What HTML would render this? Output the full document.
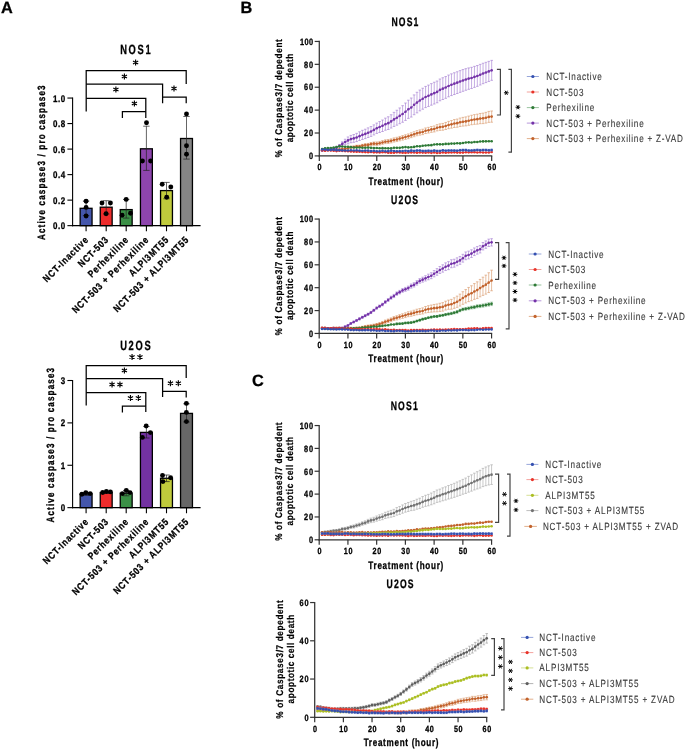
<!DOCTYPE html>
<html><head><meta charset="utf-8"><title>Figure</title>
<style>
html,body{margin:0;padding:0;background:#fff;}
body{width:685px;height:749px;overflow:hidden;}
svg{display:block;font-family:"Liberation Sans", sans-serif;will-change:transform;text-rendering:geometricPrecision;}
</style></head>
<body>
<svg width="685" height="749" viewBox="0 0 685 749">
<rect width="685" height="749" fill="#fff"/>
<text x="1" y="12.9" font-size="16.3" font-weight="bold" stroke="#000" stroke-width="0.3">A</text>
<text x="240.6" y="12.8" font-size="16.3" font-weight="bold" stroke="#000" stroke-width="0.3">B</text>
<text x="252" y="386.4" font-size="16.3" font-weight="bold" stroke="#000" stroke-width="0.3">C</text>
<rect x="80.15" y="208.3" width="11.9" height="17.35" fill="#4456AB" stroke="#000" stroke-width="1.3"/>
<rect x="100.25" y="207.2" width="11.9" height="18.45" fill="#EE2C2C" stroke="#000" stroke-width="1.3"/>
<rect x="120.25" y="209.6" width="11.9" height="16.05" fill="#3B9046" stroke="#000" stroke-width="1.3"/>
<rect x="140.45" y="148.8" width="11.9" height="76.85" fill="#8E45AE" stroke="#000" stroke-width="1.3"/>
<rect x="160.55" y="190.6" width="11.9" height="35.05" fill="#C0CB3C" stroke="#000" stroke-width="1.3"/>
<rect x="180.55" y="138.5" width="11.9" height="87.15" fill="#858585" stroke="#000" stroke-width="1.3"/>
<line x1="86.1" y1="201" x2="86.1" y2="215.5" stroke="#222" stroke-width="0.7"/>
<line x1="82.9" y1="201" x2="89.3" y2="201" stroke="#222" stroke-width="0.7"/>
<line x1="82.9" y1="215.5" x2="89.3" y2="215.5" stroke="#222" stroke-width="0.7"/>
<line x1="106.2" y1="200.7" x2="106.2" y2="214" stroke="#222" stroke-width="0.7"/>
<line x1="103" y1="200.7" x2="109.4" y2="200.7" stroke="#222" stroke-width="0.7"/>
<line x1="103" y1="214" x2="109.4" y2="214" stroke="#222" stroke-width="0.7"/>
<line x1="126.2" y1="199.4" x2="126.2" y2="218.1" stroke="#222" stroke-width="0.7"/>
<line x1="123" y1="199.4" x2="129.4" y2="199.4" stroke="#222" stroke-width="0.7"/>
<line x1="123" y1="218.1" x2="129.4" y2="218.1" stroke="#222" stroke-width="0.7"/>
<line x1="146.4" y1="126.2" x2="146.4" y2="170.4" stroke="#222" stroke-width="0.7"/>
<line x1="143.2" y1="126.2" x2="149.6" y2="126.2" stroke="#222" stroke-width="0.7"/>
<line x1="143.2" y1="170.4" x2="149.6" y2="170.4" stroke="#222" stroke-width="0.7"/>
<line x1="166.5" y1="182.4" x2="166.5" y2="198.8" stroke="#222" stroke-width="0.7"/>
<line x1="163.3" y1="182.4" x2="169.7" y2="182.4" stroke="#222" stroke-width="0.7"/>
<line x1="163.3" y1="198.8" x2="169.7" y2="198.8" stroke="#222" stroke-width="0.7"/>
<line x1="186.5" y1="116.5" x2="186.5" y2="159.1" stroke="#222" stroke-width="0.7"/>
<line x1="183.3" y1="116.5" x2="189.7" y2="116.5" stroke="#222" stroke-width="0.7"/>
<line x1="183.3" y1="159.1" x2="189.7" y2="159.1" stroke="#222" stroke-width="0.7"/>
<circle cx="86.1" cy="201.2" r="2.45" fill="#000"/>
<circle cx="86.1" cy="207.4" r="2.45" fill="#000"/>
<circle cx="86.1" cy="216" r="2.45" fill="#000"/>
<circle cx="102" cy="203" r="2.45" fill="#000"/>
<circle cx="110.4" cy="203" r="2.45" fill="#000"/>
<circle cx="106.1" cy="213.7" r="2.45" fill="#000"/>
<circle cx="126.2" cy="199.4" r="2.45" fill="#000"/>
<circle cx="122.1" cy="215.3" r="2.45" fill="#000"/>
<circle cx="130.5" cy="213.2" r="2.45" fill="#000"/>
<circle cx="146.5" cy="122.8" r="2.45" fill="#000"/>
<circle cx="142.4" cy="161" r="2.45" fill="#000"/>
<circle cx="150.6" cy="161" r="2.45" fill="#000"/>
<circle cx="162.2" cy="184.2" r="2.45" fill="#000"/>
<circle cx="170.8" cy="187" r="2.45" fill="#000"/>
<circle cx="166.7" cy="197.3" r="2.45" fill="#000"/>
<circle cx="186.5" cy="113.9" r="2.45" fill="#000"/>
<circle cx="186.5" cy="145.7" r="2.45" fill="#000"/>
<circle cx="186.5" cy="154.3" r="2.45" fill="#000"/>
<line x1="72.6" y1="97.55" x2="72.6" y2="226.2" stroke="#000" stroke-width="1.1"/>
<line x1="72.05" y1="225.65" x2="200.6" y2="225.65" stroke="#000" stroke-width="1.1"/>
<line x1="67.4" y1="225.65" x2="72.6" y2="225.65" stroke="#000" stroke-width="1.1"/>
<text transform="translate(65.2 229.15) scale(0.83 1)" x="0" y="0" font-size="9.6" font-weight="bold" text-anchor="end" textLength="14.7" lengthAdjust="spacing" stroke="#000" stroke-width="0.3">0.0</text>
<line x1="67.4" y1="200.13" x2="72.6" y2="200.13" stroke="#000" stroke-width="1.1"/>
<text transform="translate(65.2 203.63) scale(0.83 1)" x="0" y="0" font-size="9.6" font-weight="bold" text-anchor="end" textLength="14.7" lengthAdjust="spacing" stroke="#000" stroke-width="0.3">0.2</text>
<line x1="67.4" y1="174.61" x2="72.6" y2="174.61" stroke="#000" stroke-width="1.1"/>
<text transform="translate(65.2 178.11) scale(0.83 1)" x="0" y="0" font-size="9.6" font-weight="bold" text-anchor="end" textLength="14.7" lengthAdjust="spacing" stroke="#000" stroke-width="0.3">0.4</text>
<line x1="67.4" y1="149.09" x2="72.6" y2="149.09" stroke="#000" stroke-width="1.1"/>
<text transform="translate(65.2 152.59) scale(0.83 1)" x="0" y="0" font-size="9.6" font-weight="bold" text-anchor="end" textLength="14.7" lengthAdjust="spacing" stroke="#000" stroke-width="0.3">0.6</text>
<line x1="67.4" y1="123.57" x2="72.6" y2="123.57" stroke="#000" stroke-width="1.1"/>
<text transform="translate(65.2 127.07) scale(0.83 1)" x="0" y="0" font-size="9.6" font-weight="bold" text-anchor="end" textLength="14.7" lengthAdjust="spacing" stroke="#000" stroke-width="0.3">0.8</text>
<line x1="67.4" y1="98.05" x2="72.6" y2="98.05" stroke="#000" stroke-width="1.1"/>
<text transform="translate(65.2 101.55) scale(0.83 1)" x="0" y="0" font-size="9.6" font-weight="bold" text-anchor="end" textLength="14.7" lengthAdjust="spacing" stroke="#000" stroke-width="0.3">1.0</text>
<line x1="86.1" y1="225.65" x2="86.1" y2="231.25" stroke="#000" stroke-width="1.1"/>
<line x1="106.2" y1="225.65" x2="106.2" y2="231.25" stroke="#000" stroke-width="1.1"/>
<line x1="126.2" y1="225.65" x2="126.2" y2="231.25" stroke="#000" stroke-width="1.1"/>
<line x1="146.4" y1="225.65" x2="146.4" y2="231.25" stroke="#000" stroke-width="1.1"/>
<line x1="166.5" y1="225.65" x2="166.5" y2="231.25" stroke="#000" stroke-width="1.1"/>
<line x1="186.5" y1="225.65" x2="186.5" y2="231.25" stroke="#000" stroke-width="1.1"/>
<text transform="translate(89.3 240.25) rotate(-45) scale(0.85 1)" x="0" y="0" font-size="9.8" font-weight="bold" text-anchor="end" stroke="#000" stroke-width="0.3" letter-spacing="0.94">NCT-Inactive</text>
<text transform="translate(109.4 240.25) rotate(-45) scale(0.85 1)" x="0" y="0" font-size="9.8" font-weight="bold" text-anchor="end" stroke="#000" stroke-width="0.3" letter-spacing="0.94">NCT-503</text>
<text transform="translate(129.4 240.25) rotate(-45) scale(0.85 1)" x="0" y="0" font-size="9.8" font-weight="bold" text-anchor="end" stroke="#000" stroke-width="0.3" letter-spacing="0.94">Perhexiline</text>
<text transform="translate(149.6 240.25) rotate(-45) scale(0.85 1)" x="0" y="0" font-size="9.8" font-weight="bold" text-anchor="end" stroke="#000" stroke-width="0.3" letter-spacing="0.94">NCT-503 + Perhexiline</text>
<text transform="translate(169.7 240.25) rotate(-45) scale(0.85 1)" x="0" y="0" font-size="9.8" font-weight="bold" text-anchor="end" stroke="#000" stroke-width="0.3" letter-spacing="0.94">ALPI3MT55</text>
<text transform="translate(189.7 240.25) rotate(-45) scale(0.85 1)" x="0" y="0" font-size="9.8" font-weight="bold" text-anchor="end" stroke="#000" stroke-width="0.3" letter-spacing="0.94">NCT-503 + ALPI3MT55</text>
<text transform="translate(45.3 162.7) rotate(-90) scale(0.76 1)" x="0" y="0" font-size="10.6" font-weight="bold" text-anchor="middle" textLength="203.42" lengthAdjust="spacing" stroke="#000" stroke-width="0.3">Active caspase3 / pro caspase3</text>
<text transform="translate(120.2 54) scale(0.7 1)" x="0" y="0" font-size="13.3" font-weight="bold" textLength="43.43" lengthAdjust="spacing" stroke="#000" stroke-width="0.3">NOS1</text>
<polyline points="86.2,111.4 86.2,70.6 186.2,70.6 186.2,84" fill="none" stroke="#000" stroke-width="1.25"/>
<polyline points="86.2,84.2 162.6,84.2 162.6,103.2" fill="none" stroke="#000" stroke-width="1.25"/>
<polyline points="86.2,98.4 145.8,98.4 145.8,118" fill="none" stroke="#000" stroke-width="1.25"/>
<polyline points="122.4,118 122.4,111.6 145.8,111.6" fill="none" stroke="#000" stroke-width="1.25"/>
<polyline points="162.6,97 186.2,97 186.2,103.2" fill="none" stroke="#000" stroke-width="1.25"/>
<path d="M135.6 59.6L135.6 65.6M133 61.1L138.2 64.1M138.2 61.1L133 64.1" stroke="#000" stroke-width="1.15" fill="none"/>
<path d="M124.4 73.4L124.4 79.4M121.8 74.9L127 77.9M127 74.9L121.8 77.9" stroke="#000" stroke-width="1.15" fill="none"/>
<path d="M115.9 86.6L115.9 92.6M113.3 88.1L118.5 91.1M118.5 88.1L113.3 91.1" stroke="#000" stroke-width="1.15" fill="none"/>
<path d="M134.4 100.6L134.4 106.6M131.8 102.1L137 105.1M137 102.1L131.8 105.1" stroke="#000" stroke-width="1.15" fill="none"/>
<path d="M174 85.6L174 91.6M171.4 87.1L176.6 90.1M176.6 87.1L171.4 90.1" stroke="#000" stroke-width="1.15" fill="none"/>
<rect x="80.15" y="494" width="11.9" height="13.65" fill="#4456AB" stroke="#000" stroke-width="1.3"/>
<rect x="100.25" y="492.5" width="11.9" height="15.15" fill="#EE2C2C" stroke="#000" stroke-width="1.3"/>
<rect x="120.25" y="493.2" width="11.9" height="14.45" fill="#3B9046" stroke="#000" stroke-width="1.3"/>
<rect x="140.45" y="432.4" width="11.9" height="75.25" fill="#7332A2" stroke="#000" stroke-width="1.3"/>
<rect x="160.55" y="478.3" width="11.9" height="29.35" fill="#C0CB3C" stroke="#000" stroke-width="1.3"/>
<rect x="180.55" y="413.4" width="11.9" height="94.25" fill="#676767" stroke="#000" stroke-width="1.3"/>
<line x1="86.1" y1="492.6" x2="86.1" y2="495.5" stroke="#222" stroke-width="0.7"/>
<line x1="82.9" y1="492.6" x2="89.3" y2="492.6" stroke="#222" stroke-width="0.7"/>
<line x1="82.9" y1="495.5" x2="89.3" y2="495.5" stroke="#222" stroke-width="0.7"/>
<line x1="106.2" y1="491.5" x2="106.2" y2="493.5" stroke="#222" stroke-width="0.7"/>
<line x1="103" y1="491.5" x2="109.4" y2="491.5" stroke="#222" stroke-width="0.7"/>
<line x1="103" y1="493.5" x2="109.4" y2="493.5" stroke="#222" stroke-width="0.7"/>
<line x1="126.2" y1="490.4" x2="126.2" y2="495.8" stroke="#222" stroke-width="0.7"/>
<line x1="123" y1="490.4" x2="129.4" y2="490.4" stroke="#222" stroke-width="0.7"/>
<line x1="123" y1="495.8" x2="129.4" y2="495.8" stroke="#222" stroke-width="0.7"/>
<line x1="146.4" y1="426.5" x2="146.4" y2="438" stroke="#222" stroke-width="0.7"/>
<line x1="143.2" y1="426.5" x2="149.6" y2="426.5" stroke="#222" stroke-width="0.7"/>
<line x1="143.2" y1="438" x2="149.6" y2="438" stroke="#222" stroke-width="0.7"/>
<line x1="166.5" y1="475" x2="166.5" y2="481.6" stroke="#222" stroke-width="0.7"/>
<line x1="163.3" y1="475" x2="169.7" y2="475" stroke="#222" stroke-width="0.7"/>
<line x1="163.3" y1="481.6" x2="169.7" y2="481.6" stroke="#222" stroke-width="0.7"/>
<line x1="186.5" y1="403.8" x2="186.5" y2="422" stroke="#222" stroke-width="0.7"/>
<line x1="183.3" y1="403.8" x2="189.7" y2="403.8" stroke="#222" stroke-width="0.7"/>
<line x1="183.3" y1="422" x2="189.7" y2="422" stroke="#222" stroke-width="0.7"/>
<circle cx="81.9" cy="494.3" r="2.45" fill="#000"/>
<circle cx="85.8" cy="492.6" r="2.45" fill="#000"/>
<circle cx="90.2" cy="493.6" r="2.45" fill="#000"/>
<circle cx="102.7" cy="492.5" r="2.45" fill="#000"/>
<circle cx="106.4" cy="491.5" r="2.45" fill="#000"/>
<circle cx="110.4" cy="491.9" r="2.45" fill="#000"/>
<circle cx="122.4" cy="493.6" r="2.45" fill="#000"/>
<circle cx="126.3" cy="490.4" r="2.45" fill="#000"/>
<circle cx="130" cy="492.6" r="2.45" fill="#000"/>
<circle cx="146.2" cy="426" r="2.45" fill="#000"/>
<circle cx="150.4" cy="432.6" r="2.45" fill="#000"/>
<circle cx="142.4" cy="437.4" r="2.45" fill="#000"/>
<circle cx="162.5" cy="475.5" r="2.45" fill="#000"/>
<circle cx="170.6" cy="477.7" r="2.45" fill="#000"/>
<circle cx="162.9" cy="481.6" r="2.45" fill="#000"/>
<circle cx="186.4" cy="403.4" r="2.45" fill="#000"/>
<circle cx="186.4" cy="412.4" r="2.45" fill="#000"/>
<circle cx="186.4" cy="421.6" r="2.45" fill="#000"/>
<line x1="72.6" y1="380.01" x2="72.6" y2="508.2" stroke="#000" stroke-width="1.1"/>
<line x1="72.05" y1="507.65" x2="200.6" y2="507.65" stroke="#000" stroke-width="1.1"/>
<line x1="67.4" y1="507.65" x2="72.6" y2="507.65" stroke="#000" stroke-width="1.1"/>
<text transform="translate(65.2 511.15) scale(0.83 1)" x="0" y="0" font-size="9.6" font-weight="bold" text-anchor="end" stroke="#000" stroke-width="0.3">0</text>
<line x1="67.4" y1="465.27" x2="72.6" y2="465.27" stroke="#000" stroke-width="1.1"/>
<text transform="translate(65.2 468.77) scale(0.83 1)" x="0" y="0" font-size="9.6" font-weight="bold" text-anchor="end" stroke="#000" stroke-width="0.3">1</text>
<line x1="67.4" y1="422.89" x2="72.6" y2="422.89" stroke="#000" stroke-width="1.1"/>
<text transform="translate(65.2 426.39) scale(0.83 1)" x="0" y="0" font-size="9.6" font-weight="bold" text-anchor="end" stroke="#000" stroke-width="0.3">2</text>
<line x1="67.4" y1="380.51" x2="72.6" y2="380.51" stroke="#000" stroke-width="1.1"/>
<text transform="translate(65.2 384.01) scale(0.83 1)" x="0" y="0" font-size="9.6" font-weight="bold" text-anchor="end" stroke="#000" stroke-width="0.3">3</text>
<line x1="86.1" y1="507.65" x2="86.1" y2="513.25" stroke="#000" stroke-width="1.1"/>
<line x1="106.2" y1="507.65" x2="106.2" y2="513.25" stroke="#000" stroke-width="1.1"/>
<line x1="126.2" y1="507.65" x2="126.2" y2="513.25" stroke="#000" stroke-width="1.1"/>
<line x1="146.4" y1="507.65" x2="146.4" y2="513.25" stroke="#000" stroke-width="1.1"/>
<line x1="166.5" y1="507.65" x2="166.5" y2="513.25" stroke="#000" stroke-width="1.1"/>
<line x1="186.5" y1="507.65" x2="186.5" y2="513.25" stroke="#000" stroke-width="1.1"/>
<text transform="translate(89.3 522.25) rotate(-45) scale(0.85 1)" x="0" y="0" font-size="9.8" font-weight="bold" text-anchor="end" stroke="#000" stroke-width="0.3" letter-spacing="0.94">NCT-Inactive</text>
<text transform="translate(109.4 522.25) rotate(-45) scale(0.85 1)" x="0" y="0" font-size="9.8" font-weight="bold" text-anchor="end" stroke="#000" stroke-width="0.3" letter-spacing="0.94">NCT-503</text>
<text transform="translate(129.4 522.25) rotate(-45) scale(0.85 1)" x="0" y="0" font-size="9.8" font-weight="bold" text-anchor="end" stroke="#000" stroke-width="0.3" letter-spacing="0.94">Perhexiline</text>
<text transform="translate(149.6 522.25) rotate(-45) scale(0.85 1)" x="0" y="0" font-size="9.8" font-weight="bold" text-anchor="end" stroke="#000" stroke-width="0.3" letter-spacing="0.94">NCT-503 + Perhexiline</text>
<text transform="translate(169.7 522.25) rotate(-45) scale(0.85 1)" x="0" y="0" font-size="9.8" font-weight="bold" text-anchor="end" stroke="#000" stroke-width="0.3" letter-spacing="0.94">ALPI3MT55</text>
<text transform="translate(189.7 522.25) rotate(-45) scale(0.85 1)" x="0" y="0" font-size="9.8" font-weight="bold" text-anchor="end" stroke="#000" stroke-width="0.3" letter-spacing="0.94">NCT-503 + ALPI3MT55</text>
<text transform="translate(53.7 445.2) rotate(-90) scale(0.76 1)" x="0" y="0" font-size="10.6" font-weight="bold" text-anchor="middle" textLength="203.42" lengthAdjust="spacing" stroke="#000" stroke-width="0.3">Active caspase3 / pro caspase3</text>
<text transform="translate(120.2 350.4) scale(0.7 1)" x="0" y="0" font-size="13.3" font-weight="bold" textLength="43.43" lengthAdjust="spacing" stroke="#000" stroke-width="0.3">U2OS</text>
<polyline points="86.2,405.6 86.2,365.6 186.2,365.6 186.2,378" fill="none" stroke="#000" stroke-width="1.25"/>
<polyline points="86.2,378.6 162.6,378.6 162.6,397" fill="none" stroke="#000" stroke-width="1.25"/>
<polyline points="86.2,392.6 145.8,392.6 145.8,412" fill="none" stroke="#000" stroke-width="1.25"/>
<polyline points="122.4,412.4 122.4,406.2 145.8,406.2" fill="none" stroke="#000" stroke-width="1.25"/>
<polyline points="162.6,391.4 186.2,391.4 186.2,397.4" fill="none" stroke="#000" stroke-width="1.25"/>
<path d="M132.05 354L132.05 360M129.45 355.5L134.65 358.5M134.65 355.5L129.45 358.5" stroke="#000" stroke-width="1.15" fill="none"/>
<path d="M139.95 354L139.95 360M137.35 355.5L142.55 358.5M142.55 355.5L137.35 358.5" stroke="#000" stroke-width="1.15" fill="none"/>
<path d="M124.4 367.6L124.4 373.6M121.8 369.1L127 372.1M127 369.1L121.8 372.1" stroke="#000" stroke-width="1.15" fill="none"/>
<path d="M112.05 381.4L112.05 387.4M109.45 382.9L114.65 385.9M114.65 382.9L109.45 385.9" stroke="#000" stroke-width="1.15" fill="none"/>
<path d="M119.95 381.4L119.95 387.4M117.35 382.9L122.55 385.9M122.55 382.9L117.35 385.9" stroke="#000" stroke-width="1.15" fill="none"/>
<path d="M130.45 395L130.45 401M127.85 396.5L133.05 399.5M133.05 396.5L127.85 399.5" stroke="#000" stroke-width="1.15" fill="none"/>
<path d="M138.35 395L138.35 401M135.75 396.5L140.95 399.5M140.95 396.5L135.75 399.5" stroke="#000" stroke-width="1.15" fill="none"/>
<path d="M170.45 380.2L170.45 386.2M167.85 381.7L173.05 384.7M173.05 381.7L167.85 384.7" stroke="#000" stroke-width="1.15" fill="none"/>
<path d="M178.35 380.2L178.35 386.2M175.75 381.7L180.95 384.7M180.95 381.7L175.75 384.7" stroke="#000" stroke-width="1.15" fill="none"/>
<path d="M339.41 148.7V150.3M338.11 148.7H340.71M338.11 150.3H340.71M342.28 148.25V149.93M340.98 148.25H343.58M340.98 149.93H343.58M345.16 148.04V149.8M343.86 148.04H346.46M343.86 149.8H346.46M348.03 147.36V149.19M346.73 147.36H349.33M346.73 149.19H349.33M350.9 146.24V148.23M349.6 146.24H352.2M349.6 148.23H352.2M353.78 145.94V148.09M352.48 145.94H355.08M352.48 148.09H355.08M356.65 145.21V147.52M355.35 145.21H357.95M355.35 147.52H357.95M359.52 145.11V147.58M358.22 145.11H360.82M358.22 147.58H360.82M362.4 144.33V146.97M361.1 144.33H363.7M361.1 146.97H363.7M365.27 143.66V146.45M363.97 143.66H366.57M363.97 146.45H366.57M368.14 143.42V146.37M366.84 143.42H369.44M366.84 146.37H369.44M371.01 142.49V145.6M369.71 142.49H372.31M369.71 145.6H372.31M373.89 142V145.27M372.59 142H375.19M372.59 145.27H375.19M376.76 141.96V145.39M375.46 141.96H378.06M375.46 145.39H378.06M379.63 141.44V144.98M378.33 141.44H380.93M378.33 144.98H380.93M382.51 140.6V144.26M381.21 140.6H383.81M381.21 144.26H383.81M385.38 139.83V143.6M384.08 139.83H386.68M384.08 143.6H386.68M388.25 139.51V143.4M386.95 139.51H389.55M386.95 143.4H389.55M391.12 138.87V142.87M389.82 138.87H392.43M389.82 142.87H392.43M394 137.92V142.04M392.7 137.92H395.3M392.7 142.04H395.3M396.87 137.31V141.55M395.57 137.31H398.17M395.57 141.55H398.17M399.74 136.44V140.79M398.44 136.44H401.04M398.44 140.79H401.04M402.62 135.62V140.08M401.32 135.62H403.92M401.32 140.08H403.92M405.49 134.79V139.37M404.19 134.79H406.79M404.19 139.37H406.79M408.36 133.96V138.68M407.06 133.96H409.66M407.06 138.68H409.66M411.24 132.81V137.67M409.94 132.81H412.54M409.94 137.67H412.54M414.11 131.73V136.72M412.81 131.73H415.41M412.81 136.72H415.41M416.98 130.63V135.75M415.68 130.63H418.28M415.68 135.75H418.28M419.86 129.87V135.14M418.56 129.87H421.16M418.56 135.14H421.16M422.73 129.24V134.64M421.43 129.24H424.03M421.43 134.64H424.03M425.6 127.98V133.52M424.3 127.98H426.9M424.3 133.52H426.9M428.47 127.35V133.03M427.17 127.35H429.77M427.17 133.03H429.77M431.35 126.51V132.32M430.05 126.51H432.65M430.05 132.32H432.65M434.22 125.98V131.93M432.92 125.98H435.52M432.92 131.93H435.52M437.09 124.66V130.88M435.79 124.66H438.39M435.79 130.88H438.39M439.97 123.87V130.37M438.67 123.87H441.27M438.67 130.37H441.27M442.84 123.43V130.21M441.54 123.43H444.14M441.54 130.21H444.14M445.71 122.45V129.5M444.41 122.45H447.01M444.41 129.5H447.01M448.59 121.36V128.69M447.29 121.36H449.89M447.29 128.69H449.89M451.46 120.53V128.13M450.16 120.53H452.76M450.16 128.13H452.76M454.33 119.58V127.46M453.03 119.58H455.63M453.03 127.46H455.63M457.2 119.08V127.23M455.9 119.08H458.5M455.9 127.23H458.5M460.08 118.05V126.47M458.78 118.05H461.38M458.78 126.47H461.38M462.95 117.39V126.09M461.65 117.39H464.25M461.65 126.09H464.25M465.82 116.9V125.85M464.52 116.9H467.12M464.52 125.85H467.12M468.7 116.09V125.29M467.4 116.09H470M467.4 125.29H470M471.57 115.27V124.72M470.27 115.27H472.87M470.27 124.72H472.87M474.44 114.64V124.34M473.14 114.64H475.74M473.14 124.34H475.74M477.32 114.18V124.14M476.02 114.18H478.62M476.02 124.14H478.62M480.19 113.48V123.69M478.89 113.48H481.49M478.89 123.69H481.49M483.06 113.14V123.61M481.76 113.14H484.36M481.76 123.61H484.36M485.93 112.37V123.09M484.63 112.37H487.23M484.63 123.09H487.23M488.81 111.4V122.37M487.51 111.4H490.11M487.51 122.37H490.11M491.68 110.97V122.19M490.38 110.97H492.98M490.38 122.19H492.98" stroke="#DA9A6E" stroke-width="0.65" fill="none"/>
<polyline points="322.17,150.39 325.05,149.88 327.92,149.83 330.79,150.02 333.67,149.79 336.54,149.72 339.41,149.5 342.28,149.09 345.16,148.92 348.03,148.27 350.9,147.24 353.78,147.01 356.65,146.37 359.52,146.35 362.4,145.65 365.27,145.05 368.14,144.9 371.01,144.05 373.89,143.63 376.76,143.68 379.63,143.21 382.51,142.43 385.38,141.71 388.25,141.45 391.12,140.87 394,139.98 396.87,139.43 399.74,138.62 402.62,137.85 405.49,137.08 408.36,136.32 411.24,135.24 414.11,134.23 416.98,133.19 419.86,132.51 422.73,131.94 425.6,130.75 428.47,130.19 431.35,129.42 434.22,128.95 437.09,127.77 439.97,127.12 442.84,126.82 445.71,125.97 448.59,125.02 451.46,124.33 454.33,123.52 457.2,123.15 460.08,122.26 462.95,121.74 465.82,121.38 468.7,120.69 471.57,120 474.44,119.49 477.32,119.16 480.19,118.58 483.06,118.37 485.93,117.73 488.81,116.89 491.68,116.58" fill="none" stroke="#C2622C" stroke-width="0.8"/>
<circle cx="322.17" cy="150.39" r="1.3" fill="#C2622C"/>
<circle cx="325.05" cy="149.88" r="1.3" fill="#C2622C"/>
<circle cx="327.92" cy="149.83" r="1.3" fill="#C2622C"/>
<circle cx="330.79" cy="150.02" r="1.3" fill="#C2622C"/>
<circle cx="333.67" cy="149.79" r="1.3" fill="#C2622C"/>
<circle cx="336.54" cy="149.72" r="1.3" fill="#C2622C"/>
<circle cx="339.41" cy="149.5" r="1.3" fill="#C2622C"/>
<circle cx="342.28" cy="149.09" r="1.3" fill="#C2622C"/>
<circle cx="345.16" cy="148.92" r="1.3" fill="#C2622C"/>
<circle cx="348.03" cy="148.27" r="1.3" fill="#C2622C"/>
<circle cx="350.9" cy="147.24" r="1.3" fill="#C2622C"/>
<circle cx="353.78" cy="147.01" r="1.3" fill="#C2622C"/>
<circle cx="356.65" cy="146.37" r="1.3" fill="#C2622C"/>
<circle cx="359.52" cy="146.35" r="1.3" fill="#C2622C"/>
<circle cx="362.4" cy="145.65" r="1.3" fill="#C2622C"/>
<circle cx="365.27" cy="145.05" r="1.3" fill="#C2622C"/>
<circle cx="368.14" cy="144.9" r="1.3" fill="#C2622C"/>
<circle cx="371.01" cy="144.05" r="1.3" fill="#C2622C"/>
<circle cx="373.89" cy="143.63" r="1.3" fill="#C2622C"/>
<circle cx="376.76" cy="143.68" r="1.3" fill="#C2622C"/>
<circle cx="379.63" cy="143.21" r="1.3" fill="#C2622C"/>
<circle cx="382.51" cy="142.43" r="1.3" fill="#C2622C"/>
<circle cx="385.38" cy="141.71" r="1.3" fill="#C2622C"/>
<circle cx="388.25" cy="141.45" r="1.3" fill="#C2622C"/>
<circle cx="391.12" cy="140.87" r="1.3" fill="#C2622C"/>
<circle cx="394" cy="139.98" r="1.3" fill="#C2622C"/>
<circle cx="396.87" cy="139.43" r="1.3" fill="#C2622C"/>
<circle cx="399.74" cy="138.62" r="1.3" fill="#C2622C"/>
<circle cx="402.62" cy="137.85" r="1.3" fill="#C2622C"/>
<circle cx="405.49" cy="137.08" r="1.3" fill="#C2622C"/>
<circle cx="408.36" cy="136.32" r="1.3" fill="#C2622C"/>
<circle cx="411.24" cy="135.24" r="1.3" fill="#C2622C"/>
<circle cx="414.11" cy="134.23" r="1.3" fill="#C2622C"/>
<circle cx="416.98" cy="133.19" r="1.3" fill="#C2622C"/>
<circle cx="419.86" cy="132.51" r="1.3" fill="#C2622C"/>
<circle cx="422.73" cy="131.94" r="1.3" fill="#C2622C"/>
<circle cx="425.6" cy="130.75" r="1.3" fill="#C2622C"/>
<circle cx="428.47" cy="130.19" r="1.3" fill="#C2622C"/>
<circle cx="431.35" cy="129.42" r="1.3" fill="#C2622C"/>
<circle cx="434.22" cy="128.95" r="1.3" fill="#C2622C"/>
<circle cx="437.09" cy="127.77" r="1.3" fill="#C2622C"/>
<circle cx="439.97" cy="127.12" r="1.3" fill="#C2622C"/>
<circle cx="442.84" cy="126.82" r="1.3" fill="#C2622C"/>
<circle cx="445.71" cy="125.97" r="1.3" fill="#C2622C"/>
<circle cx="448.59" cy="125.02" r="1.3" fill="#C2622C"/>
<circle cx="451.46" cy="124.33" r="1.3" fill="#C2622C"/>
<circle cx="454.33" cy="123.52" r="1.3" fill="#C2622C"/>
<circle cx="457.2" cy="123.15" r="1.3" fill="#C2622C"/>
<circle cx="460.08" cy="122.26" r="1.3" fill="#C2622C"/>
<circle cx="462.95" cy="121.74" r="1.3" fill="#C2622C"/>
<circle cx="465.82" cy="121.38" r="1.3" fill="#C2622C"/>
<circle cx="468.7" cy="120.69" r="1.3" fill="#C2622C"/>
<circle cx="471.57" cy="120" r="1.3" fill="#C2622C"/>
<circle cx="474.44" cy="119.49" r="1.3" fill="#C2622C"/>
<circle cx="477.32" cy="119.16" r="1.3" fill="#C2622C"/>
<circle cx="480.19" cy="118.58" r="1.3" fill="#C2622C"/>
<circle cx="483.06" cy="118.37" r="1.3" fill="#C2622C"/>
<circle cx="485.93" cy="117.73" r="1.3" fill="#C2622C"/>
<circle cx="488.81" cy="116.89" r="1.3" fill="#C2622C"/>
<circle cx="491.68" cy="116.58" r="1.3" fill="#C2622C"/>
<path d="M322.17 149.45V151.28M320.87 149.45H323.47M320.87 151.28H323.47M325.05 148.87V150.86M323.75 148.87H326.35M323.75 150.86H326.35M327.92 148.42V150.56M326.62 148.42H329.22M326.62 150.56H329.22M330.79 148.07V150.36M329.49 148.07H332.09M329.49 150.36H332.09M333.67 147.5V149.94M332.37 147.5H334.97M332.37 149.94H334.97M336.54 146.34V148.93M335.24 146.34H337.84M335.24 148.93H337.84M339.41 144.55V147.29M338.11 144.55H340.71M338.11 147.29H340.71M342.28 141.83V145.96M340.98 141.83H343.58M340.98 145.96H343.58M345.16 139.24V144.73M343.86 139.24H346.46M343.86 144.73H346.46M348.03 136.98V143.85M346.73 136.98H349.33M346.73 143.85H349.33M350.9 135.42V142.74M349.6 135.42H352.2M349.6 142.74H352.2M353.78 134.53V142.31M352.48 134.53H355.08M352.48 142.31H355.08M356.65 133.35V141.59M355.35 133.35H357.95M355.35 141.59H357.95M359.52 131.79V140.49M358.22 131.79H360.82M358.22 140.49H360.82M362.4 130.32V139.47M361.1 130.32H363.7M361.1 139.47H363.7M365.27 129.22V138.6M363.97 129.22H366.57M363.97 138.6H366.57M368.14 127.88V137.5M366.84 127.88H369.44M366.84 137.5H369.44M371.01 126.55V136.39M369.71 126.55H372.31M369.71 136.39H372.31M373.89 124.88V134.95M372.59 124.88H375.19M372.59 134.95H375.19M376.76 123.12V133.42M375.46 123.12H378.06M375.46 133.42H378.06M379.63 121.57V132.47M378.33 121.57H380.93M378.33 132.47H380.93M382.51 120.02V131.51M381.21 120.02H383.81M381.21 131.51H383.81M385.38 118.14V130.22M384.08 118.14H386.68M384.08 130.22H386.68M388.25 116.79V129.47M386.95 116.79H389.55M386.95 129.47H389.55M391.12 114.75V128.03M389.82 114.75H392.43M389.82 128.03H392.43M394 112.35V126.45M392.7 112.35H395.3M392.7 126.45H395.3M396.87 110.24V125.17M395.57 110.24H398.17M395.57 125.17H398.17M399.74 107.96V123.71M398.44 107.96H401.04M398.44 123.71H401.04M402.62 105.69V122.26M401.32 105.69H403.92M401.32 122.26H403.92M405.49 103.02V120.41M404.19 103.02H406.79M404.19 120.41H406.79M408.36 100.19V118.38M407.06 100.19H409.66M407.06 118.38H409.66M411.24 98.04V117.04M409.94 98.04H412.54M409.94 117.04H412.54M414.11 94.91V114.71M412.81 94.91H415.41M412.81 114.71H415.41M416.98 92.29V112.89M415.68 92.29H418.28M415.68 112.89H418.28M419.86 90.06V110.85M418.56 90.06H421.16M418.56 110.85H421.16M422.73 88.22V109.2M421.43 88.22H424.03M421.43 109.2H424.03M425.6 86.42V107.6M424.3 86.42H426.9M424.3 107.6H426.9M428.47 85.08V106.45M427.17 85.08H429.77M427.17 106.45H429.77M431.35 83.63V105.18M430.05 83.63H432.65M430.05 105.18H432.65M434.22 82.26V104.01M432.92 82.26H435.52M432.92 104.01H435.52M437.09 81.04V102.78M435.79 81.04H438.39M435.79 102.78H438.39M439.97 79.04V100.79M438.67 79.04H441.27M438.67 100.79H441.27M442.84 77.75V99.5M441.54 77.75H444.14M441.54 99.5H444.14M445.71 76.57V98.31M444.41 76.57H447.01M444.41 98.31H447.01M448.59 75.06V96.8M447.29 75.06H449.89M447.29 96.8H449.89M451.46 73.84V95.58M450.16 73.84H452.76M450.16 95.58H452.76M454.33 72.78V94.52M453.03 72.78H455.63M453.03 94.52H455.63M457.2 71.75V93.5M455.9 71.75H458.5M455.9 93.5H458.5M460.08 70.61V92.36M458.78 70.61H461.38M458.78 92.36H461.38M462.95 69.56V91.31M461.65 69.56H464.25M461.65 91.31H464.25M465.82 68.69V90.26M464.52 68.69H467.12M464.52 90.26H467.12M468.7 67.93V89.31M467.4 67.93H470M467.4 89.31H470M471.57 67.33V88.53M470.27 67.33H472.87M470.27 88.53H472.87M474.44 66.37V87.38M473.14 66.37H475.74M473.14 87.38H475.74M477.32 65.52V86.35M476.02 65.52H478.62M476.02 86.35H478.62M480.19 64.36V85.01M478.89 64.36H481.49M478.89 85.01H481.49M483.06 63.24V83.7M481.76 63.24H484.36M481.76 83.7H484.36M485.93 62.32V82.6M484.63 62.32H487.23M484.63 82.6H487.23M488.81 61.35V81.45M487.51 61.35H490.11M487.51 81.45H490.11M491.68 60.38V80.3M490.38 60.38H492.98M490.38 80.3H492.98" stroke="#A67ED2" stroke-width="0.65" fill="none"/>
<polyline points="322.17,150.36 325.05,149.86 327.92,149.49 330.79,149.22 333.67,148.72 336.54,147.64 339.41,145.92 342.28,143.9 345.16,141.98 348.03,140.41 350.9,139.08 353.78,138.42 356.65,137.47 359.52,136.14 362.4,134.9 365.27,133.91 368.14,132.69 371.01,131.47 373.89,129.92 376.76,128.27 379.63,127.02 382.51,125.76 385.38,124.18 388.25,123.13 391.12,121.39 394,119.4 396.87,117.71 399.74,115.83 402.62,113.97 405.49,111.71 408.36,109.29 411.24,107.54 414.11,104.81 416.98,102.59 419.86,100.46 422.73,98.71 425.6,97.01 428.47,95.76 431.35,94.41 434.22,93.13 437.09,91.91 439.97,89.92 442.84,88.63 445.71,87.44 448.59,85.93 451.46,84.71 454.33,83.65 457.2,82.63 460.08,81.49 462.95,80.44 465.82,79.47 468.7,78.62 471.57,77.93 474.44,76.88 477.32,75.93 480.19,74.68 483.06,73.47 485.93,72.46 488.81,71.4 491.68,70.34" fill="none" stroke="#7432A8" stroke-width="0.8"/>
<circle cx="322.17" cy="150.36" r="1.3" fill="#7432A8"/>
<circle cx="325.05" cy="149.86" r="1.3" fill="#7432A8"/>
<circle cx="327.92" cy="149.49" r="1.3" fill="#7432A8"/>
<circle cx="330.79" cy="149.22" r="1.3" fill="#7432A8"/>
<circle cx="333.67" cy="148.72" r="1.3" fill="#7432A8"/>
<circle cx="336.54" cy="147.64" r="1.3" fill="#7432A8"/>
<circle cx="339.41" cy="145.92" r="1.3" fill="#7432A8"/>
<circle cx="342.28" cy="143.9" r="1.3" fill="#7432A8"/>
<circle cx="345.16" cy="141.98" r="1.3" fill="#7432A8"/>
<circle cx="348.03" cy="140.41" r="1.3" fill="#7432A8"/>
<circle cx="350.9" cy="139.08" r="1.3" fill="#7432A8"/>
<circle cx="353.78" cy="138.42" r="1.3" fill="#7432A8"/>
<circle cx="356.65" cy="137.47" r="1.3" fill="#7432A8"/>
<circle cx="359.52" cy="136.14" r="1.3" fill="#7432A8"/>
<circle cx="362.4" cy="134.9" r="1.3" fill="#7432A8"/>
<circle cx="365.27" cy="133.91" r="1.3" fill="#7432A8"/>
<circle cx="368.14" cy="132.69" r="1.3" fill="#7432A8"/>
<circle cx="371.01" cy="131.47" r="1.3" fill="#7432A8"/>
<circle cx="373.89" cy="129.92" r="1.3" fill="#7432A8"/>
<circle cx="376.76" cy="128.27" r="1.3" fill="#7432A8"/>
<circle cx="379.63" cy="127.02" r="1.3" fill="#7432A8"/>
<circle cx="382.51" cy="125.76" r="1.3" fill="#7432A8"/>
<circle cx="385.38" cy="124.18" r="1.3" fill="#7432A8"/>
<circle cx="388.25" cy="123.13" r="1.3" fill="#7432A8"/>
<circle cx="391.12" cy="121.39" r="1.3" fill="#7432A8"/>
<circle cx="394" cy="119.4" r="1.3" fill="#7432A8"/>
<circle cx="396.87" cy="117.71" r="1.3" fill="#7432A8"/>
<circle cx="399.74" cy="115.83" r="1.3" fill="#7432A8"/>
<circle cx="402.62" cy="113.97" r="1.3" fill="#7432A8"/>
<circle cx="405.49" cy="111.71" r="1.3" fill="#7432A8"/>
<circle cx="408.36" cy="109.29" r="1.3" fill="#7432A8"/>
<circle cx="411.24" cy="107.54" r="1.3" fill="#7432A8"/>
<circle cx="414.11" cy="104.81" r="1.3" fill="#7432A8"/>
<circle cx="416.98" cy="102.59" r="1.3" fill="#7432A8"/>
<circle cx="419.86" cy="100.46" r="1.3" fill="#7432A8"/>
<circle cx="422.73" cy="98.71" r="1.3" fill="#7432A8"/>
<circle cx="425.6" cy="97.01" r="1.3" fill="#7432A8"/>
<circle cx="428.47" cy="95.76" r="1.3" fill="#7432A8"/>
<circle cx="431.35" cy="94.41" r="1.3" fill="#7432A8"/>
<circle cx="434.22" cy="93.13" r="1.3" fill="#7432A8"/>
<circle cx="437.09" cy="91.91" r="1.3" fill="#7432A8"/>
<circle cx="439.97" cy="89.92" r="1.3" fill="#7432A8"/>
<circle cx="442.84" cy="88.63" r="1.3" fill="#7432A8"/>
<circle cx="445.71" cy="87.44" r="1.3" fill="#7432A8"/>
<circle cx="448.59" cy="85.93" r="1.3" fill="#7432A8"/>
<circle cx="451.46" cy="84.71" r="1.3" fill="#7432A8"/>
<circle cx="454.33" cy="83.65" r="1.3" fill="#7432A8"/>
<circle cx="457.2" cy="82.63" r="1.3" fill="#7432A8"/>
<circle cx="460.08" cy="81.49" r="1.3" fill="#7432A8"/>
<circle cx="462.95" cy="80.44" r="1.3" fill="#7432A8"/>
<circle cx="465.82" cy="79.47" r="1.3" fill="#7432A8"/>
<circle cx="468.7" cy="78.62" r="1.3" fill="#7432A8"/>
<circle cx="471.57" cy="77.93" r="1.3" fill="#7432A8"/>
<circle cx="474.44" cy="76.88" r="1.3" fill="#7432A8"/>
<circle cx="477.32" cy="75.93" r="1.3" fill="#7432A8"/>
<circle cx="480.19" cy="74.68" r="1.3" fill="#7432A8"/>
<circle cx="483.06" cy="73.47" r="1.3" fill="#7432A8"/>
<circle cx="485.93" cy="72.46" r="1.3" fill="#7432A8"/>
<circle cx="488.81" cy="71.4" r="1.3" fill="#7432A8"/>
<circle cx="491.68" cy="70.34" r="1.3" fill="#7432A8"/>
<polyline points="322.17,148.94 325.05,148.3 327.92,148.09 330.79,148.05 333.67,147.63 336.54,147.1 339.41,146.36 342.28,146.54 345.16,146.79 348.03,146.71 350.9,147.14 353.78,147.5 356.65,147.6 359.52,147.47 362.4,147.76 365.27,147.79 368.14,147.62 371.01,147.86 373.89,148.02 376.76,148 379.63,148.32 382.51,148.16 385.38,148.19 388.25,148.36 391.12,148.38 394,147.81 396.87,147.84 399.74,147.83 402.62,147.42 405.49,147.11 408.36,147.38 411.24,147.2 414.11,146.91 416.98,146.32 419.86,146.35 422.73,145.74 425.6,145.46 428.47,145.25 431.35,145.14 434.22,144.45 437.09,144.34 439.97,144.33 442.84,144.33 445.71,143.91 448.59,143.89 451.46,143.61 454.33,143.58 457.2,143.24 460.08,143.39 462.95,143.07 465.82,142.49 468.7,142.34 471.57,142.46 474.44,141.94 477.32,142.05 480.19,141.48 483.06,141.39 485.93,141.37 488.81,141.25 491.68,141.19" fill="none" stroke="#2E7A36" stroke-width="0.8"/>
<circle cx="322.17" cy="148.94" r="1.3" fill="#2E7A36"/>
<circle cx="325.05" cy="148.3" r="1.3" fill="#2E7A36"/>
<circle cx="327.92" cy="148.09" r="1.3" fill="#2E7A36"/>
<circle cx="330.79" cy="148.05" r="1.3" fill="#2E7A36"/>
<circle cx="333.67" cy="147.63" r="1.3" fill="#2E7A36"/>
<circle cx="336.54" cy="147.1" r="1.3" fill="#2E7A36"/>
<circle cx="339.41" cy="146.36" r="1.3" fill="#2E7A36"/>
<circle cx="342.28" cy="146.54" r="1.3" fill="#2E7A36"/>
<circle cx="345.16" cy="146.79" r="1.3" fill="#2E7A36"/>
<circle cx="348.03" cy="146.71" r="1.3" fill="#2E7A36"/>
<circle cx="350.9" cy="147.14" r="1.3" fill="#2E7A36"/>
<circle cx="353.78" cy="147.5" r="1.3" fill="#2E7A36"/>
<circle cx="356.65" cy="147.6" r="1.3" fill="#2E7A36"/>
<circle cx="359.52" cy="147.47" r="1.3" fill="#2E7A36"/>
<circle cx="362.4" cy="147.76" r="1.3" fill="#2E7A36"/>
<circle cx="365.27" cy="147.79" r="1.3" fill="#2E7A36"/>
<circle cx="368.14" cy="147.62" r="1.3" fill="#2E7A36"/>
<circle cx="371.01" cy="147.86" r="1.3" fill="#2E7A36"/>
<circle cx="373.89" cy="148.02" r="1.3" fill="#2E7A36"/>
<circle cx="376.76" cy="148" r="1.3" fill="#2E7A36"/>
<circle cx="379.63" cy="148.32" r="1.3" fill="#2E7A36"/>
<circle cx="382.51" cy="148.16" r="1.3" fill="#2E7A36"/>
<circle cx="385.38" cy="148.19" r="1.3" fill="#2E7A36"/>
<circle cx="388.25" cy="148.36" r="1.3" fill="#2E7A36"/>
<circle cx="391.12" cy="148.38" r="1.3" fill="#2E7A36"/>
<circle cx="394" cy="147.81" r="1.3" fill="#2E7A36"/>
<circle cx="396.87" cy="147.84" r="1.3" fill="#2E7A36"/>
<circle cx="399.74" cy="147.83" r="1.3" fill="#2E7A36"/>
<circle cx="402.62" cy="147.42" r="1.3" fill="#2E7A36"/>
<circle cx="405.49" cy="147.11" r="1.3" fill="#2E7A36"/>
<circle cx="408.36" cy="147.38" r="1.3" fill="#2E7A36"/>
<circle cx="411.24" cy="147.2" r="1.3" fill="#2E7A36"/>
<circle cx="414.11" cy="146.91" r="1.3" fill="#2E7A36"/>
<circle cx="416.98" cy="146.32" r="1.3" fill="#2E7A36"/>
<circle cx="419.86" cy="146.35" r="1.3" fill="#2E7A36"/>
<circle cx="422.73" cy="145.74" r="1.3" fill="#2E7A36"/>
<circle cx="425.6" cy="145.46" r="1.3" fill="#2E7A36"/>
<circle cx="428.47" cy="145.25" r="1.3" fill="#2E7A36"/>
<circle cx="431.35" cy="145.14" r="1.3" fill="#2E7A36"/>
<circle cx="434.22" cy="144.45" r="1.3" fill="#2E7A36"/>
<circle cx="437.09" cy="144.34" r="1.3" fill="#2E7A36"/>
<circle cx="439.97" cy="144.33" r="1.3" fill="#2E7A36"/>
<circle cx="442.84" cy="144.33" r="1.3" fill="#2E7A36"/>
<circle cx="445.71" cy="143.91" r="1.3" fill="#2E7A36"/>
<circle cx="448.59" cy="143.89" r="1.3" fill="#2E7A36"/>
<circle cx="451.46" cy="143.61" r="1.3" fill="#2E7A36"/>
<circle cx="454.33" cy="143.58" r="1.3" fill="#2E7A36"/>
<circle cx="457.2" cy="143.24" r="1.3" fill="#2E7A36"/>
<circle cx="460.08" cy="143.39" r="1.3" fill="#2E7A36"/>
<circle cx="462.95" cy="143.07" r="1.3" fill="#2E7A36"/>
<circle cx="465.82" cy="142.49" r="1.3" fill="#2E7A36"/>
<circle cx="468.7" cy="142.34" r="1.3" fill="#2E7A36"/>
<circle cx="471.57" cy="142.46" r="1.3" fill="#2E7A36"/>
<circle cx="474.44" cy="141.94" r="1.3" fill="#2E7A36"/>
<circle cx="477.32" cy="142.05" r="1.3" fill="#2E7A36"/>
<circle cx="480.19" cy="141.48" r="1.3" fill="#2E7A36"/>
<circle cx="483.06" cy="141.39" r="1.3" fill="#2E7A36"/>
<circle cx="485.93" cy="141.37" r="1.3" fill="#2E7A36"/>
<circle cx="488.81" cy="141.25" r="1.3" fill="#2E7A36"/>
<circle cx="491.68" cy="141.19" r="1.3" fill="#2E7A36"/>
<polyline points="322.17,150.19 325.05,150.77 327.92,150.43 330.79,150.45 333.67,150.77 336.54,151.1 339.41,150.81 342.28,150.85 345.16,151.1 348.03,151.32 350.9,151.49 353.78,151.62 356.65,151.8 359.52,151.63 362.4,151.88 365.27,152.12 368.14,152.27 371.01,152.05 373.89,152.37 376.76,152.33 379.63,152.49 382.51,152.23 385.38,152.25 388.25,152.8 391.12,152.74 394,152.71 396.87,152.37 399.74,152.52 402.62,152.79 405.49,152.86 408.36,152.6 411.24,152.5 414.11,152.45 416.98,152.78 419.86,152.48 422.73,152.59 425.6,152.7 428.47,152.42 431.35,152.85 434.22,152.56 437.09,152.91 439.97,152.84 442.84,152.39 445.71,152.77 448.59,152.43 451.46,152.5 454.33,152.34 457.2,152.59 460.08,152.58 462.95,152.59 465.82,152.23 468.7,152.36 471.57,152.14 474.44,152.15 477.32,152.56 480.19,152.3 483.06,152.53 485.93,152.55 488.81,152.5 491.68,152.03" fill="none" stroke="#E83228" stroke-width="0.8"/>
<circle cx="322.17" cy="150.19" r="1.3" fill="#E83228"/>
<circle cx="325.05" cy="150.77" r="1.3" fill="#E83228"/>
<circle cx="327.92" cy="150.43" r="1.3" fill="#E83228"/>
<circle cx="330.79" cy="150.45" r="1.3" fill="#E83228"/>
<circle cx="333.67" cy="150.77" r="1.3" fill="#E83228"/>
<circle cx="336.54" cy="151.1" r="1.3" fill="#E83228"/>
<circle cx="339.41" cy="150.81" r="1.3" fill="#E83228"/>
<circle cx="342.28" cy="150.85" r="1.3" fill="#E83228"/>
<circle cx="345.16" cy="151.1" r="1.3" fill="#E83228"/>
<circle cx="348.03" cy="151.32" r="1.3" fill="#E83228"/>
<circle cx="350.9" cy="151.49" r="1.3" fill="#E83228"/>
<circle cx="353.78" cy="151.62" r="1.3" fill="#E83228"/>
<circle cx="356.65" cy="151.8" r="1.3" fill="#E83228"/>
<circle cx="359.52" cy="151.63" r="1.3" fill="#E83228"/>
<circle cx="362.4" cy="151.88" r="1.3" fill="#E83228"/>
<circle cx="365.27" cy="152.12" r="1.3" fill="#E83228"/>
<circle cx="368.14" cy="152.27" r="1.3" fill="#E83228"/>
<circle cx="371.01" cy="152.05" r="1.3" fill="#E83228"/>
<circle cx="373.89" cy="152.37" r="1.3" fill="#E83228"/>
<circle cx="376.76" cy="152.33" r="1.3" fill="#E83228"/>
<circle cx="379.63" cy="152.49" r="1.3" fill="#E83228"/>
<circle cx="382.51" cy="152.23" r="1.3" fill="#E83228"/>
<circle cx="385.38" cy="152.25" r="1.3" fill="#E83228"/>
<circle cx="388.25" cy="152.8" r="1.3" fill="#E83228"/>
<circle cx="391.12" cy="152.74" r="1.3" fill="#E83228"/>
<circle cx="394" cy="152.71" r="1.3" fill="#E83228"/>
<circle cx="396.87" cy="152.37" r="1.3" fill="#E83228"/>
<circle cx="399.74" cy="152.52" r="1.3" fill="#E83228"/>
<circle cx="402.62" cy="152.79" r="1.3" fill="#E83228"/>
<circle cx="405.49" cy="152.86" r="1.3" fill="#E83228"/>
<circle cx="408.36" cy="152.6" r="1.3" fill="#E83228"/>
<circle cx="411.24" cy="152.5" r="1.3" fill="#E83228"/>
<circle cx="414.11" cy="152.45" r="1.3" fill="#E83228"/>
<circle cx="416.98" cy="152.78" r="1.3" fill="#E83228"/>
<circle cx="419.86" cy="152.48" r="1.3" fill="#E83228"/>
<circle cx="422.73" cy="152.59" r="1.3" fill="#E83228"/>
<circle cx="425.6" cy="152.7" r="1.3" fill="#E83228"/>
<circle cx="428.47" cy="152.42" r="1.3" fill="#E83228"/>
<circle cx="431.35" cy="152.85" r="1.3" fill="#E83228"/>
<circle cx="434.22" cy="152.56" r="1.3" fill="#E83228"/>
<circle cx="437.09" cy="152.91" r="1.3" fill="#E83228"/>
<circle cx="439.97" cy="152.84" r="1.3" fill="#E83228"/>
<circle cx="442.84" cy="152.39" r="1.3" fill="#E83228"/>
<circle cx="445.71" cy="152.77" r="1.3" fill="#E83228"/>
<circle cx="448.59" cy="152.43" r="1.3" fill="#E83228"/>
<circle cx="451.46" cy="152.5" r="1.3" fill="#E83228"/>
<circle cx="454.33" cy="152.34" r="1.3" fill="#E83228"/>
<circle cx="457.2" cy="152.59" r="1.3" fill="#E83228"/>
<circle cx="460.08" cy="152.58" r="1.3" fill="#E83228"/>
<circle cx="462.95" cy="152.59" r="1.3" fill="#E83228"/>
<circle cx="465.82" cy="152.23" r="1.3" fill="#E83228"/>
<circle cx="468.7" cy="152.36" r="1.3" fill="#E83228"/>
<circle cx="471.57" cy="152.14" r="1.3" fill="#E83228"/>
<circle cx="474.44" cy="152.15" r="1.3" fill="#E83228"/>
<circle cx="477.32" cy="152.56" r="1.3" fill="#E83228"/>
<circle cx="480.19" cy="152.3" r="1.3" fill="#E83228"/>
<circle cx="483.06" cy="152.53" r="1.3" fill="#E83228"/>
<circle cx="485.93" cy="152.55" r="1.3" fill="#E83228"/>
<circle cx="488.81" cy="152.5" r="1.3" fill="#E83228"/>
<circle cx="491.68" cy="152.03" r="1.3" fill="#E83228"/>
<path d="M408.36 150.35V151.95M407.06 150.35H409.66M407.06 151.95H409.66M411.24 149.86V151.47M409.94 149.86H412.54M409.94 151.47H412.54M414.11 150.14V151.76M412.81 150.14H415.41M412.81 151.76H415.41M416.98 149.78V151.41M415.68 149.78H418.28M415.68 151.41H418.28M419.86 149.79V151.43M418.56 149.79H421.16M418.56 151.43H421.16M422.73 150.12V151.77M421.43 150.12H424.03M421.43 151.77H424.03M425.6 150.12V151.77M424.3 150.12H426.9M424.3 151.77H426.9M428.47 149.97V151.63M427.17 149.97H429.77M427.17 151.63H429.77M431.35 150.16V151.83M430.05 150.16H432.65M430.05 151.83H432.65M434.22 149.82V151.5M432.92 149.82H435.52M432.92 151.5H435.52M437.09 150.14V151.82M435.79 150.14H438.39M435.79 151.82H438.39M439.97 150.12V151.81M438.67 150.12H441.27M438.67 151.81H441.27M442.84 149.52V151.22M441.54 149.52H444.14M441.54 151.22H444.14M445.71 149.88V151.58M444.41 149.88H447.01M444.41 151.58H447.01M448.59 149.67V151.38M447.29 149.67H449.89M447.29 151.38H449.89M451.46 149.71V151.43M450.16 149.71H452.76M450.16 151.43H452.76M454.33 149.75V151.48M453.03 149.75H455.63M453.03 151.48H455.63M457.2 149.86V151.59M455.9 149.86H458.5M455.9 151.59H458.5M460.08 149.33V151.08M458.78 149.33H461.38M458.78 151.08H461.38M462.95 149.26V151.01M461.65 149.26H464.25M461.65 151.01H464.25M465.82 149.22V150.98M464.52 149.22H467.12M464.52 150.98H467.12M468.7 149.68V151.44M467.4 149.68H470M467.4 151.44H470M471.57 149.58V151.35M470.27 149.58H472.87M470.27 151.35H472.87M474.44 149.31V151.09M473.14 149.31H475.74M473.14 151.09H475.74M477.32 149.06V150.86M476.02 149.06H478.62M476.02 150.86H478.62M480.19 149.28V151.08M478.89 149.28H481.49M478.89 151.08H481.49M483.06 149.15V150.96M481.76 149.15H484.36M481.76 150.96H484.36M485.93 149.13V150.95M484.63 149.13H487.23M484.63 150.95H487.23M488.81 149.32V151.15M487.51 149.32H490.11M487.51 151.15H490.11M491.68 149.12V150.95M490.38 149.12H492.98M490.38 150.95H492.98" stroke="#7C8FD0" stroke-width="0.65" fill="none"/>
<polyline points="322.17,149.55 325.05,149.61 327.92,149.96 330.79,149.88 333.67,149.86 336.54,150.17 339.41,150.14 342.28,150.41 345.16,150.57 348.03,150.53 350.9,150.24 353.78,150.48 356.65,150.33 359.52,150.66 362.4,150.82 365.27,150.59 368.14,150.62 371.01,151.14 373.89,150.82 376.76,151.19 379.63,151.2 382.51,150.76 385.38,151.24 388.25,151.13 391.12,150.7 394,151.02 396.87,151.2 399.74,151.16 402.62,151.11 405.49,150.8 408.36,151.15 411.24,150.67 414.11,150.95 416.98,150.6 419.86,150.61 422.73,150.94 425.6,150.95 428.47,150.8 431.35,151 434.22,150.66 437.09,150.98 439.97,150.96 442.84,150.37 445.71,150.73 448.59,150.52 451.46,150.57 454.33,150.62 457.2,150.73 460.08,150.2 462.95,150.14 465.82,150.1 468.7,150.56 471.57,150.47 474.44,150.2 477.32,149.96 480.19,150.18 483.06,150.06 485.93,150.04 488.81,150.24 491.68,150.04" fill="none" stroke="#3450B0" stroke-width="0.8"/>
<circle cx="322.17" cy="149.55" r="1.3" fill="#3450B0"/>
<circle cx="325.05" cy="149.61" r="1.3" fill="#3450B0"/>
<circle cx="327.92" cy="149.96" r="1.3" fill="#3450B0"/>
<circle cx="330.79" cy="149.88" r="1.3" fill="#3450B0"/>
<circle cx="333.67" cy="149.86" r="1.3" fill="#3450B0"/>
<circle cx="336.54" cy="150.17" r="1.3" fill="#3450B0"/>
<circle cx="339.41" cy="150.14" r="1.3" fill="#3450B0"/>
<circle cx="342.28" cy="150.41" r="1.3" fill="#3450B0"/>
<circle cx="345.16" cy="150.57" r="1.3" fill="#3450B0"/>
<circle cx="348.03" cy="150.53" r="1.3" fill="#3450B0"/>
<circle cx="350.9" cy="150.24" r="1.3" fill="#3450B0"/>
<circle cx="353.78" cy="150.48" r="1.3" fill="#3450B0"/>
<circle cx="356.65" cy="150.33" r="1.3" fill="#3450B0"/>
<circle cx="359.52" cy="150.66" r="1.3" fill="#3450B0"/>
<circle cx="362.4" cy="150.82" r="1.3" fill="#3450B0"/>
<circle cx="365.27" cy="150.59" r="1.3" fill="#3450B0"/>
<circle cx="368.14" cy="150.62" r="1.3" fill="#3450B0"/>
<circle cx="371.01" cy="151.14" r="1.3" fill="#3450B0"/>
<circle cx="373.89" cy="150.82" r="1.3" fill="#3450B0"/>
<circle cx="376.76" cy="151.19" r="1.3" fill="#3450B0"/>
<circle cx="379.63" cy="151.2" r="1.3" fill="#3450B0"/>
<circle cx="382.51" cy="150.76" r="1.3" fill="#3450B0"/>
<circle cx="385.38" cy="151.24" r="1.3" fill="#3450B0"/>
<circle cx="388.25" cy="151.13" r="1.3" fill="#3450B0"/>
<circle cx="391.12" cy="150.7" r="1.3" fill="#3450B0"/>
<circle cx="394" cy="151.02" r="1.3" fill="#3450B0"/>
<circle cx="396.87" cy="151.2" r="1.3" fill="#3450B0"/>
<circle cx="399.74" cy="151.16" r="1.3" fill="#3450B0"/>
<circle cx="402.62" cy="151.11" r="1.3" fill="#3450B0"/>
<circle cx="405.49" cy="150.8" r="1.3" fill="#3450B0"/>
<circle cx="408.36" cy="151.15" r="1.3" fill="#3450B0"/>
<circle cx="411.24" cy="150.67" r="1.3" fill="#3450B0"/>
<circle cx="414.11" cy="150.95" r="1.3" fill="#3450B0"/>
<circle cx="416.98" cy="150.6" r="1.3" fill="#3450B0"/>
<circle cx="419.86" cy="150.61" r="1.3" fill="#3450B0"/>
<circle cx="422.73" cy="150.94" r="1.3" fill="#3450B0"/>
<circle cx="425.6" cy="150.95" r="1.3" fill="#3450B0"/>
<circle cx="428.47" cy="150.8" r="1.3" fill="#3450B0"/>
<circle cx="431.35" cy="151" r="1.3" fill="#3450B0"/>
<circle cx="434.22" cy="150.66" r="1.3" fill="#3450B0"/>
<circle cx="437.09" cy="150.98" r="1.3" fill="#3450B0"/>
<circle cx="439.97" cy="150.96" r="1.3" fill="#3450B0"/>
<circle cx="442.84" cy="150.37" r="1.3" fill="#3450B0"/>
<circle cx="445.71" cy="150.73" r="1.3" fill="#3450B0"/>
<circle cx="448.59" cy="150.52" r="1.3" fill="#3450B0"/>
<circle cx="451.46" cy="150.57" r="1.3" fill="#3450B0"/>
<circle cx="454.33" cy="150.62" r="1.3" fill="#3450B0"/>
<circle cx="457.2" cy="150.73" r="1.3" fill="#3450B0"/>
<circle cx="460.08" cy="150.2" r="1.3" fill="#3450B0"/>
<circle cx="462.95" cy="150.14" r="1.3" fill="#3450B0"/>
<circle cx="465.82" cy="150.1" r="1.3" fill="#3450B0"/>
<circle cx="468.7" cy="150.56" r="1.3" fill="#3450B0"/>
<circle cx="471.57" cy="150.47" r="1.3" fill="#3450B0"/>
<circle cx="474.44" cy="150.2" r="1.3" fill="#3450B0"/>
<circle cx="477.32" cy="149.96" r="1.3" fill="#3450B0"/>
<circle cx="480.19" cy="150.18" r="1.3" fill="#3450B0"/>
<circle cx="483.06" cy="150.06" r="1.3" fill="#3450B0"/>
<circle cx="485.93" cy="150.04" r="1.3" fill="#3450B0"/>
<circle cx="488.81" cy="150.24" r="1.3" fill="#3450B0"/>
<circle cx="491.68" cy="150.04" r="1.3" fill="#3450B0"/>
<line x1="319.3" y1="40.85" x2="319.3" y2="156.5" stroke="#333" stroke-width="1.25"/>
<line x1="318.7" y1="155.9" x2="492.28" y2="155.9" stroke="#333" stroke-width="1.25"/>
<line x1="314.7" y1="155.9" x2="319.3" y2="155.9" stroke="#333" stroke-width="1.2"/>
<text transform="translate(313.1 159.15) scale(0.8 1)" x="0" y="0" font-size="9.2" font-weight="bold" text-anchor="end" stroke="#000" stroke-width="0.3">0</text>
<line x1="314.7" y1="133.01" x2="319.3" y2="133.01" stroke="#333" stroke-width="1.2"/>
<text transform="translate(313.1 136.26) scale(0.8 1)" x="0" y="0" font-size="9.2" font-weight="bold" text-anchor="end" textLength="11.25" lengthAdjust="spacing" stroke="#000" stroke-width="0.3">20</text>
<line x1="314.7" y1="110.12" x2="319.3" y2="110.12" stroke="#333" stroke-width="1.2"/>
<text transform="translate(313.1 113.37) scale(0.8 1)" x="0" y="0" font-size="9.2" font-weight="bold" text-anchor="end" textLength="11.25" lengthAdjust="spacing" stroke="#000" stroke-width="0.3">40</text>
<line x1="314.7" y1="87.23" x2="319.3" y2="87.23" stroke="#333" stroke-width="1.2"/>
<text transform="translate(313.1 90.48) scale(0.8 1)" x="0" y="0" font-size="9.2" font-weight="bold" text-anchor="end" textLength="11.25" lengthAdjust="spacing" stroke="#000" stroke-width="0.3">60</text>
<line x1="314.7" y1="64.34" x2="319.3" y2="64.34" stroke="#333" stroke-width="1.2"/>
<text transform="translate(313.1 67.59) scale(0.8 1)" x="0" y="0" font-size="9.2" font-weight="bold" text-anchor="end" textLength="11.25" lengthAdjust="spacing" stroke="#000" stroke-width="0.3">80</text>
<line x1="314.7" y1="41.45" x2="319.3" y2="41.45" stroke="#333" stroke-width="1.2"/>
<text transform="translate(313.1 44.7) scale(0.8 1)" x="0" y="0" font-size="9.2" font-weight="bold" text-anchor="end" textLength="16.5" lengthAdjust="spacing" stroke="#000" stroke-width="0.3">100</text>
<line x1="319.3" y1="155.9" x2="319.3" y2="160.9" stroke="#333" stroke-width="1.2"/>
<text transform="translate(319.5 170.2) scale(0.8 1)" x="0" y="0" font-size="9" font-weight="bold" text-anchor="middle" stroke="#000" stroke-width="0.3">0</text>
<line x1="348.03" y1="155.9" x2="348.03" y2="160.9" stroke="#333" stroke-width="1.2"/>
<text transform="translate(348.23 170.2) scale(0.8 1)" x="0" y="0" font-size="9" font-weight="bold" text-anchor="middle" textLength="10.75" lengthAdjust="spacing" stroke="#000" stroke-width="0.3">10</text>
<line x1="376.76" y1="155.9" x2="376.76" y2="160.9" stroke="#333" stroke-width="1.2"/>
<text transform="translate(376.96 170.2) scale(0.8 1)" x="0" y="0" font-size="9" font-weight="bold" text-anchor="middle" textLength="10.75" lengthAdjust="spacing" stroke="#000" stroke-width="0.3">20</text>
<line x1="405.49" y1="155.9" x2="405.49" y2="160.9" stroke="#333" stroke-width="1.2"/>
<text transform="translate(405.69 170.2) scale(0.8 1)" x="0" y="0" font-size="9" font-weight="bold" text-anchor="middle" textLength="10.75" lengthAdjust="spacing" stroke="#000" stroke-width="0.3">30</text>
<line x1="434.22" y1="155.9" x2="434.22" y2="160.9" stroke="#333" stroke-width="1.2"/>
<text transform="translate(434.42 170.2) scale(0.8 1)" x="0" y="0" font-size="9" font-weight="bold" text-anchor="middle" textLength="10.75" lengthAdjust="spacing" stroke="#000" stroke-width="0.3">40</text>
<line x1="462.95" y1="155.9" x2="462.95" y2="160.9" stroke="#333" stroke-width="1.2"/>
<text transform="translate(463.15 170.2) scale(0.8 1)" x="0" y="0" font-size="9" font-weight="bold" text-anchor="middle" textLength="10.75" lengthAdjust="spacing" stroke="#000" stroke-width="0.3">50</text>
<line x1="491.68" y1="155.9" x2="491.68" y2="160.9" stroke="#333" stroke-width="1.2"/>
<text transform="translate(491.88 170.2) scale(0.8 1)" x="0" y="0" font-size="9" font-weight="bold" text-anchor="middle" textLength="10.75" lengthAdjust="spacing" stroke="#000" stroke-width="0.3">60</text>
<text transform="translate(405.89 184.9) scale(0.75 1)" x="0" y="0" font-size="10.8" font-weight="bold" text-anchor="middle" textLength="99.87" lengthAdjust="spacing" stroke="#000" stroke-width="0.3">Treatment (hour)</text>
<text transform="translate(391.4 26.3) scale(0.7 1)" x="0" y="0" font-size="12.3" font-weight="bold" textLength="38.57" lengthAdjust="spacing" stroke="#000" stroke-width="0.3">NOS1</text>
<text transform="translate(282.2 98.4) rotate(-90) scale(0.84 1)" x="0" y="0" font-size="9.8" font-weight="bold" text-anchor="middle" textLength="140.95" lengthAdjust="spacing" stroke="#000" stroke-width="0.18">% of Caspase3/7 depedent</text>
<text transform="translate(293 98) rotate(-90) scale(0.84 1)" x="0" y="0" font-size="9.8" font-weight="bold" text-anchor="middle" textLength="105.48" lengthAdjust="spacing" stroke="#000" stroke-width="0.18">apoptotic cell death</text>
<polyline points="496.9,69.4 500.4,69.4 500.4,115 496.9,115" fill="none" stroke="#444" stroke-width="1.2"/>
<polyline points="508.4,69.4 511.4,69.4 511.4,152.2 508.4,152.2" fill="none" stroke="#444" stroke-width="1.2"/>
<path d="M508.65 92.8L503.95 92.8M507.48 90.76L505.12 94.84M507.48 94.84L505.12 90.76" stroke="#000" stroke-width="1" fill="none"/>
<path d="M520.25 107.2L515.55 107.2M519.07 105.16L516.73 109.24M519.07 109.24L516.73 105.16" stroke="#000" stroke-width="1" fill="none"/>
<path d="M520.25 116.2L515.55 116.2M519.07 114.16L516.73 118.24M519.07 118.24L516.73 114.16" stroke="#000" stroke-width="1" fill="none"/>
<line x1="526.8" y1="76.5" x2="538.9" y2="76.5" stroke="#7C8FD0" stroke-width="0.8"/>
<circle cx="532.85" cy="76.5" r="1.6" fill="#3450B0"/>
<text transform="translate(546.3 80) scale(0.78 1)" x="0" y="0" font-size="10.4" fill="#3a3a3a" stroke="#3a3a3a" stroke-width="0.12" letter-spacing="1">NCT-Inactive</text>
<line x1="526.8" y1="92" x2="538.9" y2="92" stroke="#F08A84" stroke-width="0.8"/>
<circle cx="532.85" cy="92" r="1.6" fill="#E83228"/>
<text transform="translate(546.3 95.5) scale(0.78 1)" x="0" y="0" font-size="10.4" fill="#3a3a3a" stroke="#3a3a3a" stroke-width="0.12" letter-spacing="1">NCT-503</text>
<line x1="526.8" y1="107.6" x2="538.9" y2="107.6" stroke="#7FB487" stroke-width="0.8"/>
<circle cx="532.85" cy="107.6" r="1.6" fill="#2E7A36"/>
<text transform="translate(546.3 111.1) scale(0.78 1)" x="0" y="0" font-size="10.4" fill="#3a3a3a" stroke="#3a3a3a" stroke-width="0.12" letter-spacing="1">Perhexiline</text>
<line x1="526.8" y1="123.1" x2="538.9" y2="123.1" stroke="#A67ED2" stroke-width="0.8"/>
<circle cx="532.85" cy="123.1" r="1.6" fill="#7432A8"/>
<text transform="translate(546.3 126.6) scale(0.78 1)" x="0" y="0" font-size="10.4" fill="#3a3a3a" stroke="#3a3a3a" stroke-width="0.12" letter-spacing="1">NCT-503 + Perhexiline</text>
<line x1="526.8" y1="138.6" x2="538.9" y2="138.6" stroke="#DA9A6E" stroke-width="0.8"/>
<circle cx="532.85" cy="138.6" r="1.6" fill="#C2622C"/>
<text transform="translate(546.3 142.1) scale(0.78 1)" x="0" y="0" font-size="10.4" fill="#3a3a3a" stroke="#3a3a3a" stroke-width="0.12" letter-spacing="1">NCT-503 + Perhexiline + Z-VAD</text>
<path d="M333.56 327.13V328.8M332.26 327.13H334.87M332.26 328.8H334.87M336.44 327.18V328.91M335.14 327.18H337.74M335.14 328.91H337.74M339.31 327.2V329M338.01 327.2H340.61M338.01 329H340.61M342.18 327.39V329.27M340.88 327.39H343.48M340.88 329.27H343.48M345.06 327.2V329.15M343.76 327.2H346.36M343.76 329.15H346.36M347.93 327.19V329.21M346.63 327.19H349.23M346.63 329.21H349.23M350.8 327.19V329.28M349.5 327.19H352.1M349.5 329.28H352.1M353.68 327.34V329.51M352.38 327.34H354.98M352.38 329.51H354.98M356.55 327.03V329.27M355.25 327.03H357.85M355.25 329.27H357.85M359.42 326.83V329.14M358.12 326.83H360.72M358.12 329.14H360.72M362.3 326.28V328.67M361 326.28H363.6M361 328.67H363.6M365.17 325.65V328.1M363.87 325.65H366.47M363.87 328.1H366.47M368.04 325.06V327.59M366.74 325.06H369.34M366.74 327.59H369.34M370.91 324.69V327.29M369.61 324.69H372.21M369.61 327.29H372.21M373.79 324.14V326.81M372.49 324.14H375.09M372.49 326.81H375.09M376.66 323.47V326.22M375.36 323.47H377.96M375.36 326.22H377.96M379.53 322.61V325.56M378.23 322.61H380.83M378.23 325.56H380.83M382.41 321.47V324.61M381.11 321.47H383.71M381.11 324.61H383.71M385.28 320.09V323.43M383.98 320.09H386.58M383.98 323.43H386.58M388.15 319.06V322.6M386.85 319.06H389.45M386.85 322.6H389.45M391.02 317.95V321.69M389.72 317.95H392.32M389.72 321.69H392.32M393.9 316.6V320.54M392.6 316.6H395.2M392.6 320.54H395.2M396.77 315.75V319.89M395.47 315.75H398.07M395.47 319.89H398.07M399.64 314.68V319.01M398.34 314.68H400.94M398.34 319.01H400.94M402.52 313.8V318.34M401.22 313.8H403.82M401.22 318.34H403.82M405.39 312.87V317.6M404.09 312.87H406.69M404.09 317.6H406.69M408.26 311.77V316.7M406.96 311.77H409.56M406.96 316.7H409.56M411.14 311.09V316.22M409.84 311.09H412.44M409.84 316.22H412.44M414.01 310.23V315.55M412.71 310.23H415.31M412.71 315.55H415.31M416.88 309.23V314.75M415.58 309.23H418.18M415.58 314.75H418.18M419.75 308.6V314.32M418.45 308.6H421.06M418.45 314.32H421.06M422.63 307.9V313.97M421.33 307.9H423.93M421.33 313.97H423.93M425.5 306.49V312.9M424.2 306.49H426.8M424.2 312.9H426.8M428.37 305.7V312.45M427.07 305.7H429.67M427.07 312.45H429.67M431.25 305.06V312.15M429.95 305.06H432.55M429.95 312.15H432.55M434.12 304.45V311.88M432.82 304.45H435.42M432.82 311.88H435.42M436.99 304.01V311.79M435.69 304.01H438.29M435.69 311.79H438.29M439.87 303.29V311.41M438.57 303.29H441.17M438.57 311.41H441.17M442.74 302.65V311.11M441.44 302.65H444.04M441.44 311.11H444.04M445.61 301.2V310.01M444.31 301.2H446.91M444.31 310.01H446.91M448.49 300.14V309.29M447.19 300.14H449.79M447.19 309.29H449.79M451.36 299.36V309.2M450.06 299.36H452.66M450.06 309.2H452.66M454.23 297.8V308.33M452.93 297.8H455.53M452.93 308.33H455.53M457.1 296.13V307.35M455.8 296.13H458.4M455.8 307.35H458.4M459.98 294.12V306.02M458.68 294.12H461.28M458.68 306.02H461.28M462.85 291.71V304.3M461.55 291.71H464.15M461.55 304.3H464.15M465.72 289.58V302.97M464.42 289.58H467.02M464.42 302.97H467.02M468.6 287.45V301.63M467.3 287.45H469.9M467.3 301.63H469.9M471.47 285.75V300.74M470.17 285.75H472.77M470.17 300.74H472.77M474.34 283.58V299.37M473.04 283.58H475.64M473.04 299.37H475.64M477.22 281.83V298.41M475.92 281.83H478.52M475.92 298.41H478.52M480.09 279.42V296.81M478.79 279.42H481.39M478.79 296.81H481.39M482.96 277.2V295.39M481.66 277.2H484.26M481.66 295.39H484.26M485.83 275.13V294.12M484.53 275.13H487.13M484.53 294.12H487.13M488.71 272.73V292.52M487.41 272.73H490.01M487.41 292.52H490.01M491.58 270.18V290.77M490.28 270.18H492.88M490.28 290.77H492.88" stroke="#DA9A6E" stroke-width="0.65" fill="none"/>
<polyline points="322.07,327.81 324.95,327.84 327.82,328.37 330.69,328.37 333.56,327.96 336.44,328.04 339.31,328.1 342.18,328.33 345.06,328.18 347.93,328.2 350.8,328.23 353.68,328.43 356.55,328.15 359.42,327.98 362.3,327.48 365.17,326.87 368.04,326.33 370.91,325.99 373.79,325.47 376.66,324.84 379.53,324.09 382.41,323.04 385.28,321.76 388.15,320.83 391.02,319.82 393.9,318.57 396.77,317.82 399.64,316.84 402.52,316.07 405.39,315.23 408.26,314.24 411.14,313.66 414.01,312.89 416.88,311.99 419.75,311.46 422.63,310.93 425.5,309.69 428.37,309.08 431.25,308.61 434.12,308.16 436.99,307.9 439.87,307.35 442.74,306.88 445.61,305.6 448.49,304.71 451.36,304.28 454.23,303.06 457.1,301.74 459.98,300.07 462.85,298.01 465.72,296.28 468.6,294.54 471.47,293.25 474.34,291.48 477.22,290.12 480.09,288.11 482.96,286.29 485.83,284.63 488.71,282.62 491.58,280.47" fill="none" stroke="#C2622C" stroke-width="0.8"/>
<circle cx="322.07" cy="327.81" r="1.3" fill="#C2622C"/>
<circle cx="324.95" cy="327.84" r="1.3" fill="#C2622C"/>
<circle cx="327.82" cy="328.37" r="1.3" fill="#C2622C"/>
<circle cx="330.69" cy="328.37" r="1.3" fill="#C2622C"/>
<circle cx="333.56" cy="327.96" r="1.3" fill="#C2622C"/>
<circle cx="336.44" cy="328.04" r="1.3" fill="#C2622C"/>
<circle cx="339.31" cy="328.1" r="1.3" fill="#C2622C"/>
<circle cx="342.18" cy="328.33" r="1.3" fill="#C2622C"/>
<circle cx="345.06" cy="328.18" r="1.3" fill="#C2622C"/>
<circle cx="347.93" cy="328.2" r="1.3" fill="#C2622C"/>
<circle cx="350.8" cy="328.23" r="1.3" fill="#C2622C"/>
<circle cx="353.68" cy="328.43" r="1.3" fill="#C2622C"/>
<circle cx="356.55" cy="328.15" r="1.3" fill="#C2622C"/>
<circle cx="359.42" cy="327.98" r="1.3" fill="#C2622C"/>
<circle cx="362.3" cy="327.48" r="1.3" fill="#C2622C"/>
<circle cx="365.17" cy="326.87" r="1.3" fill="#C2622C"/>
<circle cx="368.04" cy="326.33" r="1.3" fill="#C2622C"/>
<circle cx="370.91" cy="325.99" r="1.3" fill="#C2622C"/>
<circle cx="373.79" cy="325.47" r="1.3" fill="#C2622C"/>
<circle cx="376.66" cy="324.84" r="1.3" fill="#C2622C"/>
<circle cx="379.53" cy="324.09" r="1.3" fill="#C2622C"/>
<circle cx="382.41" cy="323.04" r="1.3" fill="#C2622C"/>
<circle cx="385.28" cy="321.76" r="1.3" fill="#C2622C"/>
<circle cx="388.15" cy="320.83" r="1.3" fill="#C2622C"/>
<circle cx="391.02" cy="319.82" r="1.3" fill="#C2622C"/>
<circle cx="393.9" cy="318.57" r="1.3" fill="#C2622C"/>
<circle cx="396.77" cy="317.82" r="1.3" fill="#C2622C"/>
<circle cx="399.64" cy="316.84" r="1.3" fill="#C2622C"/>
<circle cx="402.52" cy="316.07" r="1.3" fill="#C2622C"/>
<circle cx="405.39" cy="315.23" r="1.3" fill="#C2622C"/>
<circle cx="408.26" cy="314.24" r="1.3" fill="#C2622C"/>
<circle cx="411.14" cy="313.66" r="1.3" fill="#C2622C"/>
<circle cx="414.01" cy="312.89" r="1.3" fill="#C2622C"/>
<circle cx="416.88" cy="311.99" r="1.3" fill="#C2622C"/>
<circle cx="419.75" cy="311.46" r="1.3" fill="#C2622C"/>
<circle cx="422.63" cy="310.93" r="1.3" fill="#C2622C"/>
<circle cx="425.5" cy="309.69" r="1.3" fill="#C2622C"/>
<circle cx="428.37" cy="309.08" r="1.3" fill="#C2622C"/>
<circle cx="431.25" cy="308.61" r="1.3" fill="#C2622C"/>
<circle cx="434.12" cy="308.16" r="1.3" fill="#C2622C"/>
<circle cx="436.99" cy="307.9" r="1.3" fill="#C2622C"/>
<circle cx="439.87" cy="307.35" r="1.3" fill="#C2622C"/>
<circle cx="442.74" cy="306.88" r="1.3" fill="#C2622C"/>
<circle cx="445.61" cy="305.6" r="1.3" fill="#C2622C"/>
<circle cx="448.49" cy="304.71" r="1.3" fill="#C2622C"/>
<circle cx="451.36" cy="304.28" r="1.3" fill="#C2622C"/>
<circle cx="454.23" cy="303.06" r="1.3" fill="#C2622C"/>
<circle cx="457.1" cy="301.74" r="1.3" fill="#C2622C"/>
<circle cx="459.98" cy="300.07" r="1.3" fill="#C2622C"/>
<circle cx="462.85" cy="298.01" r="1.3" fill="#C2622C"/>
<circle cx="465.72" cy="296.28" r="1.3" fill="#C2622C"/>
<circle cx="468.6" cy="294.54" r="1.3" fill="#C2622C"/>
<circle cx="471.47" cy="293.25" r="1.3" fill="#C2622C"/>
<circle cx="474.34" cy="291.48" r="1.3" fill="#C2622C"/>
<circle cx="477.22" cy="290.12" r="1.3" fill="#C2622C"/>
<circle cx="480.09" cy="288.11" r="1.3" fill="#C2622C"/>
<circle cx="482.96" cy="286.29" r="1.3" fill="#C2622C"/>
<circle cx="485.83" cy="284.63" r="1.3" fill="#C2622C"/>
<circle cx="488.71" cy="282.62" r="1.3" fill="#C2622C"/>
<circle cx="491.58" cy="280.47" r="1.3" fill="#C2622C"/>
<path d="M336.44 327.7V329.32M335.14 327.7H337.74M335.14 329.32H337.74M339.31 327.3V328.96M338.01 327.3H340.61M338.01 328.96H340.61M342.18 327.18V328.89M340.88 327.18H343.48M340.88 328.89H343.48M345.06 325.81V327.57M343.76 325.81H346.36M343.76 327.57H346.36M347.93 324.57V326.38M346.63 324.57H349.23M346.63 326.38H349.23M350.8 322.54V324.39M349.5 322.54H352.1M349.5 324.39H352.1M353.68 321V322.9M352.38 321H354.98M352.38 322.9H354.98M356.55 319.48V321.43M355.25 319.48H357.85M355.25 321.43H357.85M359.42 317.89V319.89M358.12 317.89H360.72M358.12 319.89H360.72M362.3 316.24V318.29M361 316.24H363.6M361 318.29H363.6M365.17 314.7V316.79M363.87 314.7H366.47M363.87 316.79H366.47M368.04 313.16V315.31M366.74 313.16H369.34M366.74 315.31H369.34M370.91 311.37V313.56M369.61 311.37H372.21M369.61 313.56H372.21M373.79 309.19V311.43M372.49 309.19H375.09M372.49 311.43H375.09M376.66 306.9V309.19M375.36 306.9H377.96M375.36 309.19H377.96M379.53 304.99V307.43M378.23 304.99H380.83M378.23 307.43H380.83M382.41 303.22V305.82M381.11 303.22H383.71M381.11 305.82H383.71M385.28 300.69V303.43M383.98 300.69H386.58M383.98 303.43H386.58M388.15 298.55V301.45M386.85 298.55H389.45M386.85 301.45H389.45M391.02 296.18V299.23M389.72 296.18H392.32M389.72 299.23H392.32M393.9 294.38V297.59M392.6 294.38H395.2M392.6 297.59H395.2M396.77 291.97V295.33M395.47 291.97H398.07M395.47 295.33H398.07M399.64 290.38V293.89M398.34 290.38H400.94M398.34 293.89H400.94M402.52 288.58V292.24M401.22 288.58H403.82M401.22 292.24H403.82M405.39 287.41V291.23M404.09 287.41H406.69M404.09 291.23H406.69M408.26 286.13V290.1M406.96 286.13H409.56M406.96 290.1H409.56M411.14 284.01V288.13M409.84 284.01H412.44M409.84 288.13H412.44M414.01 282.7V286.97M412.71 282.7H415.31M412.71 286.97H415.31M416.88 280.66V285.08M415.58 280.66H418.18M415.58 285.08H418.18M419.75 278.61V283.19M418.45 278.61H421.06M418.45 283.19H421.06M422.63 277.19V282.11M421.33 277.19H423.93M421.33 282.11H423.93M425.5 275.73V280.99M424.2 275.73H426.8M424.2 280.99H426.8M428.37 274.17V279.77M427.07 274.17H429.67M427.07 279.77H429.67M431.25 272.72V278.67M429.95 272.72H432.55M429.95 278.67H432.55M434.12 270.54V276.83M432.82 270.54H435.42M432.82 276.83H435.42M436.99 268.62V275.26M435.69 268.62H438.29M435.69 275.26H438.29M439.87 266.5V273.48M438.57 266.5H441.17M438.57 273.48H441.17M442.74 264.81V272.14M441.44 264.81H444.04M441.44 272.14H444.04M445.61 262.87V270.53M444.31 262.87H446.91M444.31 270.53H446.91M448.49 261.63V269.64M447.19 261.63H449.79M447.19 269.64H449.79M451.36 259.77V267.73M450.06 259.77H452.66M450.06 267.73H452.66M454.23 259.24V267.15M452.93 259.24H455.53M452.93 267.15H455.53M457.1 257.85V265.72M455.8 257.85H458.4M455.8 265.72H458.4M459.98 256.48V264.31M458.68 256.48H461.28M458.68 264.31H461.28M462.85 254.34V262.12M461.55 254.34H464.15M461.55 262.12H464.15M465.72 251.99V259.73M464.42 251.99H467.02M464.42 259.73H467.02M468.6 251.17V258.86M467.3 251.17H469.9M467.3 258.86H469.9M471.47 249.79V257.44M470.17 249.79H472.77M470.17 257.44H472.77M474.34 247.98V255.57M473.04 247.98H475.64M473.04 255.57H475.64M477.22 246.57V254.12M475.92 246.57H478.52M475.92 254.12H478.52M480.09 245.45V252.95M478.79 245.45H481.39M478.79 252.95H481.39M482.96 242.49V249.95M481.66 242.49H484.26M481.66 249.95H484.26M485.83 240.92V248.33M484.53 240.92H487.13M484.53 248.33H487.13M488.71 239.14V246.51M487.41 239.14H490.01M487.41 246.51H490.01M491.58 238.7V246.02M490.28 238.7H492.88M490.28 246.02H492.88" stroke="#A67ED2" stroke-width="0.65" fill="none"/>
<polyline points="322.07,327.95 324.95,328.13 327.82,328.33 330.69,328.32 333.56,328.16 336.44,328.51 339.31,328.13 342.18,328.04 345.06,326.69 347.93,325.47 350.8,323.46 353.68,321.95 356.55,320.45 359.42,318.89 362.3,317.26 365.17,315.75 368.04,314.24 370.91,312.47 373.79,310.31 376.66,308.04 379.53,306.21 382.41,304.52 385.28,302.06 388.15,300 391.02,297.71 393.9,295.99 396.77,293.65 399.64,292.14 402.52,290.41 405.39,289.32 408.26,288.12 411.14,286.07 414.01,284.83 416.88,282.87 419.75,280.9 422.63,279.65 425.5,278.36 428.37,276.97 431.25,275.69 434.12,273.69 436.99,271.94 439.87,269.99 442.74,268.48 445.61,266.7 448.49,265.64 451.36,263.75 454.23,263.2 457.1,261.78 459.98,260.4 462.85,258.23 465.72,255.86 468.6,255.02 471.47,253.61 474.34,251.77 477.22,250.34 480.09,249.2 482.96,246.22 485.83,244.63 488.71,242.82 491.58,242.36" fill="none" stroke="#7432A8" stroke-width="0.8"/>
<circle cx="322.07" cy="327.95" r="1.3" fill="#7432A8"/>
<circle cx="324.95" cy="328.13" r="1.3" fill="#7432A8"/>
<circle cx="327.82" cy="328.33" r="1.3" fill="#7432A8"/>
<circle cx="330.69" cy="328.32" r="1.3" fill="#7432A8"/>
<circle cx="333.56" cy="328.16" r="1.3" fill="#7432A8"/>
<circle cx="336.44" cy="328.51" r="1.3" fill="#7432A8"/>
<circle cx="339.31" cy="328.13" r="1.3" fill="#7432A8"/>
<circle cx="342.18" cy="328.04" r="1.3" fill="#7432A8"/>
<circle cx="345.06" cy="326.69" r="1.3" fill="#7432A8"/>
<circle cx="347.93" cy="325.47" r="1.3" fill="#7432A8"/>
<circle cx="350.8" cy="323.46" r="1.3" fill="#7432A8"/>
<circle cx="353.68" cy="321.95" r="1.3" fill="#7432A8"/>
<circle cx="356.55" cy="320.45" r="1.3" fill="#7432A8"/>
<circle cx="359.42" cy="318.89" r="1.3" fill="#7432A8"/>
<circle cx="362.3" cy="317.26" r="1.3" fill="#7432A8"/>
<circle cx="365.17" cy="315.75" r="1.3" fill="#7432A8"/>
<circle cx="368.04" cy="314.24" r="1.3" fill="#7432A8"/>
<circle cx="370.91" cy="312.47" r="1.3" fill="#7432A8"/>
<circle cx="373.79" cy="310.31" r="1.3" fill="#7432A8"/>
<circle cx="376.66" cy="308.04" r="1.3" fill="#7432A8"/>
<circle cx="379.53" cy="306.21" r="1.3" fill="#7432A8"/>
<circle cx="382.41" cy="304.52" r="1.3" fill="#7432A8"/>
<circle cx="385.28" cy="302.06" r="1.3" fill="#7432A8"/>
<circle cx="388.15" cy="300" r="1.3" fill="#7432A8"/>
<circle cx="391.02" cy="297.71" r="1.3" fill="#7432A8"/>
<circle cx="393.9" cy="295.99" r="1.3" fill="#7432A8"/>
<circle cx="396.77" cy="293.65" r="1.3" fill="#7432A8"/>
<circle cx="399.64" cy="292.14" r="1.3" fill="#7432A8"/>
<circle cx="402.52" cy="290.41" r="1.3" fill="#7432A8"/>
<circle cx="405.39" cy="289.32" r="1.3" fill="#7432A8"/>
<circle cx="408.26" cy="288.12" r="1.3" fill="#7432A8"/>
<circle cx="411.14" cy="286.07" r="1.3" fill="#7432A8"/>
<circle cx="414.01" cy="284.83" r="1.3" fill="#7432A8"/>
<circle cx="416.88" cy="282.87" r="1.3" fill="#7432A8"/>
<circle cx="419.75" cy="280.9" r="1.3" fill="#7432A8"/>
<circle cx="422.63" cy="279.65" r="1.3" fill="#7432A8"/>
<circle cx="425.5" cy="278.36" r="1.3" fill="#7432A8"/>
<circle cx="428.37" cy="276.97" r="1.3" fill="#7432A8"/>
<circle cx="431.25" cy="275.69" r="1.3" fill="#7432A8"/>
<circle cx="434.12" cy="273.69" r="1.3" fill="#7432A8"/>
<circle cx="436.99" cy="271.94" r="1.3" fill="#7432A8"/>
<circle cx="439.87" cy="269.99" r="1.3" fill="#7432A8"/>
<circle cx="442.74" cy="268.48" r="1.3" fill="#7432A8"/>
<circle cx="445.61" cy="266.7" r="1.3" fill="#7432A8"/>
<circle cx="448.49" cy="265.64" r="1.3" fill="#7432A8"/>
<circle cx="451.36" cy="263.75" r="1.3" fill="#7432A8"/>
<circle cx="454.23" cy="263.2" r="1.3" fill="#7432A8"/>
<circle cx="457.1" cy="261.78" r="1.3" fill="#7432A8"/>
<circle cx="459.98" cy="260.4" r="1.3" fill="#7432A8"/>
<circle cx="462.85" cy="258.23" r="1.3" fill="#7432A8"/>
<circle cx="465.72" cy="255.86" r="1.3" fill="#7432A8"/>
<circle cx="468.6" cy="255.02" r="1.3" fill="#7432A8"/>
<circle cx="471.47" cy="253.61" r="1.3" fill="#7432A8"/>
<circle cx="474.34" cy="251.77" r="1.3" fill="#7432A8"/>
<circle cx="477.22" cy="250.34" r="1.3" fill="#7432A8"/>
<circle cx="480.09" cy="249.2" r="1.3" fill="#7432A8"/>
<circle cx="482.96" cy="246.22" r="1.3" fill="#7432A8"/>
<circle cx="485.83" cy="244.63" r="1.3" fill="#7432A8"/>
<circle cx="488.71" cy="242.82" r="1.3" fill="#7432A8"/>
<circle cx="491.58" cy="242.36" r="1.3" fill="#7432A8"/>
<path d="M396.77 323.11V324.71M395.47 323.11H398.07M395.47 324.71H398.07M399.64 322.87V324.49M398.34 322.87H400.94M398.34 324.49H400.94M402.52 322.76V324.4M401.22 322.76H403.82M401.22 324.4H403.82M405.39 322.12V323.78M404.09 322.12H406.69M404.09 323.78H406.69M408.26 322.03V323.7M406.96 322.03H409.56M406.96 323.7H409.56M411.14 321.74V323.43M409.84 321.74H412.44M409.84 323.43H412.44M414.01 321.09V322.8M412.71 321.09H415.31M412.71 322.8H415.31M416.88 320.18V321.91M415.58 320.18H418.18M415.58 321.91H418.18M419.75 319.29V321.03M418.45 319.29H421.06M418.45 321.03H421.06M422.63 318.28V320.04M421.33 318.28H423.93M421.33 320.04H423.93M425.5 317.72V319.5M424.2 317.72H426.8M424.2 319.5H426.8M428.37 316.82V318.61M427.07 316.82H429.67M427.07 318.61H429.67M431.25 316.22V318.03M429.95 316.22H432.55M429.95 318.03H432.55M434.12 315.58V317.41M432.82 315.58H435.42M432.82 317.41H435.42M436.99 315.42V317.33M435.69 315.42H438.29M435.69 317.33H438.29M439.87 314.74V316.73M438.57 314.74H441.17M438.57 316.73H441.17M442.74 314.29V316.36M441.44 314.29H444.04M441.44 316.36H444.04M445.61 313.53V315.68M444.31 313.53H446.91M444.31 315.68H446.91M448.49 312.95V315.18M447.19 312.95H449.79M447.19 315.18H449.79M451.36 312.28V314.59M450.06 312.28H452.66M450.06 314.59H452.66M454.23 311.5V313.89M452.93 311.5H455.53M452.93 313.89H455.53M457.1 310.66V313.13M455.8 310.66H458.4M455.8 313.13H458.4M459.98 309.19V311.74M458.68 309.19H461.28M458.68 311.74H461.28M462.85 308.02V310.65M461.55 308.02H464.15M461.55 310.65H464.15M465.72 307.48V310.19M464.42 307.48H467.02M464.42 310.19H467.02M468.6 306.89V309.68M467.3 306.89H469.9M467.3 309.68H469.9M471.47 306.1V308.97M470.17 306.1H472.77M470.17 308.97H472.77M474.34 305.69V308.65M473.04 305.69H475.64M473.04 308.65H475.64M477.22 304.77V307.8M475.92 304.77H478.52M475.92 307.8H478.52M480.09 304.47V307.58M478.79 304.47H481.39M478.79 307.58H481.39M482.96 303.97V307.16M481.66 303.97H484.26M481.66 307.16H484.26M485.83 303.34V306.61M484.53 303.34H487.13M484.53 306.61H487.13M488.71 302.73V306.08M487.41 302.73H490.01M487.41 306.08H490.01M491.58 302.15V305.58M490.28 302.15H492.88M490.28 305.58H492.88" stroke="#7FB487" stroke-width="0.65" fill="none"/>
<polyline points="322.07,328.58 324.95,328.53 327.82,328.92 330.69,328.81 333.56,329.02 336.44,328.8 339.31,328.65 342.18,328.69 345.06,328.62 347.93,328.64 350.8,328.44 353.68,328.3 356.55,328.2 359.42,328.12 362.3,327.64 365.17,327.61 368.04,327.5 370.91,327.07 373.79,326.6 376.66,326.75 379.53,326.16 382.41,325.9 385.28,325.45 388.15,325.29 391.02,324.44 393.9,324.47 396.77,323.91 399.64,323.68 402.52,323.58 405.39,322.95 408.26,322.86 411.14,322.59 414.01,321.94 416.88,321.05 419.75,320.16 422.63,319.16 425.5,318.61 428.37,317.72 431.25,317.12 434.12,316.5 436.99,316.38 439.87,315.73 442.74,315.32 445.61,314.6 448.49,314.06 451.36,313.44 454.23,312.7 457.1,311.89 459.98,310.46 462.85,309.33 465.72,308.83 468.6,308.28 471.47,307.53 474.34,307.17 477.22,306.29 480.09,306.02 482.96,305.57 485.83,304.97 488.71,304.4 491.58,303.87" fill="none" stroke="#2E7A36" stroke-width="0.8"/>
<circle cx="322.07" cy="328.58" r="1.3" fill="#2E7A36"/>
<circle cx="324.95" cy="328.53" r="1.3" fill="#2E7A36"/>
<circle cx="327.82" cy="328.92" r="1.3" fill="#2E7A36"/>
<circle cx="330.69" cy="328.81" r="1.3" fill="#2E7A36"/>
<circle cx="333.56" cy="329.02" r="1.3" fill="#2E7A36"/>
<circle cx="336.44" cy="328.8" r="1.3" fill="#2E7A36"/>
<circle cx="339.31" cy="328.65" r="1.3" fill="#2E7A36"/>
<circle cx="342.18" cy="328.69" r="1.3" fill="#2E7A36"/>
<circle cx="345.06" cy="328.62" r="1.3" fill="#2E7A36"/>
<circle cx="347.93" cy="328.64" r="1.3" fill="#2E7A36"/>
<circle cx="350.8" cy="328.44" r="1.3" fill="#2E7A36"/>
<circle cx="353.68" cy="328.3" r="1.3" fill="#2E7A36"/>
<circle cx="356.55" cy="328.2" r="1.3" fill="#2E7A36"/>
<circle cx="359.42" cy="328.12" r="1.3" fill="#2E7A36"/>
<circle cx="362.3" cy="327.64" r="1.3" fill="#2E7A36"/>
<circle cx="365.17" cy="327.61" r="1.3" fill="#2E7A36"/>
<circle cx="368.04" cy="327.5" r="1.3" fill="#2E7A36"/>
<circle cx="370.91" cy="327.07" r="1.3" fill="#2E7A36"/>
<circle cx="373.79" cy="326.6" r="1.3" fill="#2E7A36"/>
<circle cx="376.66" cy="326.75" r="1.3" fill="#2E7A36"/>
<circle cx="379.53" cy="326.16" r="1.3" fill="#2E7A36"/>
<circle cx="382.41" cy="325.9" r="1.3" fill="#2E7A36"/>
<circle cx="385.28" cy="325.45" r="1.3" fill="#2E7A36"/>
<circle cx="388.15" cy="325.29" r="1.3" fill="#2E7A36"/>
<circle cx="391.02" cy="324.44" r="1.3" fill="#2E7A36"/>
<circle cx="393.9" cy="324.47" r="1.3" fill="#2E7A36"/>
<circle cx="396.77" cy="323.91" r="1.3" fill="#2E7A36"/>
<circle cx="399.64" cy="323.68" r="1.3" fill="#2E7A36"/>
<circle cx="402.52" cy="323.58" r="1.3" fill="#2E7A36"/>
<circle cx="405.39" cy="322.95" r="1.3" fill="#2E7A36"/>
<circle cx="408.26" cy="322.86" r="1.3" fill="#2E7A36"/>
<circle cx="411.14" cy="322.59" r="1.3" fill="#2E7A36"/>
<circle cx="414.01" cy="321.94" r="1.3" fill="#2E7A36"/>
<circle cx="416.88" cy="321.05" r="1.3" fill="#2E7A36"/>
<circle cx="419.75" cy="320.16" r="1.3" fill="#2E7A36"/>
<circle cx="422.63" cy="319.16" r="1.3" fill="#2E7A36"/>
<circle cx="425.5" cy="318.61" r="1.3" fill="#2E7A36"/>
<circle cx="428.37" cy="317.72" r="1.3" fill="#2E7A36"/>
<circle cx="431.25" cy="317.12" r="1.3" fill="#2E7A36"/>
<circle cx="434.12" cy="316.5" r="1.3" fill="#2E7A36"/>
<circle cx="436.99" cy="316.38" r="1.3" fill="#2E7A36"/>
<circle cx="439.87" cy="315.73" r="1.3" fill="#2E7A36"/>
<circle cx="442.74" cy="315.32" r="1.3" fill="#2E7A36"/>
<circle cx="445.61" cy="314.6" r="1.3" fill="#2E7A36"/>
<circle cx="448.49" cy="314.06" r="1.3" fill="#2E7A36"/>
<circle cx="451.36" cy="313.44" r="1.3" fill="#2E7A36"/>
<circle cx="454.23" cy="312.7" r="1.3" fill="#2E7A36"/>
<circle cx="457.1" cy="311.89" r="1.3" fill="#2E7A36"/>
<circle cx="459.98" cy="310.46" r="1.3" fill="#2E7A36"/>
<circle cx="462.85" cy="309.33" r="1.3" fill="#2E7A36"/>
<circle cx="465.72" cy="308.83" r="1.3" fill="#2E7A36"/>
<circle cx="468.6" cy="308.28" r="1.3" fill="#2E7A36"/>
<circle cx="471.47" cy="307.53" r="1.3" fill="#2E7A36"/>
<circle cx="474.34" cy="307.17" r="1.3" fill="#2E7A36"/>
<circle cx="477.22" cy="306.29" r="1.3" fill="#2E7A36"/>
<circle cx="480.09" cy="306.02" r="1.3" fill="#2E7A36"/>
<circle cx="482.96" cy="305.57" r="1.3" fill="#2E7A36"/>
<circle cx="485.83" cy="304.97" r="1.3" fill="#2E7A36"/>
<circle cx="488.71" cy="304.4" r="1.3" fill="#2E7A36"/>
<circle cx="491.58" cy="303.87" r="1.3" fill="#2E7A36"/>
<polyline points="322.07,328.06 324.95,328.18 327.82,328.36 330.69,328.26 333.56,328.59 336.44,328.29 339.31,328.34 342.18,328.57 345.06,328.82 347.93,328.85 350.8,328.87 353.68,329.22 356.55,329.06 359.42,329.04 362.3,329.29 365.17,329.38 368.04,329.02 370.91,329.32 373.79,329.27 376.66,329.11 379.53,329.36 382.41,329.63 385.28,329.33 388.15,329.77 391.02,330.06 393.9,329.77 396.77,330.2 399.64,330.17 402.52,329.96 405.39,330.1 408.26,330.47 411.14,330.17 414.01,330.14 416.88,330.04 419.75,330.15 422.63,329.88 425.5,330.12 428.37,329.94 431.25,329.84 434.12,329.46 436.99,329.9 439.87,329.46 442.74,329.73 445.61,329.46 448.49,329.5 451.36,329.38 454.23,329.12 457.1,329.23 459.98,329.3 462.85,329.2 465.72,329.14 468.6,328.61 471.47,328.63 474.34,328.36 477.22,328.42 480.09,328.71 482.96,328.26 485.83,328.1 488.71,328.04 491.58,328.07" fill="none" stroke="#E83228" stroke-width="0.8"/>
<circle cx="322.07" cy="328.06" r="1.3" fill="#E83228"/>
<circle cx="324.95" cy="328.18" r="1.3" fill="#E83228"/>
<circle cx="327.82" cy="328.36" r="1.3" fill="#E83228"/>
<circle cx="330.69" cy="328.26" r="1.3" fill="#E83228"/>
<circle cx="333.56" cy="328.59" r="1.3" fill="#E83228"/>
<circle cx="336.44" cy="328.29" r="1.3" fill="#E83228"/>
<circle cx="339.31" cy="328.34" r="1.3" fill="#E83228"/>
<circle cx="342.18" cy="328.57" r="1.3" fill="#E83228"/>
<circle cx="345.06" cy="328.82" r="1.3" fill="#E83228"/>
<circle cx="347.93" cy="328.85" r="1.3" fill="#E83228"/>
<circle cx="350.8" cy="328.87" r="1.3" fill="#E83228"/>
<circle cx="353.68" cy="329.22" r="1.3" fill="#E83228"/>
<circle cx="356.55" cy="329.06" r="1.3" fill="#E83228"/>
<circle cx="359.42" cy="329.04" r="1.3" fill="#E83228"/>
<circle cx="362.3" cy="329.29" r="1.3" fill="#E83228"/>
<circle cx="365.17" cy="329.38" r="1.3" fill="#E83228"/>
<circle cx="368.04" cy="329.02" r="1.3" fill="#E83228"/>
<circle cx="370.91" cy="329.32" r="1.3" fill="#E83228"/>
<circle cx="373.79" cy="329.27" r="1.3" fill="#E83228"/>
<circle cx="376.66" cy="329.11" r="1.3" fill="#E83228"/>
<circle cx="379.53" cy="329.36" r="1.3" fill="#E83228"/>
<circle cx="382.41" cy="329.63" r="1.3" fill="#E83228"/>
<circle cx="385.28" cy="329.33" r="1.3" fill="#E83228"/>
<circle cx="388.15" cy="329.77" r="1.3" fill="#E83228"/>
<circle cx="391.02" cy="330.06" r="1.3" fill="#E83228"/>
<circle cx="393.9" cy="329.77" r="1.3" fill="#E83228"/>
<circle cx="396.77" cy="330.2" r="1.3" fill="#E83228"/>
<circle cx="399.64" cy="330.17" r="1.3" fill="#E83228"/>
<circle cx="402.52" cy="329.96" r="1.3" fill="#E83228"/>
<circle cx="405.39" cy="330.1" r="1.3" fill="#E83228"/>
<circle cx="408.26" cy="330.47" r="1.3" fill="#E83228"/>
<circle cx="411.14" cy="330.17" r="1.3" fill="#E83228"/>
<circle cx="414.01" cy="330.14" r="1.3" fill="#E83228"/>
<circle cx="416.88" cy="330.04" r="1.3" fill="#E83228"/>
<circle cx="419.75" cy="330.15" r="1.3" fill="#E83228"/>
<circle cx="422.63" cy="329.88" r="1.3" fill="#E83228"/>
<circle cx="425.5" cy="330.12" r="1.3" fill="#E83228"/>
<circle cx="428.37" cy="329.94" r="1.3" fill="#E83228"/>
<circle cx="431.25" cy="329.84" r="1.3" fill="#E83228"/>
<circle cx="434.12" cy="329.46" r="1.3" fill="#E83228"/>
<circle cx="436.99" cy="329.9" r="1.3" fill="#E83228"/>
<circle cx="439.87" cy="329.46" r="1.3" fill="#E83228"/>
<circle cx="442.74" cy="329.73" r="1.3" fill="#E83228"/>
<circle cx="445.61" cy="329.46" r="1.3" fill="#E83228"/>
<circle cx="448.49" cy="329.5" r="1.3" fill="#E83228"/>
<circle cx="451.36" cy="329.38" r="1.3" fill="#E83228"/>
<circle cx="454.23" cy="329.12" r="1.3" fill="#E83228"/>
<circle cx="457.1" cy="329.23" r="1.3" fill="#E83228"/>
<circle cx="459.98" cy="329.3" r="1.3" fill="#E83228"/>
<circle cx="462.85" cy="329.2" r="1.3" fill="#E83228"/>
<circle cx="465.72" cy="329.14" r="1.3" fill="#E83228"/>
<circle cx="468.6" cy="328.61" r="1.3" fill="#E83228"/>
<circle cx="471.47" cy="328.63" r="1.3" fill="#E83228"/>
<circle cx="474.34" cy="328.36" r="1.3" fill="#E83228"/>
<circle cx="477.22" cy="328.42" r="1.3" fill="#E83228"/>
<circle cx="480.09" cy="328.71" r="1.3" fill="#E83228"/>
<circle cx="482.96" cy="328.26" r="1.3" fill="#E83228"/>
<circle cx="485.83" cy="328.1" r="1.3" fill="#E83228"/>
<circle cx="488.71" cy="328.04" r="1.3" fill="#E83228"/>
<circle cx="491.58" cy="328.07" r="1.3" fill="#E83228"/>
<polyline points="322.07,328.96 324.95,329 327.82,328.91 330.69,329.31 333.56,329.27 336.44,329.4 339.31,329.22 342.18,329.41 345.06,329.44 347.93,329.59 350.8,329.99 353.68,330.1 356.55,330.04 359.42,330.25 362.3,330.23 365.17,330.17 368.04,330.11 370.91,330.38 373.79,330.33 376.66,330.81 379.53,330.73 382.41,330.42 385.28,330.96 388.15,330.87 391.02,331.12 393.9,331.17 396.77,330.76 399.64,330.77 402.52,331.02 405.39,331.34 408.26,331.24 411.14,331.24 414.01,330.95 416.88,330.91 419.75,331.01 422.63,330.92 425.5,331.12 428.37,330.83 431.25,330.56 434.12,330.63 436.99,330.97 439.87,330.69 442.74,330.54 445.61,330.77 448.49,330.35 451.36,330.53 454.23,330.31 457.1,330.39 459.98,329.97 462.85,330.01 465.72,330.04 468.6,330.21 471.47,329.95 474.34,330.1 477.22,329.7 480.09,329.45 482.96,329.77 485.83,329.49 488.71,329.43 491.58,329.39" fill="none" stroke="#3450B0" stroke-width="0.8"/>
<circle cx="322.07" cy="328.96" r="1.3" fill="#3450B0"/>
<circle cx="324.95" cy="329" r="1.3" fill="#3450B0"/>
<circle cx="327.82" cy="328.91" r="1.3" fill="#3450B0"/>
<circle cx="330.69" cy="329.31" r="1.3" fill="#3450B0"/>
<circle cx="333.56" cy="329.27" r="1.3" fill="#3450B0"/>
<circle cx="336.44" cy="329.4" r="1.3" fill="#3450B0"/>
<circle cx="339.31" cy="329.22" r="1.3" fill="#3450B0"/>
<circle cx="342.18" cy="329.41" r="1.3" fill="#3450B0"/>
<circle cx="345.06" cy="329.44" r="1.3" fill="#3450B0"/>
<circle cx="347.93" cy="329.59" r="1.3" fill="#3450B0"/>
<circle cx="350.8" cy="329.99" r="1.3" fill="#3450B0"/>
<circle cx="353.68" cy="330.1" r="1.3" fill="#3450B0"/>
<circle cx="356.55" cy="330.04" r="1.3" fill="#3450B0"/>
<circle cx="359.42" cy="330.25" r="1.3" fill="#3450B0"/>
<circle cx="362.3" cy="330.23" r="1.3" fill="#3450B0"/>
<circle cx="365.17" cy="330.17" r="1.3" fill="#3450B0"/>
<circle cx="368.04" cy="330.11" r="1.3" fill="#3450B0"/>
<circle cx="370.91" cy="330.38" r="1.3" fill="#3450B0"/>
<circle cx="373.79" cy="330.33" r="1.3" fill="#3450B0"/>
<circle cx="376.66" cy="330.81" r="1.3" fill="#3450B0"/>
<circle cx="379.53" cy="330.73" r="1.3" fill="#3450B0"/>
<circle cx="382.41" cy="330.42" r="1.3" fill="#3450B0"/>
<circle cx="385.28" cy="330.96" r="1.3" fill="#3450B0"/>
<circle cx="388.15" cy="330.87" r="1.3" fill="#3450B0"/>
<circle cx="391.02" cy="331.12" r="1.3" fill="#3450B0"/>
<circle cx="393.9" cy="331.17" r="1.3" fill="#3450B0"/>
<circle cx="396.77" cy="330.76" r="1.3" fill="#3450B0"/>
<circle cx="399.64" cy="330.77" r="1.3" fill="#3450B0"/>
<circle cx="402.52" cy="331.02" r="1.3" fill="#3450B0"/>
<circle cx="405.39" cy="331.34" r="1.3" fill="#3450B0"/>
<circle cx="408.26" cy="331.24" r="1.3" fill="#3450B0"/>
<circle cx="411.14" cy="331.24" r="1.3" fill="#3450B0"/>
<circle cx="414.01" cy="330.95" r="1.3" fill="#3450B0"/>
<circle cx="416.88" cy="330.91" r="1.3" fill="#3450B0"/>
<circle cx="419.75" cy="331.01" r="1.3" fill="#3450B0"/>
<circle cx="422.63" cy="330.92" r="1.3" fill="#3450B0"/>
<circle cx="425.5" cy="331.12" r="1.3" fill="#3450B0"/>
<circle cx="428.37" cy="330.83" r="1.3" fill="#3450B0"/>
<circle cx="431.25" cy="330.56" r="1.3" fill="#3450B0"/>
<circle cx="434.12" cy="330.63" r="1.3" fill="#3450B0"/>
<circle cx="436.99" cy="330.97" r="1.3" fill="#3450B0"/>
<circle cx="439.87" cy="330.69" r="1.3" fill="#3450B0"/>
<circle cx="442.74" cy="330.54" r="1.3" fill="#3450B0"/>
<circle cx="445.61" cy="330.77" r="1.3" fill="#3450B0"/>
<circle cx="448.49" cy="330.35" r="1.3" fill="#3450B0"/>
<circle cx="451.36" cy="330.53" r="1.3" fill="#3450B0"/>
<circle cx="454.23" cy="330.31" r="1.3" fill="#3450B0"/>
<circle cx="457.1" cy="330.39" r="1.3" fill="#3450B0"/>
<circle cx="459.98" cy="329.97" r="1.3" fill="#3450B0"/>
<circle cx="462.85" cy="330.01" r="1.3" fill="#3450B0"/>
<circle cx="465.72" cy="330.04" r="1.3" fill="#3450B0"/>
<circle cx="468.6" cy="330.21" r="1.3" fill="#3450B0"/>
<circle cx="471.47" cy="329.95" r="1.3" fill="#3450B0"/>
<circle cx="474.34" cy="330.1" r="1.3" fill="#3450B0"/>
<circle cx="477.22" cy="329.7" r="1.3" fill="#3450B0"/>
<circle cx="480.09" cy="329.45" r="1.3" fill="#3450B0"/>
<circle cx="482.96" cy="329.77" r="1.3" fill="#3450B0"/>
<circle cx="485.83" cy="329.49" r="1.3" fill="#3450B0"/>
<circle cx="488.71" cy="329.43" r="1.3" fill="#3450B0"/>
<circle cx="491.58" cy="329.39" r="1.3" fill="#3450B0"/>
<line x1="319.2" y1="218.45" x2="319.2" y2="334.05" stroke="#333" stroke-width="1.25"/>
<line x1="318.6" y1="333.45" x2="492.18" y2="333.45" stroke="#333" stroke-width="1.25"/>
<line x1="314.6" y1="333.45" x2="319.2" y2="333.45" stroke="#333" stroke-width="1.2"/>
<text transform="translate(313 336.7) scale(0.8 1)" x="0" y="0" font-size="9.2" font-weight="bold" text-anchor="end" stroke="#000" stroke-width="0.3">0</text>
<line x1="314.6" y1="310.57" x2="319.2" y2="310.57" stroke="#333" stroke-width="1.2"/>
<text transform="translate(313 313.82) scale(0.8 1)" x="0" y="0" font-size="9.2" font-weight="bold" text-anchor="end" textLength="11.25" lengthAdjust="spacing" stroke="#000" stroke-width="0.3">20</text>
<line x1="314.6" y1="287.69" x2="319.2" y2="287.69" stroke="#333" stroke-width="1.2"/>
<text transform="translate(313 290.94) scale(0.8 1)" x="0" y="0" font-size="9.2" font-weight="bold" text-anchor="end" textLength="11.25" lengthAdjust="spacing" stroke="#000" stroke-width="0.3">40</text>
<line x1="314.6" y1="264.81" x2="319.2" y2="264.81" stroke="#333" stroke-width="1.2"/>
<text transform="translate(313 268.06) scale(0.8 1)" x="0" y="0" font-size="9.2" font-weight="bold" text-anchor="end" textLength="11.25" lengthAdjust="spacing" stroke="#000" stroke-width="0.3">60</text>
<line x1="314.6" y1="241.93" x2="319.2" y2="241.93" stroke="#333" stroke-width="1.2"/>
<text transform="translate(313 245.18) scale(0.8 1)" x="0" y="0" font-size="9.2" font-weight="bold" text-anchor="end" textLength="11.25" lengthAdjust="spacing" stroke="#000" stroke-width="0.3">80</text>
<line x1="314.6" y1="219.05" x2="319.2" y2="219.05" stroke="#333" stroke-width="1.2"/>
<text transform="translate(313 222.3) scale(0.8 1)" x="0" y="0" font-size="9.2" font-weight="bold" text-anchor="end" textLength="16.5" lengthAdjust="spacing" stroke="#000" stroke-width="0.3">100</text>
<line x1="319.2" y1="333.45" x2="319.2" y2="338.45" stroke="#333" stroke-width="1.2"/>
<text transform="translate(319.4 347.75) scale(0.8 1)" x="0" y="0" font-size="9" font-weight="bold" text-anchor="middle" stroke="#000" stroke-width="0.3">0</text>
<line x1="347.93" y1="333.45" x2="347.93" y2="338.45" stroke="#333" stroke-width="1.2"/>
<text transform="translate(348.13 347.75) scale(0.8 1)" x="0" y="0" font-size="9" font-weight="bold" text-anchor="middle" textLength="10.75" lengthAdjust="spacing" stroke="#000" stroke-width="0.3">10</text>
<line x1="376.66" y1="333.45" x2="376.66" y2="338.45" stroke="#333" stroke-width="1.2"/>
<text transform="translate(376.86 347.75) scale(0.8 1)" x="0" y="0" font-size="9" font-weight="bold" text-anchor="middle" textLength="10.75" lengthAdjust="spacing" stroke="#000" stroke-width="0.3">20</text>
<line x1="405.39" y1="333.45" x2="405.39" y2="338.45" stroke="#333" stroke-width="1.2"/>
<text transform="translate(405.59 347.75) scale(0.8 1)" x="0" y="0" font-size="9" font-weight="bold" text-anchor="middle" textLength="10.75" lengthAdjust="spacing" stroke="#000" stroke-width="0.3">30</text>
<line x1="434.12" y1="333.45" x2="434.12" y2="338.45" stroke="#333" stroke-width="1.2"/>
<text transform="translate(434.32 347.75) scale(0.8 1)" x="0" y="0" font-size="9" font-weight="bold" text-anchor="middle" textLength="10.75" lengthAdjust="spacing" stroke="#000" stroke-width="0.3">40</text>
<line x1="462.85" y1="333.45" x2="462.85" y2="338.45" stroke="#333" stroke-width="1.2"/>
<text transform="translate(463.05 347.75) scale(0.8 1)" x="0" y="0" font-size="9" font-weight="bold" text-anchor="middle" textLength="10.75" lengthAdjust="spacing" stroke="#000" stroke-width="0.3">50</text>
<line x1="491.58" y1="333.45" x2="491.58" y2="338.45" stroke="#333" stroke-width="1.2"/>
<text transform="translate(491.78 347.75) scale(0.8 1)" x="0" y="0" font-size="9" font-weight="bold" text-anchor="middle" textLength="10.75" lengthAdjust="spacing" stroke="#000" stroke-width="0.3">60</text>
<text transform="translate(405.79 362.45) scale(0.75 1)" x="0" y="0" font-size="10.8" font-weight="bold" text-anchor="middle" textLength="99.87" lengthAdjust="spacing" stroke="#000" stroke-width="0.3">Treatment (hour)</text>
<text transform="translate(391.1 204) scale(0.7 1)" x="0" y="0" font-size="12.3" font-weight="bold" textLength="38.57" lengthAdjust="spacing" stroke="#000" stroke-width="0.3">U2OS</text>
<text transform="translate(282.3 276.2) rotate(-90) scale(0.84 1)" x="0" y="0" font-size="9.8" font-weight="bold" text-anchor="middle" textLength="140.95" lengthAdjust="spacing" stroke="#000" stroke-width="0.18">% of Caspase3/7 depedent</text>
<text transform="translate(293.1 275.8) rotate(-90) scale(0.84 1)" x="0" y="0" font-size="9.8" font-weight="bold" text-anchor="middle" textLength="105.48" lengthAdjust="spacing" stroke="#000" stroke-width="0.18">apoptotic cell death</text>
<polyline points="495,242.6 498.6,242.6 498.6,279.4 495,279.4" fill="none" stroke="#444" stroke-width="1.2"/>
<polyline points="505.7,242.6 509,242.6 509,328.8 505.7,328.8" fill="none" stroke="#444" stroke-width="1.2"/>
<path d="M506.35 257.8L501.65 257.8M505.18 255.76L502.82 259.84M505.18 259.84L502.82 255.76" stroke="#000" stroke-width="1" fill="none"/>
<path d="M506.35 265.9L501.65 265.9M505.18 263.86L502.82 267.94M505.18 267.94L502.82 263.86" stroke="#000" stroke-width="1" fill="none"/>
<path d="M517.35 274.3L512.65 274.3M516.17 272.26L513.83 276.34M516.17 276.34L513.83 272.26" stroke="#000" stroke-width="1" fill="none"/>
<path d="M517.35 282.9L512.65 282.9M516.17 280.86L513.83 284.94M516.17 284.94L513.83 280.86" stroke="#000" stroke-width="1" fill="none"/>
<path d="M517.35 291.5L512.65 291.5M516.17 289.46L513.83 293.54M516.17 293.54L513.83 289.46" stroke="#000" stroke-width="1" fill="none"/>
<path d="M517.35 300.1L512.65 300.1M516.17 298.06L513.83 302.14M516.17 302.14L513.83 298.06" stroke="#000" stroke-width="1" fill="none"/>
<line x1="528.8" y1="254" x2="541.4" y2="254" stroke="#7C8FD0" stroke-width="0.8"/>
<circle cx="535.1" cy="254" r="1.6" fill="#3450B0"/>
<text transform="translate(548.2 257.5) scale(0.78 1)" x="0" y="0" font-size="10.4" fill="#3a3a3a" stroke="#3a3a3a" stroke-width="0.12" letter-spacing="1">NCT-Inactive</text>
<line x1="528.8" y1="269.5" x2="541.4" y2="269.5" stroke="#F08A84" stroke-width="0.8"/>
<circle cx="535.1" cy="269.5" r="1.6" fill="#E83228"/>
<text transform="translate(548.2 273) scale(0.78 1)" x="0" y="0" font-size="10.4" fill="#3a3a3a" stroke="#3a3a3a" stroke-width="0.12" letter-spacing="1">NCT-503</text>
<line x1="528.8" y1="285" x2="541.4" y2="285" stroke="#7FB487" stroke-width="0.8"/>
<circle cx="535.1" cy="285" r="1.6" fill="#2E7A36"/>
<text transform="translate(548.2 288.5) scale(0.78 1)" x="0" y="0" font-size="10.4" fill="#3a3a3a" stroke="#3a3a3a" stroke-width="0.12" letter-spacing="1">Perhexiline</text>
<line x1="528.8" y1="300.8" x2="541.4" y2="300.8" stroke="#A67ED2" stroke-width="0.8"/>
<circle cx="535.1" cy="300.8" r="1.6" fill="#7432A8"/>
<text transform="translate(548.2 304.3) scale(0.78 1)" x="0" y="0" font-size="10.4" fill="#3a3a3a" stroke="#3a3a3a" stroke-width="0.12" letter-spacing="1">NCT-503 + Perhexiline</text>
<line x1="528.8" y1="316.4" x2="541.4" y2="316.4" stroke="#DA9A6E" stroke-width="0.8"/>
<circle cx="535.1" cy="316.4" r="1.6" fill="#C2622C"/>
<text transform="translate(548.2 319.9) scale(0.78 1)" x="0" y="0" font-size="10.4" fill="#3a3a3a" stroke="#3a3a3a" stroke-width="0.12" letter-spacing="1">NCT-503 + Perhexiline + Z-VAD</text>
<path d="M322.07 531.61V533.44M320.77 531.61H323.37M320.77 533.44H323.37M324.95 531.01V532.95M323.65 531.01H326.25M323.65 532.95H326.25M327.82 530.69V532.75M326.52 530.69H329.12M326.52 532.75H329.12M330.69 530.14V532.31M329.39 530.14H331.99M329.39 532.31H331.99M333.56 529.67V531.96M332.26 529.67H334.87M332.26 531.96H334.87M336.44 529.46V531.86M335.14 529.46H337.74M335.14 531.86H337.74M339.31 528.87V531.38M338.01 528.87H340.61M338.01 531.38H340.61M342.18 527.71V530.34M340.88 527.71H343.48M340.88 530.34H343.48M345.06 527.36V530.1M343.76 527.36H346.36M343.76 530.1H346.36M347.93 526.65V529.51M346.63 526.65H349.23M346.63 529.51H349.23M350.8 525.46V528.43M349.5 525.46H352.1M349.5 528.43H352.1M353.68 524.97V528.06M352.38 524.97H354.98M352.38 528.06H354.98M356.55 523.9V527.1M355.25 523.9H357.85M355.25 527.1H357.85M359.42 523.1V526.41M358.12 523.1H360.72M358.12 526.41H360.72M362.3 521.84V525.27M361 521.84H363.6M361 525.27H363.6M365.17 520.82V524.59M363.87 520.82H366.47M363.87 524.59H366.47M368.04 519.36V523.47M366.74 519.36H369.34M366.74 523.47H369.34M370.91 518.15V522.61M369.61 518.15H372.21M369.61 522.61H372.21M373.79 517.29V522.09M372.49 517.29H375.09M372.49 522.09H375.09M376.66 516.01V521.15M375.36 516.01H377.96M375.36 521.15H377.96M379.53 514.8V520.28M378.23 514.8H380.83M378.23 520.28H380.83M382.41 513.86V519.69M381.11 513.86H383.71M381.11 519.69H383.71M385.28 512.28V518.45M383.98 512.28H386.58M383.98 518.45H386.58M388.15 511.27V517.79M386.85 511.27H389.45M386.85 517.79H389.45M391.02 510.36V517.21M389.72 510.36H392.32M389.72 517.21H392.32M393.9 509.33V516.54M392.6 509.33H395.2M392.6 516.54H395.2M396.77 507.59V515.15M395.47 507.59H398.07M395.47 515.15H398.07M399.64 506.48V514.38M398.34 506.48H400.94M398.34 514.38H400.94M402.52 504.94V513.2M401.22 504.94H403.82M401.22 513.2H403.82M405.39 503.55V512.16M404.09 503.55H406.69M404.09 512.16H406.69M408.26 502.47V511.42M406.96 502.47H409.56M406.96 511.42H409.56M411.14 501.32V510.62M409.84 501.32H412.44M409.84 510.62H412.44M414.01 500.58V510.24M412.71 500.58H415.31M412.71 510.24H415.31M416.88 499.22V509.23M415.58 499.22H418.18M415.58 509.23H418.18M419.75 498.19V508.55M418.45 498.19H421.06M418.45 508.55H421.06M422.63 496.57V507.28M421.33 496.57H423.93M421.33 507.28H423.93M425.5 495.27V506.33M424.2 495.27H426.8M424.2 506.33H426.8M428.37 494.38V505.79M427.07 494.38H429.67M427.07 505.79H429.67M431.25 493.02V504.78M429.95 493.02H432.55M429.95 504.78H432.55M434.12 491.67V503.78M432.82 491.67H435.42M432.82 503.78H435.42M436.99 490.02V502.4M435.69 490.02H438.29M435.69 502.4H438.29M439.87 489.13V501.79M438.57 489.13H441.17M438.57 501.79H441.17M442.74 487.84V500.77M441.44 487.84H444.04M441.44 500.77H444.04M445.61 486.83V500.04M444.31 486.83H446.91M444.31 500.04H446.91M448.49 485.53V499.02M447.19 485.53H449.79M447.19 499.02H449.79M451.36 484.43V498.19M450.06 484.43H452.66M450.06 498.19H452.66M454.23 483.29V497.32M452.93 483.29H455.53M452.93 497.32H455.53M457.1 481.99V496.29M455.8 481.99H458.4M455.8 496.29H458.4M459.98 480.82V495.4M458.68 480.82H461.28M458.68 495.4H461.28M462.85 479.38V494.23M461.55 479.38H464.15M461.55 494.23H464.15M465.72 478.05V493.38M464.42 478.05H467.02M464.42 493.38H467.02M468.6 476.35V492.16M467.3 476.35H469.9M467.3 492.16H469.9M471.47 474.84V491.13M470.17 474.84H472.77M470.17 491.13H472.77M474.34 473.16V489.94M473.04 473.16H475.64M473.04 489.94H475.64M477.22 471.7V488.96M475.92 471.7H478.52M475.92 488.96H478.52M480.09 470.31V488.04M478.79 470.31H481.39M478.79 488.04H481.39M482.96 468.39V486.6M481.66 468.39H484.26M481.66 486.6H484.26M485.83 466.97V485.66M484.53 466.97H487.13M484.53 485.66H487.13M488.71 465.81V484.98M487.41 465.81H490.01M487.41 484.98H490.01M491.58 464.81V484.46M490.28 464.81H492.88M490.28 484.46H492.88" stroke="#ABABAB" stroke-width="0.65" fill="none"/>
<polyline points="322.07,532.52 324.95,531.98 327.82,531.72 330.69,531.22 333.56,530.82 336.44,530.66 339.31,530.12 342.18,529.03 345.06,528.73 347.93,528.08 350.8,526.95 353.68,526.52 356.55,525.5 359.42,524.75 362.3,523.55 365.17,522.71 368.04,521.42 370.91,520.38 373.79,519.69 376.66,518.58 379.53,517.54 382.41,516.78 385.28,515.36 388.15,514.53 391.02,513.78 393.9,512.94 396.77,511.37 399.64,510.43 402.52,509.07 405.39,507.86 408.26,506.95 411.14,505.97 414.01,505.41 416.88,504.22 419.75,503.37 422.63,501.92 425.5,500.8 428.37,500.08 431.25,498.9 434.12,497.73 436.99,496.21 439.87,495.46 442.74,494.3 445.61,493.44 448.49,492.28 451.36,491.31 454.23,490.3 457.1,489.14 459.98,488.11 462.85,486.8 465.72,485.71 468.6,484.26 471.47,482.99 474.34,481.55 477.22,480.33 480.09,479.17 482.96,477.49 485.83,476.32 488.71,475.4 491.58,474.64" fill="none" stroke="#727272" stroke-width="0.8"/>
<circle cx="322.07" cy="532.52" r="1.3" fill="#727272"/>
<circle cx="324.95" cy="531.98" r="1.3" fill="#727272"/>
<circle cx="327.82" cy="531.72" r="1.3" fill="#727272"/>
<circle cx="330.69" cy="531.22" r="1.3" fill="#727272"/>
<circle cx="333.56" cy="530.82" r="1.3" fill="#727272"/>
<circle cx="336.44" cy="530.66" r="1.3" fill="#727272"/>
<circle cx="339.31" cy="530.12" r="1.3" fill="#727272"/>
<circle cx="342.18" cy="529.03" r="1.3" fill="#727272"/>
<circle cx="345.06" cy="528.73" r="1.3" fill="#727272"/>
<circle cx="347.93" cy="528.08" r="1.3" fill="#727272"/>
<circle cx="350.8" cy="526.95" r="1.3" fill="#727272"/>
<circle cx="353.68" cy="526.52" r="1.3" fill="#727272"/>
<circle cx="356.55" cy="525.5" r="1.3" fill="#727272"/>
<circle cx="359.42" cy="524.75" r="1.3" fill="#727272"/>
<circle cx="362.3" cy="523.55" r="1.3" fill="#727272"/>
<circle cx="365.17" cy="522.71" r="1.3" fill="#727272"/>
<circle cx="368.04" cy="521.42" r="1.3" fill="#727272"/>
<circle cx="370.91" cy="520.38" r="1.3" fill="#727272"/>
<circle cx="373.79" cy="519.69" r="1.3" fill="#727272"/>
<circle cx="376.66" cy="518.58" r="1.3" fill="#727272"/>
<circle cx="379.53" cy="517.54" r="1.3" fill="#727272"/>
<circle cx="382.41" cy="516.78" r="1.3" fill="#727272"/>
<circle cx="385.28" cy="515.36" r="1.3" fill="#727272"/>
<circle cx="388.15" cy="514.53" r="1.3" fill="#727272"/>
<circle cx="391.02" cy="513.78" r="1.3" fill="#727272"/>
<circle cx="393.9" cy="512.94" r="1.3" fill="#727272"/>
<circle cx="396.77" cy="511.37" r="1.3" fill="#727272"/>
<circle cx="399.64" cy="510.43" r="1.3" fill="#727272"/>
<circle cx="402.52" cy="509.07" r="1.3" fill="#727272"/>
<circle cx="405.39" cy="507.86" r="1.3" fill="#727272"/>
<circle cx="408.26" cy="506.95" r="1.3" fill="#727272"/>
<circle cx="411.14" cy="505.97" r="1.3" fill="#727272"/>
<circle cx="414.01" cy="505.41" r="1.3" fill="#727272"/>
<circle cx="416.88" cy="504.22" r="1.3" fill="#727272"/>
<circle cx="419.75" cy="503.37" r="1.3" fill="#727272"/>
<circle cx="422.63" cy="501.92" r="1.3" fill="#727272"/>
<circle cx="425.5" cy="500.8" r="1.3" fill="#727272"/>
<circle cx="428.37" cy="500.08" r="1.3" fill="#727272"/>
<circle cx="431.25" cy="498.9" r="1.3" fill="#727272"/>
<circle cx="434.12" cy="497.73" r="1.3" fill="#727272"/>
<circle cx="436.99" cy="496.21" r="1.3" fill="#727272"/>
<circle cx="439.87" cy="495.46" r="1.3" fill="#727272"/>
<circle cx="442.74" cy="494.3" r="1.3" fill="#727272"/>
<circle cx="445.61" cy="493.44" r="1.3" fill="#727272"/>
<circle cx="448.49" cy="492.28" r="1.3" fill="#727272"/>
<circle cx="451.36" cy="491.31" r="1.3" fill="#727272"/>
<circle cx="454.23" cy="490.3" r="1.3" fill="#727272"/>
<circle cx="457.1" cy="489.14" r="1.3" fill="#727272"/>
<circle cx="459.98" cy="488.11" r="1.3" fill="#727272"/>
<circle cx="462.85" cy="486.8" r="1.3" fill="#727272"/>
<circle cx="465.72" cy="485.71" r="1.3" fill="#727272"/>
<circle cx="468.6" cy="484.26" r="1.3" fill="#727272"/>
<circle cx="471.47" cy="482.99" r="1.3" fill="#727272"/>
<circle cx="474.34" cy="481.55" r="1.3" fill="#727272"/>
<circle cx="477.22" cy="480.33" r="1.3" fill="#727272"/>
<circle cx="480.09" cy="479.17" r="1.3" fill="#727272"/>
<circle cx="482.96" cy="477.49" r="1.3" fill="#727272"/>
<circle cx="485.83" cy="476.32" r="1.3" fill="#727272"/>
<circle cx="488.71" cy="475.4" r="1.3" fill="#727272"/>
<circle cx="491.58" cy="474.64" r="1.3" fill="#727272"/>
<polyline points="322.07,532.25 324.95,532.54 327.82,532.18 330.69,532.33 333.56,532.5 336.44,532.62 339.31,532.17 342.18,532.09 345.06,532.61 347.93,532.2 350.8,532.42 353.68,532.57 356.55,532.49 359.42,532.22 362.3,532.16 365.17,532.63 368.04,532.31 370.91,532.63 373.79,532.25 376.66,532.41 379.53,531.98 382.41,531.76 385.28,531.86 388.15,531.4 391.02,531.63 393.9,531.59 396.77,531.12 399.64,531.27 402.52,531 405.39,530.68 408.26,530.33 411.14,530.33 414.01,530.13 416.88,529.4 419.75,529.45 422.63,528.82 425.5,528.59 428.37,528.63 431.25,528.32 434.12,527.99 436.99,527.6 439.87,527.27 442.74,526.94 445.61,526.55 448.49,526.01 451.36,525.9 454.23,525.59 457.1,525.07 459.98,524.99 462.85,524.62 465.72,523.92 468.6,523.88 471.47,523.57 474.34,523.58 477.22,523.05 480.09,522.66 482.96,522.69 485.83,522.05 488.71,521.74 491.58,521.77" fill="none" stroke="#C2622C" stroke-width="0.8"/>
<circle cx="322.07" cy="532.25" r="1.3" fill="#C2622C"/>
<circle cx="324.95" cy="532.54" r="1.3" fill="#C2622C"/>
<circle cx="327.82" cy="532.18" r="1.3" fill="#C2622C"/>
<circle cx="330.69" cy="532.33" r="1.3" fill="#C2622C"/>
<circle cx="333.56" cy="532.5" r="1.3" fill="#C2622C"/>
<circle cx="336.44" cy="532.62" r="1.3" fill="#C2622C"/>
<circle cx="339.31" cy="532.17" r="1.3" fill="#C2622C"/>
<circle cx="342.18" cy="532.09" r="1.3" fill="#C2622C"/>
<circle cx="345.06" cy="532.61" r="1.3" fill="#C2622C"/>
<circle cx="347.93" cy="532.2" r="1.3" fill="#C2622C"/>
<circle cx="350.8" cy="532.42" r="1.3" fill="#C2622C"/>
<circle cx="353.68" cy="532.57" r="1.3" fill="#C2622C"/>
<circle cx="356.55" cy="532.49" r="1.3" fill="#C2622C"/>
<circle cx="359.42" cy="532.22" r="1.3" fill="#C2622C"/>
<circle cx="362.3" cy="532.16" r="1.3" fill="#C2622C"/>
<circle cx="365.17" cy="532.63" r="1.3" fill="#C2622C"/>
<circle cx="368.04" cy="532.31" r="1.3" fill="#C2622C"/>
<circle cx="370.91" cy="532.63" r="1.3" fill="#C2622C"/>
<circle cx="373.79" cy="532.25" r="1.3" fill="#C2622C"/>
<circle cx="376.66" cy="532.41" r="1.3" fill="#C2622C"/>
<circle cx="379.53" cy="531.98" r="1.3" fill="#C2622C"/>
<circle cx="382.41" cy="531.76" r="1.3" fill="#C2622C"/>
<circle cx="385.28" cy="531.86" r="1.3" fill="#C2622C"/>
<circle cx="388.15" cy="531.4" r="1.3" fill="#C2622C"/>
<circle cx="391.02" cy="531.63" r="1.3" fill="#C2622C"/>
<circle cx="393.9" cy="531.59" r="1.3" fill="#C2622C"/>
<circle cx="396.77" cy="531.12" r="1.3" fill="#C2622C"/>
<circle cx="399.64" cy="531.27" r="1.3" fill="#C2622C"/>
<circle cx="402.52" cy="531" r="1.3" fill="#C2622C"/>
<circle cx="405.39" cy="530.68" r="1.3" fill="#C2622C"/>
<circle cx="408.26" cy="530.33" r="1.3" fill="#C2622C"/>
<circle cx="411.14" cy="530.33" r="1.3" fill="#C2622C"/>
<circle cx="414.01" cy="530.13" r="1.3" fill="#C2622C"/>
<circle cx="416.88" cy="529.4" r="1.3" fill="#C2622C"/>
<circle cx="419.75" cy="529.45" r="1.3" fill="#C2622C"/>
<circle cx="422.63" cy="528.82" r="1.3" fill="#C2622C"/>
<circle cx="425.5" cy="528.59" r="1.3" fill="#C2622C"/>
<circle cx="428.37" cy="528.63" r="1.3" fill="#C2622C"/>
<circle cx="431.25" cy="528.32" r="1.3" fill="#C2622C"/>
<circle cx="434.12" cy="527.99" r="1.3" fill="#C2622C"/>
<circle cx="436.99" cy="527.6" r="1.3" fill="#C2622C"/>
<circle cx="439.87" cy="527.27" r="1.3" fill="#C2622C"/>
<circle cx="442.74" cy="526.94" r="1.3" fill="#C2622C"/>
<circle cx="445.61" cy="526.55" r="1.3" fill="#C2622C"/>
<circle cx="448.49" cy="526.01" r="1.3" fill="#C2622C"/>
<circle cx="451.36" cy="525.9" r="1.3" fill="#C2622C"/>
<circle cx="454.23" cy="525.59" r="1.3" fill="#C2622C"/>
<circle cx="457.1" cy="525.07" r="1.3" fill="#C2622C"/>
<circle cx="459.98" cy="524.99" r="1.3" fill="#C2622C"/>
<circle cx="462.85" cy="524.62" r="1.3" fill="#C2622C"/>
<circle cx="465.72" cy="523.92" r="1.3" fill="#C2622C"/>
<circle cx="468.6" cy="523.88" r="1.3" fill="#C2622C"/>
<circle cx="471.47" cy="523.57" r="1.3" fill="#C2622C"/>
<circle cx="474.34" cy="523.58" r="1.3" fill="#C2622C"/>
<circle cx="477.22" cy="523.05" r="1.3" fill="#C2622C"/>
<circle cx="480.09" cy="522.66" r="1.3" fill="#C2622C"/>
<circle cx="482.96" cy="522.69" r="1.3" fill="#C2622C"/>
<circle cx="485.83" cy="522.05" r="1.3" fill="#C2622C"/>
<circle cx="488.71" cy="521.74" r="1.3" fill="#C2622C"/>
<circle cx="491.58" cy="521.77" r="1.3" fill="#C2622C"/>
<polyline points="322.07,534.59 324.95,534.59 327.82,534.38 330.69,534.47 333.56,534.18 336.44,534.07 339.31,534.39 342.18,534.28 345.06,533.84 347.93,533.58 350.8,533.9 353.68,533.69 356.55,533.52 359.42,533.59 362.3,533.47 365.17,533.41 368.04,533.29 370.91,533.07 373.79,533.15 376.66,533.01 379.53,532.7 382.41,533.03 385.28,532.63 388.15,532.45 391.02,532.6 393.9,532.56 396.77,532.13 399.64,532.36 402.52,532.3 405.39,532 408.26,531.63 411.14,531.69 414.01,531.28 416.88,530.98 419.75,530.41 422.63,530.35 425.5,529.83 428.37,529.93 431.25,529.55 434.12,529.15 436.99,528.84 439.87,528.97 442.74,528.99 445.61,528.93 448.49,528.59 451.36,528.67 454.23,528.2 457.1,528.07 459.98,528.33 462.85,528.14 465.72,527.67 468.6,527.59 471.47,527.31 474.34,527.39 477.22,527.33 480.09,527.05 482.96,526.58 485.83,526.7 488.71,526.47 491.58,526.25" fill="none" stroke="#ABBE22" stroke-width="0.8"/>
<circle cx="322.07" cy="534.59" r="1.3" fill="#ABBE22"/>
<circle cx="324.95" cy="534.59" r="1.3" fill="#ABBE22"/>
<circle cx="327.82" cy="534.38" r="1.3" fill="#ABBE22"/>
<circle cx="330.69" cy="534.47" r="1.3" fill="#ABBE22"/>
<circle cx="333.56" cy="534.18" r="1.3" fill="#ABBE22"/>
<circle cx="336.44" cy="534.07" r="1.3" fill="#ABBE22"/>
<circle cx="339.31" cy="534.39" r="1.3" fill="#ABBE22"/>
<circle cx="342.18" cy="534.28" r="1.3" fill="#ABBE22"/>
<circle cx="345.06" cy="533.84" r="1.3" fill="#ABBE22"/>
<circle cx="347.93" cy="533.58" r="1.3" fill="#ABBE22"/>
<circle cx="350.8" cy="533.9" r="1.3" fill="#ABBE22"/>
<circle cx="353.68" cy="533.69" r="1.3" fill="#ABBE22"/>
<circle cx="356.55" cy="533.52" r="1.3" fill="#ABBE22"/>
<circle cx="359.42" cy="533.59" r="1.3" fill="#ABBE22"/>
<circle cx="362.3" cy="533.47" r="1.3" fill="#ABBE22"/>
<circle cx="365.17" cy="533.41" r="1.3" fill="#ABBE22"/>
<circle cx="368.04" cy="533.29" r="1.3" fill="#ABBE22"/>
<circle cx="370.91" cy="533.07" r="1.3" fill="#ABBE22"/>
<circle cx="373.79" cy="533.15" r="1.3" fill="#ABBE22"/>
<circle cx="376.66" cy="533.01" r="1.3" fill="#ABBE22"/>
<circle cx="379.53" cy="532.7" r="1.3" fill="#ABBE22"/>
<circle cx="382.41" cy="533.03" r="1.3" fill="#ABBE22"/>
<circle cx="385.28" cy="532.63" r="1.3" fill="#ABBE22"/>
<circle cx="388.15" cy="532.45" r="1.3" fill="#ABBE22"/>
<circle cx="391.02" cy="532.6" r="1.3" fill="#ABBE22"/>
<circle cx="393.9" cy="532.56" r="1.3" fill="#ABBE22"/>
<circle cx="396.77" cy="532.13" r="1.3" fill="#ABBE22"/>
<circle cx="399.64" cy="532.36" r="1.3" fill="#ABBE22"/>
<circle cx="402.52" cy="532.3" r="1.3" fill="#ABBE22"/>
<circle cx="405.39" cy="532" r="1.3" fill="#ABBE22"/>
<circle cx="408.26" cy="531.63" r="1.3" fill="#ABBE22"/>
<circle cx="411.14" cy="531.69" r="1.3" fill="#ABBE22"/>
<circle cx="414.01" cy="531.28" r="1.3" fill="#ABBE22"/>
<circle cx="416.88" cy="530.98" r="1.3" fill="#ABBE22"/>
<circle cx="419.75" cy="530.41" r="1.3" fill="#ABBE22"/>
<circle cx="422.63" cy="530.35" r="1.3" fill="#ABBE22"/>
<circle cx="425.5" cy="529.83" r="1.3" fill="#ABBE22"/>
<circle cx="428.37" cy="529.93" r="1.3" fill="#ABBE22"/>
<circle cx="431.25" cy="529.55" r="1.3" fill="#ABBE22"/>
<circle cx="434.12" cy="529.15" r="1.3" fill="#ABBE22"/>
<circle cx="436.99" cy="528.84" r="1.3" fill="#ABBE22"/>
<circle cx="439.87" cy="528.97" r="1.3" fill="#ABBE22"/>
<circle cx="442.74" cy="528.99" r="1.3" fill="#ABBE22"/>
<circle cx="445.61" cy="528.93" r="1.3" fill="#ABBE22"/>
<circle cx="448.49" cy="528.59" r="1.3" fill="#ABBE22"/>
<circle cx="451.36" cy="528.67" r="1.3" fill="#ABBE22"/>
<circle cx="454.23" cy="528.2" r="1.3" fill="#ABBE22"/>
<circle cx="457.1" cy="528.07" r="1.3" fill="#ABBE22"/>
<circle cx="459.98" cy="528.33" r="1.3" fill="#ABBE22"/>
<circle cx="462.85" cy="528.14" r="1.3" fill="#ABBE22"/>
<circle cx="465.72" cy="527.67" r="1.3" fill="#ABBE22"/>
<circle cx="468.6" cy="527.59" r="1.3" fill="#ABBE22"/>
<circle cx="471.47" cy="527.31" r="1.3" fill="#ABBE22"/>
<circle cx="474.34" cy="527.39" r="1.3" fill="#ABBE22"/>
<circle cx="477.22" cy="527.33" r="1.3" fill="#ABBE22"/>
<circle cx="480.09" cy="527.05" r="1.3" fill="#ABBE22"/>
<circle cx="482.96" cy="526.58" r="1.3" fill="#ABBE22"/>
<circle cx="485.83" cy="526.7" r="1.3" fill="#ABBE22"/>
<circle cx="488.71" cy="526.47" r="1.3" fill="#ABBE22"/>
<circle cx="491.58" cy="526.25" r="1.3" fill="#ABBE22"/>
<polyline points="322.07,534.7 324.95,534.75 327.82,534.5 330.69,534.98 333.56,535.11 336.44,534.62 339.31,534.69 342.18,534.68 345.06,535.03 347.93,534.78 350.8,534.84 353.68,535.28 356.55,535.02 359.42,535.01 362.3,535.15 365.17,535.28 368.04,535.45 370.91,535.47 373.79,535.57 376.66,535.7 379.53,535.42 382.41,535.61 385.28,535.33 388.15,535.79 391.02,535.31 393.9,535.45 396.77,535.34 399.64,535.37 402.52,535.38 405.39,535.59 408.26,535.93 411.14,535.52 414.01,535.87 416.88,535.81 419.75,535.62 422.63,535.72 425.5,535.8 428.37,535.52 431.25,535.72 434.12,535.88 436.99,535.93 439.87,535.56 442.74,535.76 445.61,535.57 448.49,535.8 451.36,535.87 454.23,535.66 457.1,535.48 459.98,535.83 462.85,535.46 465.72,535.37 468.6,535.42 471.47,535.39 474.34,535.84 477.22,535.47 480.09,535.32 482.96,535.77 485.83,535.62 488.71,535.61 491.58,535.44" fill="none" stroke="#E83228" stroke-width="0.8"/>
<circle cx="322.07" cy="534.7" r="1.3" fill="#E83228"/>
<circle cx="324.95" cy="534.75" r="1.3" fill="#E83228"/>
<circle cx="327.82" cy="534.5" r="1.3" fill="#E83228"/>
<circle cx="330.69" cy="534.98" r="1.3" fill="#E83228"/>
<circle cx="333.56" cy="535.11" r="1.3" fill="#E83228"/>
<circle cx="336.44" cy="534.62" r="1.3" fill="#E83228"/>
<circle cx="339.31" cy="534.69" r="1.3" fill="#E83228"/>
<circle cx="342.18" cy="534.68" r="1.3" fill="#E83228"/>
<circle cx="345.06" cy="535.03" r="1.3" fill="#E83228"/>
<circle cx="347.93" cy="534.78" r="1.3" fill="#E83228"/>
<circle cx="350.8" cy="534.84" r="1.3" fill="#E83228"/>
<circle cx="353.68" cy="535.28" r="1.3" fill="#E83228"/>
<circle cx="356.55" cy="535.02" r="1.3" fill="#E83228"/>
<circle cx="359.42" cy="535.01" r="1.3" fill="#E83228"/>
<circle cx="362.3" cy="535.15" r="1.3" fill="#E83228"/>
<circle cx="365.17" cy="535.28" r="1.3" fill="#E83228"/>
<circle cx="368.04" cy="535.45" r="1.3" fill="#E83228"/>
<circle cx="370.91" cy="535.47" r="1.3" fill="#E83228"/>
<circle cx="373.79" cy="535.57" r="1.3" fill="#E83228"/>
<circle cx="376.66" cy="535.7" r="1.3" fill="#E83228"/>
<circle cx="379.53" cy="535.42" r="1.3" fill="#E83228"/>
<circle cx="382.41" cy="535.61" r="1.3" fill="#E83228"/>
<circle cx="385.28" cy="535.33" r="1.3" fill="#E83228"/>
<circle cx="388.15" cy="535.79" r="1.3" fill="#E83228"/>
<circle cx="391.02" cy="535.31" r="1.3" fill="#E83228"/>
<circle cx="393.9" cy="535.45" r="1.3" fill="#E83228"/>
<circle cx="396.77" cy="535.34" r="1.3" fill="#E83228"/>
<circle cx="399.64" cy="535.37" r="1.3" fill="#E83228"/>
<circle cx="402.52" cy="535.38" r="1.3" fill="#E83228"/>
<circle cx="405.39" cy="535.59" r="1.3" fill="#E83228"/>
<circle cx="408.26" cy="535.93" r="1.3" fill="#E83228"/>
<circle cx="411.14" cy="535.52" r="1.3" fill="#E83228"/>
<circle cx="414.01" cy="535.87" r="1.3" fill="#E83228"/>
<circle cx="416.88" cy="535.81" r="1.3" fill="#E83228"/>
<circle cx="419.75" cy="535.62" r="1.3" fill="#E83228"/>
<circle cx="422.63" cy="535.72" r="1.3" fill="#E83228"/>
<circle cx="425.5" cy="535.8" r="1.3" fill="#E83228"/>
<circle cx="428.37" cy="535.52" r="1.3" fill="#E83228"/>
<circle cx="431.25" cy="535.72" r="1.3" fill="#E83228"/>
<circle cx="434.12" cy="535.88" r="1.3" fill="#E83228"/>
<circle cx="436.99" cy="535.93" r="1.3" fill="#E83228"/>
<circle cx="439.87" cy="535.56" r="1.3" fill="#E83228"/>
<circle cx="442.74" cy="535.76" r="1.3" fill="#E83228"/>
<circle cx="445.61" cy="535.57" r="1.3" fill="#E83228"/>
<circle cx="448.49" cy="535.8" r="1.3" fill="#E83228"/>
<circle cx="451.36" cy="535.87" r="1.3" fill="#E83228"/>
<circle cx="454.23" cy="535.66" r="1.3" fill="#E83228"/>
<circle cx="457.1" cy="535.48" r="1.3" fill="#E83228"/>
<circle cx="459.98" cy="535.83" r="1.3" fill="#E83228"/>
<circle cx="462.85" cy="535.46" r="1.3" fill="#E83228"/>
<circle cx="465.72" cy="535.37" r="1.3" fill="#E83228"/>
<circle cx="468.6" cy="535.42" r="1.3" fill="#E83228"/>
<circle cx="471.47" cy="535.39" r="1.3" fill="#E83228"/>
<circle cx="474.34" cy="535.84" r="1.3" fill="#E83228"/>
<circle cx="477.22" cy="535.47" r="1.3" fill="#E83228"/>
<circle cx="480.09" cy="535.32" r="1.3" fill="#E83228"/>
<circle cx="482.96" cy="535.77" r="1.3" fill="#E83228"/>
<circle cx="485.83" cy="535.62" r="1.3" fill="#E83228"/>
<circle cx="488.71" cy="535.61" r="1.3" fill="#E83228"/>
<circle cx="491.58" cy="535.44" r="1.3" fill="#E83228"/>
<path d="M322.07 532.65V534.47M320.77 532.65H323.37M320.77 534.47H323.37M324.95 532.65V534.48M323.65 532.65H326.25M323.65 534.48H326.25M327.82 532.5V534.33M326.52 532.5H329.12M326.52 534.33H329.12M330.69 532.98V534.81M329.39 532.98H331.99M329.39 534.81H331.99M333.56 532.98V534.8M332.26 532.98H334.87M332.26 534.8H334.87M336.44 532.97V534.79M335.14 532.97H337.74M335.14 534.79H337.74M339.31 533V534.83M338.01 533H340.61M338.01 534.83H340.61M342.18 533.06V534.89M340.88 533.06H343.48M340.88 534.89H343.48M345.06 532.57V534.4M343.76 532.57H346.36M343.76 534.4H346.36M347.93 532.67V534.5M346.63 532.67H349.23M346.63 534.5H349.23M350.8 533.14V534.97M349.5 533.14H352.1M349.5 534.97H352.1M353.68 532.93V534.76M352.38 532.93H354.98M352.38 534.76H354.98M356.55 533.07V534.9M355.25 533.07H357.85M355.25 534.9H357.85M359.42 533.1V534.93M358.12 533.1H360.72M358.12 534.93H360.72M362.3 533.11V534.94M361 533.11H363.6M361 534.94H363.6M365.17 532.97V534.8M363.87 532.97H366.47M363.87 534.8H366.47M368.04 533.03V534.86M366.74 533.03H369.34M366.74 534.86H369.34M370.91 533.19V535.02M369.61 533.19H372.21M369.61 535.02H372.21M373.79 533.32V535.15M372.49 533.32H375.09M372.49 535.15H375.09M376.66 533.26V535.09M375.36 533.26H377.96M375.36 535.09H377.96M379.53 533.39V535.22M378.23 533.39H380.83M378.23 535.22H380.83M382.41 533.14V534.97M381.11 533.14H383.71M381.11 534.97H383.71M385.28 533.05V534.88M383.98 533.05H386.58M383.98 534.88H386.58M388.15 533.24V535.07M386.85 533.24H389.45M386.85 535.07H389.45M391.02 533.41V535.24M389.72 533.41H392.32M389.72 535.24H392.32M393.9 533.36V535.19M392.6 533.36H395.2M392.6 535.19H395.2M396.77 533.25V535.07M395.47 533.25H398.07M395.47 535.07H398.07M399.64 533.11V534.94M398.34 533.11H400.94M398.34 534.94H400.94M402.52 533.01V534.84M401.22 533.01H403.82M401.22 534.84H403.82M405.39 533.24V535.07M404.09 533.24H406.69M404.09 535.07H406.69M408.26 533V534.83M406.96 533H409.56M406.96 534.83H409.56M411.14 533.1V534.93M409.84 533.1H412.44M409.84 534.93H412.44M414.01 533.21V535.04M412.71 533.21H415.31M412.71 535.04H415.31M416.88 533.25V535.07M415.58 533.25H418.18M415.58 535.07H418.18M419.75 533.18V535M418.45 533.18H421.06M418.45 535H421.06M422.63 533.06V534.89M421.33 533.06H423.93M421.33 534.89H423.93M425.5 533.22V535.05M424.2 533.22H426.8M424.2 535.05H426.8M428.37 533.06V534.89M427.07 533.06H429.67M427.07 534.89H429.67M431.25 533.2V535.02M429.95 533.2H432.55M429.95 535.02H432.55M434.12 533.31V535.14M432.82 533.31H435.42M432.82 535.14H435.42M436.99 533.14V534.96M435.69 533.14H438.29M435.69 534.96H438.29M439.87 533.03V534.86M438.57 533.03H441.17M438.57 534.86H441.17M442.74 533.37V535.19M441.44 533.37H444.04M441.44 535.19H444.04M445.61 533.15V534.98M444.31 533.15H446.91M444.31 534.98H446.91M448.49 533.13V534.96M447.19 533.13H449.79M447.19 534.96H449.79M451.36 532.85V534.68M450.06 532.85H452.66M450.06 534.68H452.66M454.23 532.8V534.63M452.93 532.8H455.53M452.93 534.63H455.53M457.1 533.11V534.94M455.8 533.11H458.4M455.8 534.94H458.4M459.98 532.79V534.62M458.68 532.79H461.28M458.68 534.62H461.28M462.85 532.84V534.66M461.55 532.84H464.15M461.55 534.66H464.15M465.72 533.12V534.95M464.42 533.12H467.02M464.42 534.95H467.02M468.6 532.99V534.82M467.3 532.99H469.9M467.3 534.82H469.9M471.47 533.17V534.99M470.17 533.17H472.77M470.17 534.99H472.77M474.34 532.75V534.58M473.04 532.75H475.64M473.04 534.58H475.64M477.22 532.82V534.65M475.92 532.82H478.52M475.92 534.65H478.52M480.09 532.68V534.51M478.79 532.68H481.39M478.79 534.51H481.39M482.96 532.72V534.54M481.66 532.72H484.26M481.66 534.54H484.26M485.83 532.77V534.6M484.53 532.77H487.13M484.53 534.6H487.13M488.71 532.71V534.54M487.41 532.71H490.01M487.41 534.54H490.01M491.58 532.79V534.62M490.28 532.79H492.88M490.28 534.62H492.88" stroke="#7C8FD0" stroke-width="0.65" fill="none"/>
<polyline points="322.07,533.56 324.95,533.56 327.82,533.42 330.69,533.89 333.56,533.89 336.44,533.88 339.31,533.91 342.18,533.97 345.06,533.49 347.93,533.58 350.8,534.05 353.68,533.85 356.55,533.98 359.42,534.01 362.3,534.02 365.17,533.88 368.04,533.95 370.91,534.11 373.79,534.23 376.66,534.18 379.53,534.3 382.41,534.06 385.28,533.96 388.15,534.16 391.02,534.33 393.9,534.27 396.77,534.16 399.64,534.03 402.52,533.93 405.39,534.16 408.26,533.92 411.14,534.02 414.01,534.13 416.88,534.16 419.75,534.09 422.63,533.97 425.5,534.13 428.37,533.98 431.25,534.11 434.12,534.23 436.99,534.05 439.87,533.94 442.74,534.28 445.61,534.06 448.49,534.04 451.36,533.77 454.23,533.72 457.1,534.02 459.98,533.71 462.85,533.75 465.72,534.03 468.6,533.9 471.47,534.08 474.34,533.67 477.22,533.74 480.09,533.59 482.96,533.63 485.83,533.68 488.71,533.63 491.58,533.71" fill="none" stroke="#3450B0" stroke-width="0.8"/>
<circle cx="322.07" cy="533.56" r="1.3" fill="#3450B0"/>
<circle cx="324.95" cy="533.56" r="1.3" fill="#3450B0"/>
<circle cx="327.82" cy="533.42" r="1.3" fill="#3450B0"/>
<circle cx="330.69" cy="533.89" r="1.3" fill="#3450B0"/>
<circle cx="333.56" cy="533.89" r="1.3" fill="#3450B0"/>
<circle cx="336.44" cy="533.88" r="1.3" fill="#3450B0"/>
<circle cx="339.31" cy="533.91" r="1.3" fill="#3450B0"/>
<circle cx="342.18" cy="533.97" r="1.3" fill="#3450B0"/>
<circle cx="345.06" cy="533.49" r="1.3" fill="#3450B0"/>
<circle cx="347.93" cy="533.58" r="1.3" fill="#3450B0"/>
<circle cx="350.8" cy="534.05" r="1.3" fill="#3450B0"/>
<circle cx="353.68" cy="533.85" r="1.3" fill="#3450B0"/>
<circle cx="356.55" cy="533.98" r="1.3" fill="#3450B0"/>
<circle cx="359.42" cy="534.01" r="1.3" fill="#3450B0"/>
<circle cx="362.3" cy="534.02" r="1.3" fill="#3450B0"/>
<circle cx="365.17" cy="533.88" r="1.3" fill="#3450B0"/>
<circle cx="368.04" cy="533.95" r="1.3" fill="#3450B0"/>
<circle cx="370.91" cy="534.11" r="1.3" fill="#3450B0"/>
<circle cx="373.79" cy="534.23" r="1.3" fill="#3450B0"/>
<circle cx="376.66" cy="534.18" r="1.3" fill="#3450B0"/>
<circle cx="379.53" cy="534.3" r="1.3" fill="#3450B0"/>
<circle cx="382.41" cy="534.06" r="1.3" fill="#3450B0"/>
<circle cx="385.28" cy="533.96" r="1.3" fill="#3450B0"/>
<circle cx="388.15" cy="534.16" r="1.3" fill="#3450B0"/>
<circle cx="391.02" cy="534.33" r="1.3" fill="#3450B0"/>
<circle cx="393.9" cy="534.27" r="1.3" fill="#3450B0"/>
<circle cx="396.77" cy="534.16" r="1.3" fill="#3450B0"/>
<circle cx="399.64" cy="534.03" r="1.3" fill="#3450B0"/>
<circle cx="402.52" cy="533.93" r="1.3" fill="#3450B0"/>
<circle cx="405.39" cy="534.16" r="1.3" fill="#3450B0"/>
<circle cx="408.26" cy="533.92" r="1.3" fill="#3450B0"/>
<circle cx="411.14" cy="534.02" r="1.3" fill="#3450B0"/>
<circle cx="414.01" cy="534.13" r="1.3" fill="#3450B0"/>
<circle cx="416.88" cy="534.16" r="1.3" fill="#3450B0"/>
<circle cx="419.75" cy="534.09" r="1.3" fill="#3450B0"/>
<circle cx="422.63" cy="533.97" r="1.3" fill="#3450B0"/>
<circle cx="425.5" cy="534.13" r="1.3" fill="#3450B0"/>
<circle cx="428.37" cy="533.98" r="1.3" fill="#3450B0"/>
<circle cx="431.25" cy="534.11" r="1.3" fill="#3450B0"/>
<circle cx="434.12" cy="534.23" r="1.3" fill="#3450B0"/>
<circle cx="436.99" cy="534.05" r="1.3" fill="#3450B0"/>
<circle cx="439.87" cy="533.94" r="1.3" fill="#3450B0"/>
<circle cx="442.74" cy="534.28" r="1.3" fill="#3450B0"/>
<circle cx="445.61" cy="534.06" r="1.3" fill="#3450B0"/>
<circle cx="448.49" cy="534.04" r="1.3" fill="#3450B0"/>
<circle cx="451.36" cy="533.77" r="1.3" fill="#3450B0"/>
<circle cx="454.23" cy="533.72" r="1.3" fill="#3450B0"/>
<circle cx="457.1" cy="534.02" r="1.3" fill="#3450B0"/>
<circle cx="459.98" cy="533.71" r="1.3" fill="#3450B0"/>
<circle cx="462.85" cy="533.75" r="1.3" fill="#3450B0"/>
<circle cx="465.72" cy="534.03" r="1.3" fill="#3450B0"/>
<circle cx="468.6" cy="533.9" r="1.3" fill="#3450B0"/>
<circle cx="471.47" cy="534.08" r="1.3" fill="#3450B0"/>
<circle cx="474.34" cy="533.67" r="1.3" fill="#3450B0"/>
<circle cx="477.22" cy="533.74" r="1.3" fill="#3450B0"/>
<circle cx="480.09" cy="533.59" r="1.3" fill="#3450B0"/>
<circle cx="482.96" cy="533.63" r="1.3" fill="#3450B0"/>
<circle cx="485.83" cy="533.68" r="1.3" fill="#3450B0"/>
<circle cx="488.71" cy="533.63" r="1.3" fill="#3450B0"/>
<circle cx="491.58" cy="533.71" r="1.3" fill="#3450B0"/>
<line x1="319.2" y1="424.95" x2="319.2" y2="540.4" stroke="#333" stroke-width="1.25"/>
<line x1="318.6" y1="539.8" x2="492.18" y2="539.8" stroke="#333" stroke-width="1.25"/>
<line x1="314.6" y1="539.8" x2="319.2" y2="539.8" stroke="#333" stroke-width="1.2"/>
<text transform="translate(313 543.05) scale(0.8 1)" x="0" y="0" font-size="9.2" font-weight="bold" text-anchor="end" stroke="#000" stroke-width="0.3">0</text>
<line x1="314.6" y1="516.95" x2="319.2" y2="516.95" stroke="#333" stroke-width="1.2"/>
<text transform="translate(313 520.2) scale(0.8 1)" x="0" y="0" font-size="9.2" font-weight="bold" text-anchor="end" textLength="11.25" lengthAdjust="spacing" stroke="#000" stroke-width="0.3">20</text>
<line x1="314.6" y1="494.1" x2="319.2" y2="494.1" stroke="#333" stroke-width="1.2"/>
<text transform="translate(313 497.35) scale(0.8 1)" x="0" y="0" font-size="9.2" font-weight="bold" text-anchor="end" textLength="11.25" lengthAdjust="spacing" stroke="#000" stroke-width="0.3">40</text>
<line x1="314.6" y1="471.25" x2="319.2" y2="471.25" stroke="#333" stroke-width="1.2"/>
<text transform="translate(313 474.5) scale(0.8 1)" x="0" y="0" font-size="9.2" font-weight="bold" text-anchor="end" textLength="11.25" lengthAdjust="spacing" stroke="#000" stroke-width="0.3">60</text>
<line x1="314.6" y1="448.4" x2="319.2" y2="448.4" stroke="#333" stroke-width="1.2"/>
<text transform="translate(313 451.65) scale(0.8 1)" x="0" y="0" font-size="9.2" font-weight="bold" text-anchor="end" textLength="11.25" lengthAdjust="spacing" stroke="#000" stroke-width="0.3">80</text>
<line x1="314.6" y1="425.55" x2="319.2" y2="425.55" stroke="#333" stroke-width="1.2"/>
<text transform="translate(313 428.8) scale(0.8 1)" x="0" y="0" font-size="9.2" font-weight="bold" text-anchor="end" textLength="16.5" lengthAdjust="spacing" stroke="#000" stroke-width="0.3">100</text>
<line x1="319.2" y1="539.8" x2="319.2" y2="544.8" stroke="#333" stroke-width="1.2"/>
<text transform="translate(319.4 554.1) scale(0.8 1)" x="0" y="0" font-size="9" font-weight="bold" text-anchor="middle" stroke="#000" stroke-width="0.3">0</text>
<line x1="347.93" y1="539.8" x2="347.93" y2="544.8" stroke="#333" stroke-width="1.2"/>
<text transform="translate(348.13 554.1) scale(0.8 1)" x="0" y="0" font-size="9" font-weight="bold" text-anchor="middle" textLength="10.75" lengthAdjust="spacing" stroke="#000" stroke-width="0.3">10</text>
<line x1="376.66" y1="539.8" x2="376.66" y2="544.8" stroke="#333" stroke-width="1.2"/>
<text transform="translate(376.86 554.1) scale(0.8 1)" x="0" y="0" font-size="9" font-weight="bold" text-anchor="middle" textLength="10.75" lengthAdjust="spacing" stroke="#000" stroke-width="0.3">20</text>
<line x1="405.39" y1="539.8" x2="405.39" y2="544.8" stroke="#333" stroke-width="1.2"/>
<text transform="translate(405.59 554.1) scale(0.8 1)" x="0" y="0" font-size="9" font-weight="bold" text-anchor="middle" textLength="10.75" lengthAdjust="spacing" stroke="#000" stroke-width="0.3">30</text>
<line x1="434.12" y1="539.8" x2="434.12" y2="544.8" stroke="#333" stroke-width="1.2"/>
<text transform="translate(434.32 554.1) scale(0.8 1)" x="0" y="0" font-size="9" font-weight="bold" text-anchor="middle" textLength="10.75" lengthAdjust="spacing" stroke="#000" stroke-width="0.3">40</text>
<line x1="462.85" y1="539.8" x2="462.85" y2="544.8" stroke="#333" stroke-width="1.2"/>
<text transform="translate(463.05 554.1) scale(0.8 1)" x="0" y="0" font-size="9" font-weight="bold" text-anchor="middle" textLength="10.75" lengthAdjust="spacing" stroke="#000" stroke-width="0.3">50</text>
<line x1="491.58" y1="539.8" x2="491.58" y2="544.8" stroke="#333" stroke-width="1.2"/>
<text transform="translate(491.78 554.1) scale(0.8 1)" x="0" y="0" font-size="9" font-weight="bold" text-anchor="middle" textLength="10.75" lengthAdjust="spacing" stroke="#000" stroke-width="0.3">60</text>
<text transform="translate(405.79 568.8) scale(0.75 1)" x="0" y="0" font-size="10.8" font-weight="bold" text-anchor="middle" textLength="99.87" lengthAdjust="spacing" stroke="#000" stroke-width="0.3">Treatment (hour)</text>
<text transform="translate(390.7 409.7) scale(0.7 1)" x="0" y="0" font-size="12.3" font-weight="bold" textLength="38.57" lengthAdjust="spacing" stroke="#000" stroke-width="0.3">NOS1</text>
<text transform="translate(282.2 481.6) rotate(-90) scale(0.84 1)" x="0" y="0" font-size="9.8" font-weight="bold" text-anchor="middle" textLength="140.95" lengthAdjust="spacing" stroke="#000" stroke-width="0.18">% of Caspase3/7 depedent</text>
<text transform="translate(293.2 481.2) rotate(-90) scale(0.84 1)" x="0" y="0" font-size="9.8" font-weight="bold" text-anchor="middle" textLength="105.48" lengthAdjust="spacing" stroke="#000" stroke-width="0.18">apoptotic cell death</text>
<polyline points="495,474.2 498.6,474.2 498.6,522.4 495,522.4" fill="none" stroke="#444" stroke-width="1.2"/>
<polyline points="507,474.2 510,474.2 510,536.2 507,536.2" fill="none" stroke="#444" stroke-width="1.2"/>
<path d="M506.85 494.3L502.15 494.3M505.68 492.26L503.32 496.34M505.68 496.34L503.32 492.26" stroke="#000" stroke-width="1" fill="none"/>
<path d="M506.85 503.3L502.15 503.3M505.68 501.26L503.32 505.34M505.68 505.34L503.32 501.26" stroke="#000" stroke-width="1" fill="none"/>
<path d="M518.35 500.9L513.65 500.9M517.17 498.86L514.83 502.94M517.17 502.94L514.83 498.86" stroke="#000" stroke-width="1" fill="none"/>
<path d="M518.35 509.9L513.65 509.9M517.17 507.86L514.83 511.94M517.17 511.94L514.83 507.86" stroke="#000" stroke-width="1" fill="none"/>
<line x1="526.4" y1="464.4" x2="538.4" y2="464.4" stroke="#7C8FD0" stroke-width="0.8"/>
<circle cx="532.4" cy="464.4" r="1.6" fill="#3450B0"/>
<text transform="translate(545.2 467.9) scale(0.78 1)" x="0" y="0" font-size="10.4" fill="#3a3a3a" stroke="#3a3a3a" stroke-width="0.12" letter-spacing="1.08">NCT-Inactive</text>
<line x1="526.4" y1="479.6" x2="538.4" y2="479.6" stroke="#F08A84" stroke-width="0.8"/>
<circle cx="532.4" cy="479.6" r="1.6" fill="#E83228"/>
<text transform="translate(545.2 483.1) scale(0.78 1)" x="0" y="0" font-size="10.4" fill="#3a3a3a" stroke="#3a3a3a" stroke-width="0.12" letter-spacing="1.08">NCT-503</text>
<line x1="526.4" y1="495.3" x2="538.4" y2="495.3" stroke="#CBD87A" stroke-width="0.8"/>
<circle cx="532.4" cy="495.3" r="1.6" fill="#ABBE22"/>
<text transform="translate(545.2 498.8) scale(0.78 1)" x="0" y="0" font-size="10.4" fill="#3a3a3a" stroke="#3a3a3a" stroke-width="0.12" letter-spacing="1.08">ALPI3MT55</text>
<line x1="526.4" y1="510.6" x2="538.4" y2="510.6" stroke="#ABABAB" stroke-width="0.8"/>
<circle cx="532.4" cy="510.6" r="1.6" fill="#727272"/>
<text transform="translate(545.2 514.1) scale(0.78 1)" x="0" y="0" font-size="10.4" fill="#3a3a3a" stroke="#3a3a3a" stroke-width="0.12" letter-spacing="1.08">NCT-503 + ALPI3MT55</text>
<line x1="524.3" y1="526.4" x2="536.9" y2="526.4" stroke="#DA9A6E" stroke-width="0.8"/>
<circle cx="530.6" cy="526.4" r="1.6" fill="#C2622C"/>
<text transform="translate(542.9 529.9) scale(0.78 1)" x="0" y="0" font-size="10.4" fill="#3a3a3a" stroke="#3a3a3a" stroke-width="0.12" letter-spacing="1.08">NCT-503 + ALPI3MT55 + ZVAD</text>
<path d="M323.3 709.19V710.8M322 709.19H324.6M322 710.8H324.6M326.17 709.45V711.09M324.87 709.45H327.47M324.87 711.09H327.47M329.03 709.62V711.31M327.73 709.62H330.33M327.73 711.31H330.33M331.9 709.55V711.27M330.6 709.55H333.2M330.6 711.27H333.2M334.77 709.37V711.14M333.47 709.37H336.07M333.47 711.14H336.07M337.64 709.56V711.37M336.34 709.56H338.94M336.34 711.37H338.94M340.5 709.7V711.55M339.2 709.7H341.8M339.2 711.55H341.8M343.37 710.14V712.02M342.07 710.14H344.67M342.07 712.02H344.67M346.24 710.08V712M344.94 710.08H347.54M344.94 712H347.54M349.1 710.35V712.31M347.8 710.35H350.4M347.8 712.31H350.4M351.97 710.53V712.53M350.67 710.53H353.27M350.67 712.53H353.27M354.84 710.69V712.73M353.54 710.69H356.14M353.54 712.73H356.14M357.7 710.75V712.83M356.4 710.75H359M356.4 712.83H359M360.57 710.46V712.58M359.27 710.46H361.87M359.27 712.58H361.87M363.44 710.64V712.79M362.14 710.64H364.74M362.14 712.79H364.74M366.31 710.77V712.97M365.01 710.77H367.61M365.01 712.97H367.61M369.17 710.9V713.13M367.87 710.9H370.47M367.87 713.13H370.47M372.04 711.33V713.61M370.74 711.33H373.34M370.74 713.61H373.34M374.91 711.32V713.63M373.61 711.32H376.21M373.61 713.63H376.21M377.77 711.15V713.51M376.47 711.15H379.07M376.47 713.51H379.07M380.64 711.11V713.51M379.34 711.11H381.94M379.34 713.51H381.94M383.51 711.06V713.49M382.21 711.06H384.81M382.21 713.49H384.81M386.38 711.06V713.54M385.07 711.06H387.68M385.07 713.54H387.68M389.24 711.54V714.05M387.94 711.54H390.54M387.94 714.05H390.54M392.11 711.26V713.81M390.81 711.26H393.41M390.81 713.81H393.41M394.98 711.24V713.83M393.68 711.24H396.28M393.68 713.83H396.28M397.84 711.35V713.98M396.54 711.35H399.14M396.54 713.98H399.14M400.71 711.45V714.12M399.41 711.45H402.01M399.41 714.12H402.01M403.58 711.07V713.78M402.28 711.07H404.88M402.28 713.78H404.88M406.44 710.98V713.73M405.14 710.98H407.74M405.14 713.73H407.74M409.31 710.18V712.96M408.01 710.18H410.61M408.01 712.96H410.61M412.18 709.9V712.73M410.88 709.9H413.48M410.88 712.73H413.48M415.04 709.75V712.62M413.74 709.75H416.34M413.74 712.62H416.34M417.91 709.5V712.4M416.61 709.5H419.21M416.61 712.4H419.21M420.78 708.68V711.62M419.48 708.68H422.08M419.48 711.62H422.08M423.65 708.35V711.34M422.35 708.35H424.95M422.35 711.34H424.95M426.51 707.66V710.68M425.21 707.66H427.81M425.21 710.68H427.81M429.38 707.09V710.15M428.08 707.09H430.68M428.08 710.15H430.68M432.25 706.6V709.78M430.95 706.6H433.55M430.95 709.78H433.55M435.11 705.91V709.2M433.81 705.91H436.41M433.81 709.2H436.41M437.98 705.05V708.46M436.68 705.05H439.28M436.68 708.46H439.28M440.85 704.39V707.91M439.55 704.39H442.15M439.55 707.91H442.15M443.71 703.75V707.38M442.41 703.75H445.01M442.41 707.38H445.01M446.58 702.84V706.59M445.28 702.84H447.88M445.28 706.59H447.88M449.45 701.7V705.56M448.15 701.7H450.75M448.15 705.56H450.75M452.32 701.29V705.27M451.02 701.29H453.62M451.02 705.27H453.62M455.18 700.43V704.53M453.88 700.43H456.48M453.88 704.53H456.48M458.05 699.35V703.56M456.75 699.35H459.35M456.75 703.56H459.35M460.92 698.9V703.22M459.62 698.9H462.22M459.62 703.22H462.22M463.78 698.21V702.65M462.48 698.21H465.08M462.48 702.65H465.08M466.65 697.7V702.25M465.35 697.7H467.95M465.35 702.25H467.95M469.52 697.25V701.91M468.22 697.25H470.82M468.22 701.91H470.82M472.38 696.37V701.15M471.08 696.37H473.69M471.08 701.15H473.69M475.25 696.36V701.26M473.95 696.36H476.55M473.95 701.26H476.55M478.12 695.78V700.79M476.82 695.78H479.42M476.82 700.79H479.42M480.99 695.44V700.57M479.69 695.44H482.29M479.69 700.57H482.29M483.85 694.73V699.97M482.55 694.73H485.15M482.55 699.97H485.15M486.72 694.48V699.83M485.42 694.48H488.02M485.42 699.83H488.02" stroke="#DA9A6E" stroke-width="0.65" fill="none"/>
<polyline points="317.57,709.8 320.43,710.02 323.3,709.99 326.17,710.27 329.03,710.46 331.9,710.41 334.77,710.26 337.64,710.46 340.5,710.63 343.37,711.08 346.24,711.04 349.1,711.33 351.97,711.53 354.84,711.71 357.7,711.79 360.57,711.52 363.44,711.72 366.31,711.87 369.17,712.01 372.04,712.47 374.91,712.47 377.77,712.33 380.64,712.31 383.51,712.28 386.38,712.3 389.24,712.79 392.11,712.53 394.98,712.53 397.84,712.67 400.71,712.78 403.58,712.43 406.44,712.35 409.31,711.57 412.18,711.31 415.04,711.19 417.91,710.95 420.78,710.15 423.65,709.85 426.51,709.17 429.38,708.62 432.25,708.19 435.11,707.55 437.98,706.75 440.85,706.15 443.71,705.57 446.58,704.71 449.45,703.63 452.32,703.28 455.18,702.48 458.05,701.46 460.92,701.06 463.78,700.43 466.65,699.98 469.52,699.58 472.38,698.76 475.25,698.81 478.12,698.29 480.99,698 483.85,697.35 486.72,697.16" fill="none" stroke="#C2622C" stroke-width="0.8"/>
<circle cx="317.57" cy="709.8" r="1.3" fill="#C2622C"/>
<circle cx="320.43" cy="710.02" r="1.3" fill="#C2622C"/>
<circle cx="323.3" cy="709.99" r="1.3" fill="#C2622C"/>
<circle cx="326.17" cy="710.27" r="1.3" fill="#C2622C"/>
<circle cx="329.03" cy="710.46" r="1.3" fill="#C2622C"/>
<circle cx="331.9" cy="710.41" r="1.3" fill="#C2622C"/>
<circle cx="334.77" cy="710.26" r="1.3" fill="#C2622C"/>
<circle cx="337.64" cy="710.46" r="1.3" fill="#C2622C"/>
<circle cx="340.5" cy="710.63" r="1.3" fill="#C2622C"/>
<circle cx="343.37" cy="711.08" r="1.3" fill="#C2622C"/>
<circle cx="346.24" cy="711.04" r="1.3" fill="#C2622C"/>
<circle cx="349.1" cy="711.33" r="1.3" fill="#C2622C"/>
<circle cx="351.97" cy="711.53" r="1.3" fill="#C2622C"/>
<circle cx="354.84" cy="711.71" r="1.3" fill="#C2622C"/>
<circle cx="357.7" cy="711.79" r="1.3" fill="#C2622C"/>
<circle cx="360.57" cy="711.52" r="1.3" fill="#C2622C"/>
<circle cx="363.44" cy="711.72" r="1.3" fill="#C2622C"/>
<circle cx="366.31" cy="711.87" r="1.3" fill="#C2622C"/>
<circle cx="369.17" cy="712.01" r="1.3" fill="#C2622C"/>
<circle cx="372.04" cy="712.47" r="1.3" fill="#C2622C"/>
<circle cx="374.91" cy="712.47" r="1.3" fill="#C2622C"/>
<circle cx="377.77" cy="712.33" r="1.3" fill="#C2622C"/>
<circle cx="380.64" cy="712.31" r="1.3" fill="#C2622C"/>
<circle cx="383.51" cy="712.28" r="1.3" fill="#C2622C"/>
<circle cx="386.38" cy="712.3" r="1.3" fill="#C2622C"/>
<circle cx="389.24" cy="712.79" r="1.3" fill="#C2622C"/>
<circle cx="392.11" cy="712.53" r="1.3" fill="#C2622C"/>
<circle cx="394.98" cy="712.53" r="1.3" fill="#C2622C"/>
<circle cx="397.84" cy="712.67" r="1.3" fill="#C2622C"/>
<circle cx="400.71" cy="712.78" r="1.3" fill="#C2622C"/>
<circle cx="403.58" cy="712.43" r="1.3" fill="#C2622C"/>
<circle cx="406.44" cy="712.35" r="1.3" fill="#C2622C"/>
<circle cx="409.31" cy="711.57" r="1.3" fill="#C2622C"/>
<circle cx="412.18" cy="711.31" r="1.3" fill="#C2622C"/>
<circle cx="415.04" cy="711.19" r="1.3" fill="#C2622C"/>
<circle cx="417.91" cy="710.95" r="1.3" fill="#C2622C"/>
<circle cx="420.78" cy="710.15" r="1.3" fill="#C2622C"/>
<circle cx="423.65" cy="709.85" r="1.3" fill="#C2622C"/>
<circle cx="426.51" cy="709.17" r="1.3" fill="#C2622C"/>
<circle cx="429.38" cy="708.62" r="1.3" fill="#C2622C"/>
<circle cx="432.25" cy="708.19" r="1.3" fill="#C2622C"/>
<circle cx="435.11" cy="707.55" r="1.3" fill="#C2622C"/>
<circle cx="437.98" cy="706.75" r="1.3" fill="#C2622C"/>
<circle cx="440.85" cy="706.15" r="1.3" fill="#C2622C"/>
<circle cx="443.71" cy="705.57" r="1.3" fill="#C2622C"/>
<circle cx="446.58" cy="704.71" r="1.3" fill="#C2622C"/>
<circle cx="449.45" cy="703.63" r="1.3" fill="#C2622C"/>
<circle cx="452.32" cy="703.28" r="1.3" fill="#C2622C"/>
<circle cx="455.18" cy="702.48" r="1.3" fill="#C2622C"/>
<circle cx="458.05" cy="701.46" r="1.3" fill="#C2622C"/>
<circle cx="460.92" cy="701.06" r="1.3" fill="#C2622C"/>
<circle cx="463.78" cy="700.43" r="1.3" fill="#C2622C"/>
<circle cx="466.65" cy="699.98" r="1.3" fill="#C2622C"/>
<circle cx="469.52" cy="699.58" r="1.3" fill="#C2622C"/>
<circle cx="472.38" cy="698.76" r="1.3" fill="#C2622C"/>
<circle cx="475.25" cy="698.81" r="1.3" fill="#C2622C"/>
<circle cx="478.12" cy="698.29" r="1.3" fill="#C2622C"/>
<circle cx="480.99" cy="698" r="1.3" fill="#C2622C"/>
<circle cx="483.85" cy="697.35" r="1.3" fill="#C2622C"/>
<circle cx="486.72" cy="697.16" r="1.3" fill="#C2622C"/>
<path d="M317.57 705.72V707.63M316.27 705.72H318.87M316.27 707.63H318.87M320.43 705.93V707.88M319.13 705.93H321.73M319.13 707.88H321.73M323.3 706.62V708.61M322 706.62H324.6M322 708.61H324.6M326.17 706.92V708.95M324.87 706.92H327.47M324.87 708.95H327.47M329.03 707.16V709.23M327.73 707.16H330.33M327.73 709.23H330.33M331.9 707.88V709.99M330.6 707.88H333.2M330.6 709.99H333.2M334.77 707.99V710.13M333.47 707.99H336.07M333.47 710.13H336.07M337.64 707.79V709.98M336.34 707.79H338.94M336.34 709.98H338.94M340.5 707.39V709.62M339.2 707.39H341.8M339.2 709.62H341.8M343.37 707.38V709.65M342.07 707.38H344.67M342.07 709.65H344.67M346.24 707.5V709.81M344.94 707.5H347.54M344.94 709.81H347.54M349.1 707.35V709.7M347.8 707.35H350.4M347.8 709.7H350.4M351.97 707.33V709.72M350.67 707.33H353.27M350.67 709.72H353.27M354.84 707.03V709.46M353.54 707.03H356.14M353.54 709.46H356.14M357.7 707.11V709.57M356.4 707.11H359M356.4 709.57H359M360.57 706.56V709.06M359.27 706.56H361.87M359.27 709.06H361.87M363.44 706.08V708.63M362.14 706.08H364.74M362.14 708.63H364.74M366.31 705.45V708.04M365.01 705.45H367.61M365.01 708.04H367.61M369.17 704.75V707.38M367.87 704.75H370.47M367.87 707.38H370.47M372.04 703.75V706.41M370.74 703.75H373.34M370.74 706.41H373.34M374.91 703.59V706.29M373.61 703.59H376.21M373.61 706.29H376.21M377.77 702.92V705.66M376.47 702.92H379.07M376.47 705.66H379.07M380.64 702.19V704.97M379.34 702.19H381.94M379.34 704.97H381.94M383.51 701.58V704.41M382.21 701.58H384.81M382.21 704.41H384.81M386.38 700.7V703.56M385.07 700.7H387.68M385.07 703.56H387.68M389.24 698.91V701.82M387.94 698.91H390.54M387.94 701.82H390.54M392.11 697.53V700.47M390.81 697.53H393.41M390.81 700.47H393.41M394.98 695.75V698.73M393.68 695.75H396.28M393.68 698.73H396.28M397.84 694.3V697.32M396.54 694.3H399.14M396.54 697.32H399.14M400.71 692.39V695.45M399.41 692.39H402.01M399.41 695.45H402.01M403.58 689.99V693.23M402.28 689.99H404.88M402.28 693.23H404.88M406.44 687.69V691.1M405.14 687.69H407.74M405.14 691.1H407.74M409.31 685.16V688.75M408.01 685.16H410.61M408.01 688.75H410.61M412.18 682.66V686.44M410.88 682.66H413.48M410.88 686.44H413.48M415.04 681.09V685.05M413.74 681.09H416.34M413.74 685.05H416.34M417.91 679.48V683.61M416.61 679.48H419.21M416.61 683.61H419.21M420.78 677.6V681.91M419.48 677.6H422.08M419.48 681.91H422.08M423.65 675.58V680.07M422.35 675.58H424.95M422.35 680.07H424.95M426.51 673.18V677.85M425.21 673.18H427.81M425.21 677.85H427.81M429.38 671.24V676.08M428.08 671.24H430.68M428.08 676.08H430.68M432.25 668.97V674M430.95 668.97H433.55M430.95 674H433.55M435.11 666.66V671.87M433.81 666.66H436.41M433.81 671.87H436.41M437.98 663.99V669.37M436.68 663.99H439.28M436.68 669.37H439.28M440.85 662.45V668.01M439.55 662.45H442.15M439.55 668.01H442.15M443.71 661.02V666.76M442.41 661.02H445.01M442.41 666.76H445.01M446.58 659.57V665.57M445.28 659.57H447.88M445.28 665.57H447.88M449.45 657.93V664.18M448.15 657.93H450.75M448.15 664.18H450.75M452.32 656.11V662.61M451.02 656.11H453.62M451.02 662.61H453.62M455.18 653.96V660.72M453.88 653.96H456.48M453.88 660.72H456.48M458.05 652.6V659.61M456.75 652.6H459.35M456.75 659.61H459.35M460.92 651.18V658.45M459.62 651.18H462.22M459.62 658.45H462.22M463.78 649.62V657.15M462.48 649.62H465.08M462.48 657.15H465.08M466.65 648.35V656.13M465.35 648.35H467.95M465.35 656.13H467.95M469.52 646.23V654.26M468.22 646.23H470.82M468.22 654.26H470.82M472.38 644.76V653.05M471.08 644.76H473.69M471.08 653.05H473.69M475.25 642.38V650.93M473.95 642.38H476.55M473.95 650.93H476.55M478.12 640.07V648.87M476.82 640.07H479.42M476.82 648.87H479.42M480.99 638.08V647.13M479.69 638.08H482.29M479.69 647.13H482.29M483.85 635.51V644.81M482.55 635.51H485.15M482.55 644.81H485.15M486.72 633.55V643.11M485.42 633.55H488.02M485.42 643.11H488.02" stroke="#9E9E9E" stroke-width="0.65" fill="none"/>
<polyline points="317.57,706.67 320.43,706.91 323.3,707.61 326.17,707.93 329.03,708.19 331.9,708.94 334.77,709.06 337.64,708.89 340.5,708.5 343.37,708.51 346.24,708.65 349.1,708.52 351.97,708.52 354.84,708.24 357.7,708.34 360.57,707.81 363.44,707.35 366.31,706.75 369.17,706.06 372.04,705.08 374.91,704.94 377.77,704.29 380.64,703.58 383.51,702.99 386.38,702.13 389.24,700.36 392.11,699 394.98,697.24 397.84,695.81 400.71,693.92 403.58,691.61 406.44,689.39 409.31,686.95 412.18,684.55 415.04,683.07 417.91,681.55 420.78,679.76 423.65,677.82 426.51,675.52 429.38,673.66 432.25,671.48 435.11,669.26 437.98,666.68 440.85,665.23 443.71,663.89 446.58,662.57 449.45,661.06 452.32,659.36 455.18,657.34 458.05,656.1 460.92,654.81 463.78,653.39 466.65,652.24 469.52,650.25 472.38,648.9 475.25,646.66 478.12,644.47 480.99,642.6 483.85,640.16 486.72,638.33" fill="none" stroke="#5E5E5E" stroke-width="0.8"/>
<circle cx="317.57" cy="706.67" r="1.3" fill="#5E5E5E"/>
<circle cx="320.43" cy="706.91" r="1.3" fill="#5E5E5E"/>
<circle cx="323.3" cy="707.61" r="1.3" fill="#5E5E5E"/>
<circle cx="326.17" cy="707.93" r="1.3" fill="#5E5E5E"/>
<circle cx="329.03" cy="708.19" r="1.3" fill="#5E5E5E"/>
<circle cx="331.9" cy="708.94" r="1.3" fill="#5E5E5E"/>
<circle cx="334.77" cy="709.06" r="1.3" fill="#5E5E5E"/>
<circle cx="337.64" cy="708.89" r="1.3" fill="#5E5E5E"/>
<circle cx="340.5" cy="708.5" r="1.3" fill="#5E5E5E"/>
<circle cx="343.37" cy="708.51" r="1.3" fill="#5E5E5E"/>
<circle cx="346.24" cy="708.65" r="1.3" fill="#5E5E5E"/>
<circle cx="349.1" cy="708.52" r="1.3" fill="#5E5E5E"/>
<circle cx="351.97" cy="708.52" r="1.3" fill="#5E5E5E"/>
<circle cx="354.84" cy="708.24" r="1.3" fill="#5E5E5E"/>
<circle cx="357.7" cy="708.34" r="1.3" fill="#5E5E5E"/>
<circle cx="360.57" cy="707.81" r="1.3" fill="#5E5E5E"/>
<circle cx="363.44" cy="707.35" r="1.3" fill="#5E5E5E"/>
<circle cx="366.31" cy="706.75" r="1.3" fill="#5E5E5E"/>
<circle cx="369.17" cy="706.06" r="1.3" fill="#5E5E5E"/>
<circle cx="372.04" cy="705.08" r="1.3" fill="#5E5E5E"/>
<circle cx="374.91" cy="704.94" r="1.3" fill="#5E5E5E"/>
<circle cx="377.77" cy="704.29" r="1.3" fill="#5E5E5E"/>
<circle cx="380.64" cy="703.58" r="1.3" fill="#5E5E5E"/>
<circle cx="383.51" cy="702.99" r="1.3" fill="#5E5E5E"/>
<circle cx="386.38" cy="702.13" r="1.3" fill="#5E5E5E"/>
<circle cx="389.24" cy="700.36" r="1.3" fill="#5E5E5E"/>
<circle cx="392.11" cy="699" r="1.3" fill="#5E5E5E"/>
<circle cx="394.98" cy="697.24" r="1.3" fill="#5E5E5E"/>
<circle cx="397.84" cy="695.81" r="1.3" fill="#5E5E5E"/>
<circle cx="400.71" cy="693.92" r="1.3" fill="#5E5E5E"/>
<circle cx="403.58" cy="691.61" r="1.3" fill="#5E5E5E"/>
<circle cx="406.44" cy="689.39" r="1.3" fill="#5E5E5E"/>
<circle cx="409.31" cy="686.95" r="1.3" fill="#5E5E5E"/>
<circle cx="412.18" cy="684.55" r="1.3" fill="#5E5E5E"/>
<circle cx="415.04" cy="683.07" r="1.3" fill="#5E5E5E"/>
<circle cx="417.91" cy="681.55" r="1.3" fill="#5E5E5E"/>
<circle cx="420.78" cy="679.76" r="1.3" fill="#5E5E5E"/>
<circle cx="423.65" cy="677.82" r="1.3" fill="#5E5E5E"/>
<circle cx="426.51" cy="675.52" r="1.3" fill="#5E5E5E"/>
<circle cx="429.38" cy="673.66" r="1.3" fill="#5E5E5E"/>
<circle cx="432.25" cy="671.48" r="1.3" fill="#5E5E5E"/>
<circle cx="435.11" cy="669.26" r="1.3" fill="#5E5E5E"/>
<circle cx="437.98" cy="666.68" r="1.3" fill="#5E5E5E"/>
<circle cx="440.85" cy="665.23" r="1.3" fill="#5E5E5E"/>
<circle cx="443.71" cy="663.89" r="1.3" fill="#5E5E5E"/>
<circle cx="446.58" cy="662.57" r="1.3" fill="#5E5E5E"/>
<circle cx="449.45" cy="661.06" r="1.3" fill="#5E5E5E"/>
<circle cx="452.32" cy="659.36" r="1.3" fill="#5E5E5E"/>
<circle cx="455.18" cy="657.34" r="1.3" fill="#5E5E5E"/>
<circle cx="458.05" cy="656.1" r="1.3" fill="#5E5E5E"/>
<circle cx="460.92" cy="654.81" r="1.3" fill="#5E5E5E"/>
<circle cx="463.78" cy="653.39" r="1.3" fill="#5E5E5E"/>
<circle cx="466.65" cy="652.24" r="1.3" fill="#5E5E5E"/>
<circle cx="469.52" cy="650.25" r="1.3" fill="#5E5E5E"/>
<circle cx="472.38" cy="648.9" r="1.3" fill="#5E5E5E"/>
<circle cx="475.25" cy="646.66" r="1.3" fill="#5E5E5E"/>
<circle cx="478.12" cy="644.47" r="1.3" fill="#5E5E5E"/>
<circle cx="480.99" cy="642.6" r="1.3" fill="#5E5E5E"/>
<circle cx="483.85" cy="640.16" r="1.3" fill="#5E5E5E"/>
<circle cx="486.72" cy="638.33" r="1.3" fill="#5E5E5E"/>
<path d="M349.1 711.19V712.79M347.8 711.19H350.4M347.8 712.79H350.4M351.97 711.11V712.72M350.67 711.11H353.27M350.67 712.72H353.27M354.84 710.68V712.3M353.54 710.68H356.14M353.54 712.3H356.14M357.7 711.04V712.66M356.4 711.04H359M356.4 712.66H359M360.57 711.03V712.65M359.27 711.03H361.87M359.27 712.65H361.87M363.44 710.46V712.09M362.14 710.46H364.74M362.14 712.09H364.74M366.31 710.6V712.24M365.01 710.6H367.61M365.01 712.24H367.61M369.17 710.19V711.84M367.87 710.19H370.47M367.87 711.84H370.47M372.04 710.14V711.8M370.74 710.14H373.34M370.74 711.8H373.34M374.91 709.26V710.92M373.61 709.26H376.21M373.61 710.92H376.21M377.77 708.7V710.37M376.47 708.7H379.07M376.47 710.37H379.07M380.64 707.92V709.59M379.34 707.92H381.94M379.34 709.59H381.94M383.51 707.24V708.92M382.21 707.24H384.81M382.21 708.92H384.81M386.38 706.64V708.32M385.07 706.64H387.68M385.07 708.32H387.68M389.24 706.09V707.79M387.94 706.09H390.54M387.94 707.79H390.54M392.11 705.23V706.93M390.81 705.23H393.41M390.81 706.93H393.41M394.98 704.05V705.76M393.68 704.05H396.28M393.68 705.76H396.28M397.84 703.24V704.95M396.54 703.24H399.14M396.54 704.95H399.14M400.71 702.3V704.02M399.41 702.3H402.01M399.41 704.02H402.01M403.58 701.59V703.32M402.28 701.59H404.88M402.28 703.32H404.88M406.44 700.24V701.97M405.14 700.24H407.74M405.14 701.97H407.74M409.31 698.96V700.7M408.01 698.96H410.61M408.01 700.7H410.61M412.18 697.8V699.54M410.88 697.8H413.48M410.88 699.54H413.48M415.04 696.38V698.13M413.74 696.38H416.34M413.74 698.13H416.34M417.91 695.2V696.96M416.61 695.2H419.21M416.61 696.96H419.21M420.78 693.78V695.54M419.48 693.78H422.08M419.48 695.54H422.08M423.65 692.41V694.18M422.35 692.41H424.95M422.35 694.18H424.95M426.51 691.31V693.08M425.21 691.31H427.81M425.21 693.08H427.81M429.38 689.59V691.38M428.08 689.59H430.68M428.08 691.38H430.68M432.25 688.24V690.03M430.95 688.24H433.55M430.95 690.03H433.55M435.11 687.43V689.23M433.81 687.43H436.41M433.81 689.23H436.41M437.98 685.72V687.53M436.68 685.72H439.28M436.68 687.53H439.28M440.85 684.69V686.49M439.55 684.69H442.15M439.55 686.49H442.15M443.71 683.96V685.78M442.41 683.96H445.01M442.41 685.78H445.01M446.58 683.46V685.29M445.28 683.46H447.88M445.28 685.29H447.88M449.45 682.17V683.99M448.15 682.17H450.75M448.15 683.99H450.75M452.32 681.85V683.69M451.02 681.85H453.62M451.02 683.69H453.62M455.18 680.67V682.51M453.88 680.67H456.48M453.88 682.51H456.48M458.05 680.04V681.89M456.75 680.04H459.35M456.75 681.89H459.35M460.92 679.5V681.35M459.62 679.5H462.22M459.62 681.35H462.22M463.78 678.46V680.32M462.48 678.46H465.08M462.48 680.32H465.08M466.65 677.21V679.07M465.35 677.21H467.95M465.35 679.07H467.95M469.52 676.41V678.28M468.22 676.41H470.82M468.22 678.28H470.82M472.38 675.67V677.55M471.08 675.67H473.69M471.08 677.55H473.69M475.25 675.13V677.02M473.95 675.13H476.55M473.95 677.02H476.55M478.12 675.16V677.06M476.82 675.16H479.42M476.82 677.06H479.42M480.99 674.92V676.82M479.69 674.92H482.29M479.69 676.82H482.29M483.85 674.02V675.92M482.55 674.02H485.15M482.55 675.92H485.15M486.72 674.17V676.08M485.42 674.17H488.02M485.42 676.08H488.02" stroke="#CBD87A" stroke-width="0.65" fill="none"/>
<polyline points="317.57,711.14 320.43,711.15 323.3,711.47 326.17,711.35 329.03,711.56 331.9,711.3 334.77,711.44 337.64,711.73 340.5,712.11 343.37,712.03 346.24,712.03 349.1,711.99 351.97,711.92 354.84,711.49 357.7,711.85 360.57,711.84 363.44,711.28 366.31,711.42 369.17,711.01 372.04,710.97 374.91,710.09 377.77,709.54 380.64,708.76 383.51,708.08 386.38,707.48 389.24,706.94 392.11,706.08 394.98,704.9 397.84,704.09 400.71,703.16 403.58,702.46 406.44,701.1 409.31,699.83 412.18,698.67 415.04,697.26 417.91,696.08 420.78,694.66 423.65,693.3 426.51,692.19 429.38,690.48 432.25,689.14 435.11,688.33 437.98,686.62 440.85,685.59 443.71,684.87 446.58,684.37 449.45,683.08 452.32,682.77 455.18,681.59 458.05,680.97 460.92,680.43 463.78,679.39 466.65,678.14 469.52,677.34 472.38,676.61 475.25,676.07 478.12,676.11 480.99,675.87 483.85,674.97 486.72,675.12" fill="none" stroke="#ABBE22" stroke-width="0.8"/>
<circle cx="317.57" cy="711.14" r="1.3" fill="#ABBE22"/>
<circle cx="320.43" cy="711.15" r="1.3" fill="#ABBE22"/>
<circle cx="323.3" cy="711.47" r="1.3" fill="#ABBE22"/>
<circle cx="326.17" cy="711.35" r="1.3" fill="#ABBE22"/>
<circle cx="329.03" cy="711.56" r="1.3" fill="#ABBE22"/>
<circle cx="331.9" cy="711.3" r="1.3" fill="#ABBE22"/>
<circle cx="334.77" cy="711.44" r="1.3" fill="#ABBE22"/>
<circle cx="337.64" cy="711.73" r="1.3" fill="#ABBE22"/>
<circle cx="340.5" cy="712.11" r="1.3" fill="#ABBE22"/>
<circle cx="343.37" cy="712.03" r="1.3" fill="#ABBE22"/>
<circle cx="346.24" cy="712.03" r="1.3" fill="#ABBE22"/>
<circle cx="349.1" cy="711.99" r="1.3" fill="#ABBE22"/>
<circle cx="351.97" cy="711.92" r="1.3" fill="#ABBE22"/>
<circle cx="354.84" cy="711.49" r="1.3" fill="#ABBE22"/>
<circle cx="357.7" cy="711.85" r="1.3" fill="#ABBE22"/>
<circle cx="360.57" cy="711.84" r="1.3" fill="#ABBE22"/>
<circle cx="363.44" cy="711.28" r="1.3" fill="#ABBE22"/>
<circle cx="366.31" cy="711.42" r="1.3" fill="#ABBE22"/>
<circle cx="369.17" cy="711.01" r="1.3" fill="#ABBE22"/>
<circle cx="372.04" cy="710.97" r="1.3" fill="#ABBE22"/>
<circle cx="374.91" cy="710.09" r="1.3" fill="#ABBE22"/>
<circle cx="377.77" cy="709.54" r="1.3" fill="#ABBE22"/>
<circle cx="380.64" cy="708.76" r="1.3" fill="#ABBE22"/>
<circle cx="383.51" cy="708.08" r="1.3" fill="#ABBE22"/>
<circle cx="386.38" cy="707.48" r="1.3" fill="#ABBE22"/>
<circle cx="389.24" cy="706.94" r="1.3" fill="#ABBE22"/>
<circle cx="392.11" cy="706.08" r="1.3" fill="#ABBE22"/>
<circle cx="394.98" cy="704.9" r="1.3" fill="#ABBE22"/>
<circle cx="397.84" cy="704.09" r="1.3" fill="#ABBE22"/>
<circle cx="400.71" cy="703.16" r="1.3" fill="#ABBE22"/>
<circle cx="403.58" cy="702.46" r="1.3" fill="#ABBE22"/>
<circle cx="406.44" cy="701.1" r="1.3" fill="#ABBE22"/>
<circle cx="409.31" cy="699.83" r="1.3" fill="#ABBE22"/>
<circle cx="412.18" cy="698.67" r="1.3" fill="#ABBE22"/>
<circle cx="415.04" cy="697.26" r="1.3" fill="#ABBE22"/>
<circle cx="417.91" cy="696.08" r="1.3" fill="#ABBE22"/>
<circle cx="420.78" cy="694.66" r="1.3" fill="#ABBE22"/>
<circle cx="423.65" cy="693.3" r="1.3" fill="#ABBE22"/>
<circle cx="426.51" cy="692.19" r="1.3" fill="#ABBE22"/>
<circle cx="429.38" cy="690.48" r="1.3" fill="#ABBE22"/>
<circle cx="432.25" cy="689.14" r="1.3" fill="#ABBE22"/>
<circle cx="435.11" cy="688.33" r="1.3" fill="#ABBE22"/>
<circle cx="437.98" cy="686.62" r="1.3" fill="#ABBE22"/>
<circle cx="440.85" cy="685.59" r="1.3" fill="#ABBE22"/>
<circle cx="443.71" cy="684.87" r="1.3" fill="#ABBE22"/>
<circle cx="446.58" cy="684.37" r="1.3" fill="#ABBE22"/>
<circle cx="449.45" cy="683.08" r="1.3" fill="#ABBE22"/>
<circle cx="452.32" cy="682.77" r="1.3" fill="#ABBE22"/>
<circle cx="455.18" cy="681.59" r="1.3" fill="#ABBE22"/>
<circle cx="458.05" cy="680.97" r="1.3" fill="#ABBE22"/>
<circle cx="460.92" cy="680.43" r="1.3" fill="#ABBE22"/>
<circle cx="463.78" cy="679.39" r="1.3" fill="#ABBE22"/>
<circle cx="466.65" cy="678.14" r="1.3" fill="#ABBE22"/>
<circle cx="469.52" cy="677.34" r="1.3" fill="#ABBE22"/>
<circle cx="472.38" cy="676.61" r="1.3" fill="#ABBE22"/>
<circle cx="475.25" cy="676.07" r="1.3" fill="#ABBE22"/>
<circle cx="478.12" cy="676.11" r="1.3" fill="#ABBE22"/>
<circle cx="480.99" cy="675.87" r="1.3" fill="#ABBE22"/>
<circle cx="483.85" cy="674.97" r="1.3" fill="#ABBE22"/>
<circle cx="486.72" cy="675.12" r="1.3" fill="#ABBE22"/>
<path d="M317.57 706.18V708.1M316.27 706.18H318.87M316.27 708.1H318.87M320.43 706.93V708.84M319.13 706.93H321.73M319.13 708.84H321.73M323.3 706.83V708.75M322 706.83H324.6M322 708.75H324.6M326.17 707.15V709.07M324.87 707.15H327.47M324.87 709.07H327.47M329.03 707.41V709.32M327.73 707.41H330.33M327.73 709.32H330.33M331.9 707.84V709.75M330.6 707.84H333.2M330.6 709.75H333.2M334.77 707.84V709.75M333.47 707.84H336.07M333.47 709.75H336.07M337.64 708.35V710.27M336.34 708.35H338.94M336.34 710.27H338.94M340.5 708.21V710.13M339.2 708.21H341.8M339.2 710.13H341.8M343.37 708.54V710.45M342.07 708.54H344.67M342.07 710.45H344.67M346.24 708.34V710.25M344.94 708.34H347.54M344.94 710.25H347.54M349.1 708.54V710.45M347.8 708.54H350.4M347.8 710.45H350.4M351.97 708.85V710.77M350.67 708.85H353.27M350.67 710.77H353.27M354.84 709V710.91M353.54 709H356.14M353.54 710.91H356.14M357.7 709.5V711.41M356.4 709.5H359M356.4 711.41H359M360.57 709.73V711.64M359.27 709.73H361.87M359.27 711.64H361.87M363.44 709.63V711.55M362.14 709.63H364.74M362.14 711.55H364.74M366.31 709.92V711.84M365.01 709.92H367.61M365.01 711.84H367.61M369.17 709.94V711.85M367.87 709.94H370.47M367.87 711.85H370.47M372.04 710.31V712.23M370.74 710.31H373.34M370.74 712.23H373.34M374.91 710.75V712.66M373.61 710.75H376.21M373.61 712.66H376.21M377.77 710.72V712.63M376.47 710.72H379.07M376.47 712.63H379.07M380.64 710.52V712.43M379.34 710.52H381.94M379.34 712.43H381.94M383.51 710.69V712.6M382.21 710.69H384.81M382.21 712.6H384.81M386.38 711.01V712.93M385.07 711.01H387.68M385.07 712.93H387.68M389.24 710.57V712.48M387.94 710.57H390.54M387.94 712.48H390.54M392.11 710.61V712.52M390.81 710.61H393.41M390.81 712.52H393.41M394.98 711.07V712.98M393.68 711.07H396.28M393.68 712.98H396.28M397.84 710.84V712.75M396.54 710.84H399.14M396.54 712.75H399.14M400.71 710.96V712.87M399.41 710.96H402.01M399.41 712.87H402.01M403.58 710.76V712.67M402.28 710.76H404.88M402.28 712.67H404.88M406.44 711.07V712.98M405.14 711.07H407.74M405.14 712.98H407.74M409.31 711.09V713.01M408.01 711.09H410.61M408.01 713.01H410.61M412.18 710.88V712.8M410.88 710.88H413.48M410.88 712.8H413.48M415.04 710.5V712.41M413.74 710.5H416.34M413.74 712.41H416.34M417.91 710.89V712.8M416.61 710.89H419.21M416.61 712.8H419.21M420.78 710.76V712.68M419.48 710.76H422.08M419.48 712.68H422.08M423.65 710.36V712.27M422.35 710.36H424.95M422.35 712.27H424.95M426.51 710.1V712.01M425.21 710.1H427.81M425.21 712.01H427.81M429.38 710.2V712.11M428.08 710.2H430.68M428.08 712.11H430.68M432.25 710.13V712.05M430.95 710.13H433.55M430.95 712.05H433.55M435.11 709.78V711.69M433.81 709.78H436.41M433.81 711.69H436.41M437.98 709.71V711.63M436.68 709.71H439.28M436.68 711.63H439.28M440.85 710.01V711.92M439.55 710.01H442.15M439.55 711.92H442.15M443.71 709.43V711.34M442.41 709.43H445.01M442.41 711.34H445.01M446.58 709.71V711.62M445.28 709.71H447.88M445.28 711.62H447.88M449.45 709.53V711.45M448.15 709.53H450.75M448.15 711.45H450.75M452.32 709.11V711.03M451.02 709.11H453.62M451.02 711.03H453.62M455.18 709.24V711.15M453.88 709.24H456.48M453.88 711.15H456.48M458.05 708.91V710.82M456.75 708.91H459.35M456.75 710.82H459.35M460.92 709.15V711.06M459.62 709.15H462.22M459.62 711.06H462.22M463.78 708.63V710.54M462.48 708.63H465.08M462.48 710.54H465.08M466.65 708.92V710.83M465.35 708.92H467.95M465.35 710.83H467.95M469.52 708.82V710.73M468.22 708.82H470.82M468.22 710.73H470.82M472.38 708.51V710.42M471.08 708.51H473.69M471.08 710.42H473.69M475.25 708.48V710.39M473.95 708.48H476.55M473.95 710.39H476.55M478.12 708.25V710.16M476.82 708.25H479.42M476.82 710.16H479.42M480.99 707.93V709.84M479.69 707.93H482.29M479.69 709.84H482.29M483.85 707.92V709.84M482.55 707.92H485.15M482.55 709.84H485.15M486.72 708.21V710.12M485.42 708.21H488.02M485.42 710.12H488.02" stroke="#F08A84" stroke-width="0.65" fill="none"/>
<polyline points="317.57,707.14 320.43,707.88 323.3,707.79 326.17,708.11 329.03,708.36 331.9,708.8 334.77,708.8 337.64,709.31 340.5,709.17 343.37,709.49 346.24,709.3 349.1,709.49 351.97,709.81 354.84,709.96 357.7,710.46 360.57,710.68 363.44,710.59 366.31,710.88 369.17,710.89 372.04,711.27 374.91,711.7 377.77,711.67 380.64,711.47 383.51,711.64 386.38,711.97 389.24,711.53 392.11,711.57 394.98,712.02 397.84,711.79 400.71,711.92 403.58,711.72 406.44,712.02 409.31,712.05 412.18,711.84 415.04,711.45 417.91,711.84 420.78,711.72 423.65,711.32 426.51,711.05 429.38,711.16 432.25,711.09 435.11,710.74 437.98,710.67 440.85,710.97 443.71,710.39 446.58,710.67 449.45,710.49 452.32,710.07 455.18,710.19 458.05,709.86 460.92,710.11 463.78,709.59 466.65,709.87 469.52,709.77 472.38,709.46 475.25,709.44 478.12,709.21 480.99,708.88 483.85,708.88 486.72,709.17" fill="none" stroke="#E83228" stroke-width="0.8"/>
<circle cx="317.57" cy="707.14" r="1.3" fill="#E83228"/>
<circle cx="320.43" cy="707.88" r="1.3" fill="#E83228"/>
<circle cx="323.3" cy="707.79" r="1.3" fill="#E83228"/>
<circle cx="326.17" cy="708.11" r="1.3" fill="#E83228"/>
<circle cx="329.03" cy="708.36" r="1.3" fill="#E83228"/>
<circle cx="331.9" cy="708.8" r="1.3" fill="#E83228"/>
<circle cx="334.77" cy="708.8" r="1.3" fill="#E83228"/>
<circle cx="337.64" cy="709.31" r="1.3" fill="#E83228"/>
<circle cx="340.5" cy="709.17" r="1.3" fill="#E83228"/>
<circle cx="343.37" cy="709.49" r="1.3" fill="#E83228"/>
<circle cx="346.24" cy="709.3" r="1.3" fill="#E83228"/>
<circle cx="349.1" cy="709.49" r="1.3" fill="#E83228"/>
<circle cx="351.97" cy="709.81" r="1.3" fill="#E83228"/>
<circle cx="354.84" cy="709.96" r="1.3" fill="#E83228"/>
<circle cx="357.7" cy="710.46" r="1.3" fill="#E83228"/>
<circle cx="360.57" cy="710.68" r="1.3" fill="#E83228"/>
<circle cx="363.44" cy="710.59" r="1.3" fill="#E83228"/>
<circle cx="366.31" cy="710.88" r="1.3" fill="#E83228"/>
<circle cx="369.17" cy="710.89" r="1.3" fill="#E83228"/>
<circle cx="372.04" cy="711.27" r="1.3" fill="#E83228"/>
<circle cx="374.91" cy="711.7" r="1.3" fill="#E83228"/>
<circle cx="377.77" cy="711.67" r="1.3" fill="#E83228"/>
<circle cx="380.64" cy="711.47" r="1.3" fill="#E83228"/>
<circle cx="383.51" cy="711.64" r="1.3" fill="#E83228"/>
<circle cx="386.38" cy="711.97" r="1.3" fill="#E83228"/>
<circle cx="389.24" cy="711.53" r="1.3" fill="#E83228"/>
<circle cx="392.11" cy="711.57" r="1.3" fill="#E83228"/>
<circle cx="394.98" cy="712.02" r="1.3" fill="#E83228"/>
<circle cx="397.84" cy="711.79" r="1.3" fill="#E83228"/>
<circle cx="400.71" cy="711.92" r="1.3" fill="#E83228"/>
<circle cx="403.58" cy="711.72" r="1.3" fill="#E83228"/>
<circle cx="406.44" cy="712.02" r="1.3" fill="#E83228"/>
<circle cx="409.31" cy="712.05" r="1.3" fill="#E83228"/>
<circle cx="412.18" cy="711.84" r="1.3" fill="#E83228"/>
<circle cx="415.04" cy="711.45" r="1.3" fill="#E83228"/>
<circle cx="417.91" cy="711.84" r="1.3" fill="#E83228"/>
<circle cx="420.78" cy="711.72" r="1.3" fill="#E83228"/>
<circle cx="423.65" cy="711.32" r="1.3" fill="#E83228"/>
<circle cx="426.51" cy="711.05" r="1.3" fill="#E83228"/>
<circle cx="429.38" cy="711.16" r="1.3" fill="#E83228"/>
<circle cx="432.25" cy="711.09" r="1.3" fill="#E83228"/>
<circle cx="435.11" cy="710.74" r="1.3" fill="#E83228"/>
<circle cx="437.98" cy="710.67" r="1.3" fill="#E83228"/>
<circle cx="440.85" cy="710.97" r="1.3" fill="#E83228"/>
<circle cx="443.71" cy="710.39" r="1.3" fill="#E83228"/>
<circle cx="446.58" cy="710.67" r="1.3" fill="#E83228"/>
<circle cx="449.45" cy="710.49" r="1.3" fill="#E83228"/>
<circle cx="452.32" cy="710.07" r="1.3" fill="#E83228"/>
<circle cx="455.18" cy="710.19" r="1.3" fill="#E83228"/>
<circle cx="458.05" cy="709.86" r="1.3" fill="#E83228"/>
<circle cx="460.92" cy="710.11" r="1.3" fill="#E83228"/>
<circle cx="463.78" cy="709.59" r="1.3" fill="#E83228"/>
<circle cx="466.65" cy="709.87" r="1.3" fill="#E83228"/>
<circle cx="469.52" cy="709.77" r="1.3" fill="#E83228"/>
<circle cx="472.38" cy="709.46" r="1.3" fill="#E83228"/>
<circle cx="475.25" cy="709.44" r="1.3" fill="#E83228"/>
<circle cx="478.12" cy="709.21" r="1.3" fill="#E83228"/>
<circle cx="480.99" cy="708.88" r="1.3" fill="#E83228"/>
<circle cx="483.85" cy="708.88" r="1.3" fill="#E83228"/>
<circle cx="486.72" cy="709.17" r="1.3" fill="#E83228"/>
<path d="M317.57 707.46V709.38M316.27 707.46H318.87M316.27 709.38H318.87M320.43 707.73V709.65M319.13 707.73H321.73M319.13 709.65H321.73M323.3 708.17V710.08M322 708.17H324.6M322 710.08H324.6M326.17 708.44V710.36M324.87 708.44H327.47M324.87 710.36H327.47M329.03 708.98V710.89M327.73 708.98H330.33M327.73 710.89H330.33M331.9 709.62V711.53M330.6 709.62H333.2M330.6 711.53H333.2M334.77 709.92V711.84M333.47 709.92H336.07M333.47 711.84H336.07M337.64 709.98V711.89M336.34 709.98H338.94M336.34 711.89H338.94M340.5 710.67V712.58M339.2 710.67H341.8M339.2 712.58H341.8M343.37 710.74V712.65M342.07 710.74H344.67M342.07 712.65H344.67M346.24 710.82V712.74M344.94 710.82H347.54M344.94 712.74H347.54M349.1 711.15V713.06M347.8 711.15H350.4M347.8 713.06H350.4M351.97 711.23V713.14M350.67 711.23H353.27M350.67 713.14H353.27M354.84 711.38V713.3M353.54 711.38H356.14M353.54 713.3H356.14M357.7 711.67V713.58M356.4 711.67H359M356.4 713.58H359M360.57 711.44V713.35M359.27 711.44H361.87M359.27 713.35H361.87M363.44 711.81V713.72M362.14 711.81H364.74M362.14 713.72H364.74M366.31 711.67V713.58M365.01 711.67H367.61M365.01 713.58H367.61M369.17 712.13V714.05M367.87 712.13H370.47M367.87 714.05H370.47M372.04 711.88V713.79M370.74 711.88H373.34M370.74 713.79H373.34M374.91 711.94V713.85M373.61 711.94H376.21M373.61 713.85H376.21M377.77 712.01V713.93M376.47 712.01H379.07M376.47 713.93H379.07M380.64 712.08V713.99M379.34 712.08H381.94M379.34 713.99H381.94M383.51 712.22V714.14M382.21 712.22H384.81M382.21 714.14H384.81M386.38 711.83V713.75M385.07 711.83H387.68M385.07 713.75H387.68M389.24 712.04V713.95M387.94 712.04H390.54M387.94 713.95H390.54M392.11 711.84V713.75M390.81 711.84H393.41M390.81 713.75H393.41M394.98 712.11V714.02M393.68 712.11H396.28M393.68 714.02H396.28M397.84 712.11V714.02M396.54 712.11H399.14M396.54 714.02H399.14M400.71 712.05V713.96M399.41 712.05H402.01M399.41 713.96H402.01M403.58 711.64V713.55M402.28 711.64H404.88M402.28 713.55H404.88M406.44 711.97V713.88M405.14 711.97H407.74M405.14 713.88H407.74M409.31 711.53V713.44M408.01 711.53H410.61M408.01 713.44H410.61M412.18 711.81V713.72M410.88 711.81H413.48M410.88 713.72H413.48M415.04 711.68V713.59M413.74 711.68H416.34M413.74 713.59H416.34M417.91 711.79V713.7M416.61 711.79H419.21M416.61 713.7H419.21M420.78 711.62V713.53M419.48 711.62H422.08M419.48 713.53H422.08M423.65 711.91V713.82M422.35 711.91H424.95M422.35 713.82H424.95M426.51 711.71V713.63M425.21 711.71H427.81M425.21 713.63H427.81M429.38 711.39V713.3M428.08 711.39H430.68M428.08 713.3H430.68M432.25 711.81V713.72M430.95 711.81H433.55M430.95 713.72H433.55M435.11 711.52V713.43M433.81 711.52H436.41M433.81 713.43H436.41M437.98 711.69V713.61M436.68 711.69H439.28M436.68 713.61H439.28M440.85 711.69V713.61M439.55 711.69H442.15M439.55 713.61H442.15M443.71 711.81V713.72M442.41 711.81H445.01M442.41 713.72H445.01M446.58 711.74V713.65M445.28 711.74H447.88M445.28 713.65H447.88M449.45 711.1V713.01M448.15 711.1H450.75M448.15 713.01H450.75M452.32 711.07V712.98M451.02 711.07H453.62M451.02 712.98H453.62M455.18 710.98V712.89M453.88 710.98H456.48M453.88 712.89H456.48M458.05 710.88V712.79M456.75 710.88H459.35M456.75 712.79H459.35M460.92 710.69V712.6M459.62 710.69H462.22M459.62 712.6H462.22M463.78 711.04V712.96M462.48 711.04H465.08M462.48 712.96H465.08M466.65 710.7V712.61M465.35 710.7H467.95M465.35 712.61H467.95M469.52 710.65V712.56M468.22 710.65H470.82M468.22 712.56H470.82M472.38 710.5V712.41M471.08 710.5H473.69M471.08 712.41H473.69M475.25 710.19V712.1M473.95 710.19H476.55M473.95 712.1H476.55M478.12 710.19V712.1M476.82 710.19H479.42M476.82 712.1H479.42M480.99 709.97V711.88M479.69 709.97H482.29M479.69 711.88H482.29M483.85 710.35V712.27M482.55 710.35H485.15M482.55 712.27H485.15M486.72 709.95V711.86M485.42 709.95H488.02M485.42 711.86H488.02" stroke="#7C8FD0" stroke-width="0.65" fill="none"/>
<polyline points="317.57,708.42 320.43,708.69 323.3,709.13 326.17,709.4 329.03,709.94 331.9,710.57 334.77,710.88 337.64,710.94 340.5,711.62 343.37,711.7 346.24,711.78 349.1,712.1 351.97,712.19 354.84,712.34 357.7,712.63 360.57,712.4 363.44,712.77 366.31,712.63 369.17,713.09 372.04,712.83 374.91,712.9 377.77,712.97 380.64,713.04 383.51,713.18 386.38,712.79 389.24,713 392.11,712.79 394.98,713.07 397.84,713.07 400.71,713 403.58,712.59 406.44,712.92 409.31,712.48 412.18,712.77 415.04,712.63 417.91,712.75 420.78,712.58 423.65,712.86 426.51,712.67 429.38,712.35 432.25,712.77 435.11,712.48 437.98,712.65 440.85,712.65 443.71,712.76 446.58,712.69 449.45,712.06 452.32,712.02 455.18,711.94 458.05,711.83 460.92,711.65 463.78,712 466.65,711.65 469.52,711.6 472.38,711.46 475.25,711.15 478.12,711.15 480.99,710.92 483.85,711.31 486.72,710.9" fill="none" stroke="#3450B0" stroke-width="0.8"/>
<circle cx="317.57" cy="708.42" r="1.3" fill="#3450B0"/>
<circle cx="320.43" cy="708.69" r="1.3" fill="#3450B0"/>
<circle cx="323.3" cy="709.13" r="1.3" fill="#3450B0"/>
<circle cx="326.17" cy="709.4" r="1.3" fill="#3450B0"/>
<circle cx="329.03" cy="709.94" r="1.3" fill="#3450B0"/>
<circle cx="331.9" cy="710.57" r="1.3" fill="#3450B0"/>
<circle cx="334.77" cy="710.88" r="1.3" fill="#3450B0"/>
<circle cx="337.64" cy="710.94" r="1.3" fill="#3450B0"/>
<circle cx="340.5" cy="711.62" r="1.3" fill="#3450B0"/>
<circle cx="343.37" cy="711.7" r="1.3" fill="#3450B0"/>
<circle cx="346.24" cy="711.78" r="1.3" fill="#3450B0"/>
<circle cx="349.1" cy="712.1" r="1.3" fill="#3450B0"/>
<circle cx="351.97" cy="712.19" r="1.3" fill="#3450B0"/>
<circle cx="354.84" cy="712.34" r="1.3" fill="#3450B0"/>
<circle cx="357.7" cy="712.63" r="1.3" fill="#3450B0"/>
<circle cx="360.57" cy="712.4" r="1.3" fill="#3450B0"/>
<circle cx="363.44" cy="712.77" r="1.3" fill="#3450B0"/>
<circle cx="366.31" cy="712.63" r="1.3" fill="#3450B0"/>
<circle cx="369.17" cy="713.09" r="1.3" fill="#3450B0"/>
<circle cx="372.04" cy="712.83" r="1.3" fill="#3450B0"/>
<circle cx="374.91" cy="712.9" r="1.3" fill="#3450B0"/>
<circle cx="377.77" cy="712.97" r="1.3" fill="#3450B0"/>
<circle cx="380.64" cy="713.04" r="1.3" fill="#3450B0"/>
<circle cx="383.51" cy="713.18" r="1.3" fill="#3450B0"/>
<circle cx="386.38" cy="712.79" r="1.3" fill="#3450B0"/>
<circle cx="389.24" cy="713" r="1.3" fill="#3450B0"/>
<circle cx="392.11" cy="712.79" r="1.3" fill="#3450B0"/>
<circle cx="394.98" cy="713.07" r="1.3" fill="#3450B0"/>
<circle cx="397.84" cy="713.07" r="1.3" fill="#3450B0"/>
<circle cx="400.71" cy="713" r="1.3" fill="#3450B0"/>
<circle cx="403.58" cy="712.59" r="1.3" fill="#3450B0"/>
<circle cx="406.44" cy="712.92" r="1.3" fill="#3450B0"/>
<circle cx="409.31" cy="712.48" r="1.3" fill="#3450B0"/>
<circle cx="412.18" cy="712.77" r="1.3" fill="#3450B0"/>
<circle cx="415.04" cy="712.63" r="1.3" fill="#3450B0"/>
<circle cx="417.91" cy="712.75" r="1.3" fill="#3450B0"/>
<circle cx="420.78" cy="712.58" r="1.3" fill="#3450B0"/>
<circle cx="423.65" cy="712.86" r="1.3" fill="#3450B0"/>
<circle cx="426.51" cy="712.67" r="1.3" fill="#3450B0"/>
<circle cx="429.38" cy="712.35" r="1.3" fill="#3450B0"/>
<circle cx="432.25" cy="712.77" r="1.3" fill="#3450B0"/>
<circle cx="435.11" cy="712.48" r="1.3" fill="#3450B0"/>
<circle cx="437.98" cy="712.65" r="1.3" fill="#3450B0"/>
<circle cx="440.85" cy="712.65" r="1.3" fill="#3450B0"/>
<circle cx="443.71" cy="712.76" r="1.3" fill="#3450B0"/>
<circle cx="446.58" cy="712.69" r="1.3" fill="#3450B0"/>
<circle cx="449.45" cy="712.06" r="1.3" fill="#3450B0"/>
<circle cx="452.32" cy="712.02" r="1.3" fill="#3450B0"/>
<circle cx="455.18" cy="711.94" r="1.3" fill="#3450B0"/>
<circle cx="458.05" cy="711.83" r="1.3" fill="#3450B0"/>
<circle cx="460.92" cy="711.65" r="1.3" fill="#3450B0"/>
<circle cx="463.78" cy="712" r="1.3" fill="#3450B0"/>
<circle cx="466.65" cy="711.65" r="1.3" fill="#3450B0"/>
<circle cx="469.52" cy="711.6" r="1.3" fill="#3450B0"/>
<circle cx="472.38" cy="711.46" r="1.3" fill="#3450B0"/>
<circle cx="475.25" cy="711.15" r="1.3" fill="#3450B0"/>
<circle cx="478.12" cy="711.15" r="1.3" fill="#3450B0"/>
<circle cx="480.99" cy="710.92" r="1.3" fill="#3450B0"/>
<circle cx="483.85" cy="711.31" r="1.3" fill="#3450B0"/>
<circle cx="486.72" cy="710.9" r="1.3" fill="#3450B0"/>
<line x1="314.7" y1="601.95" x2="314.7" y2="717.9" stroke="#333" stroke-width="1.25"/>
<line x1="314.1" y1="717.3" x2="487.32" y2="717.3" stroke="#333" stroke-width="1.25"/>
<line x1="310.1" y1="717.3" x2="314.7" y2="717.3" stroke="#333" stroke-width="1.2"/>
<text transform="translate(308.5 720.55) scale(0.8 1)" x="0" y="0" font-size="9.2" font-weight="bold" text-anchor="end" stroke="#000" stroke-width="0.3">0</text>
<line x1="310.1" y1="679.05" x2="314.7" y2="679.05" stroke="#333" stroke-width="1.2"/>
<text transform="translate(308.5 682.3) scale(0.8 1)" x="0" y="0" font-size="9.2" font-weight="bold" text-anchor="end" textLength="11.25" lengthAdjust="spacing" stroke="#000" stroke-width="0.3">20</text>
<line x1="310.1" y1="640.8" x2="314.7" y2="640.8" stroke="#333" stroke-width="1.2"/>
<text transform="translate(308.5 644.05) scale(0.8 1)" x="0" y="0" font-size="9.2" font-weight="bold" text-anchor="end" textLength="11.25" lengthAdjust="spacing" stroke="#000" stroke-width="0.3">40</text>
<line x1="310.1" y1="602.55" x2="314.7" y2="602.55" stroke="#333" stroke-width="1.2"/>
<text transform="translate(308.5 605.8) scale(0.8 1)" x="0" y="0" font-size="9.2" font-weight="bold" text-anchor="end" textLength="11.25" lengthAdjust="spacing" stroke="#000" stroke-width="0.3">60</text>
<line x1="314.7" y1="717.3" x2="314.7" y2="722.3" stroke="#333" stroke-width="1.2"/>
<text transform="translate(314.9 731.6) scale(0.8 1)" x="0" y="0" font-size="9" font-weight="bold" text-anchor="middle" stroke="#000" stroke-width="0.3">0</text>
<line x1="343.37" y1="717.3" x2="343.37" y2="722.3" stroke="#333" stroke-width="1.2"/>
<text transform="translate(343.57 731.6) scale(0.8 1)" x="0" y="0" font-size="9" font-weight="bold" text-anchor="middle" textLength="10.75" lengthAdjust="spacing" stroke="#000" stroke-width="0.3">10</text>
<line x1="372.04" y1="717.3" x2="372.04" y2="722.3" stroke="#333" stroke-width="1.2"/>
<text transform="translate(372.24 731.6) scale(0.8 1)" x="0" y="0" font-size="9" font-weight="bold" text-anchor="middle" textLength="10.75" lengthAdjust="spacing" stroke="#000" stroke-width="0.3">20</text>
<line x1="400.71" y1="717.3" x2="400.71" y2="722.3" stroke="#333" stroke-width="1.2"/>
<text transform="translate(400.91 731.6) scale(0.8 1)" x="0" y="0" font-size="9" font-weight="bold" text-anchor="middle" textLength="10.75" lengthAdjust="spacing" stroke="#000" stroke-width="0.3">30</text>
<line x1="429.38" y1="717.3" x2="429.38" y2="722.3" stroke="#333" stroke-width="1.2"/>
<text transform="translate(429.58 731.6) scale(0.8 1)" x="0" y="0" font-size="9" font-weight="bold" text-anchor="middle" textLength="10.75" lengthAdjust="spacing" stroke="#000" stroke-width="0.3">40</text>
<line x1="458.05" y1="717.3" x2="458.05" y2="722.3" stroke="#333" stroke-width="1.2"/>
<text transform="translate(458.25 731.6) scale(0.8 1)" x="0" y="0" font-size="9" font-weight="bold" text-anchor="middle" textLength="10.75" lengthAdjust="spacing" stroke="#000" stroke-width="0.3">50</text>
<line x1="486.72" y1="717.3" x2="486.72" y2="722.3" stroke="#333" stroke-width="1.2"/>
<text transform="translate(486.92 731.6) scale(0.8 1)" x="0" y="0" font-size="9" font-weight="bold" text-anchor="middle" textLength="10.75" lengthAdjust="spacing" stroke="#000" stroke-width="0.3">60</text>
<text transform="translate(401.11 746.3) scale(0.75 1)" x="0" y="0" font-size="10.8" font-weight="bold" text-anchor="middle" textLength="99.87" lengthAdjust="spacing" stroke="#000" stroke-width="0.3">Treatment (hour)</text>
<text transform="translate(386.6 587.9) scale(0.7 1)" x="0" y="0" font-size="12.3" font-weight="bold" textLength="38.57" lengthAdjust="spacing" stroke="#000" stroke-width="0.3">U2OS</text>
<text transform="translate(282.5 659.5) rotate(-90) scale(0.84 1)" x="0" y="0" font-size="9.8" font-weight="bold" text-anchor="middle" textLength="140.95" lengthAdjust="spacing" stroke="#000" stroke-width="0.18">% of Caspase3/7 depedent</text>
<text transform="translate(293.6 659.1) rotate(-90) scale(0.84 1)" x="0" y="0" font-size="9.8" font-weight="bold" text-anchor="middle" textLength="105.48" lengthAdjust="spacing" stroke="#000" stroke-width="0.18">apoptotic cell death</text>
<polyline points="491.2,638.6 494.4,638.6 494.4,675.4 491.2,675.4" fill="none" stroke="#444" stroke-width="1.2"/>
<polyline points="501,638.6 504,638.6 504,709.8 501,709.8" fill="none" stroke="#444" stroke-width="1.2"/>
<path d="M502.75 648.4L498.05 648.4M501.57 646.36L499.22 650.44M501.57 650.44L499.22 646.36" stroke="#000" stroke-width="1" fill="none"/>
<path d="M502.75 657.4L498.05 657.4M501.57 655.36L499.22 659.44M501.57 659.44L499.22 655.36" stroke="#000" stroke-width="1" fill="none"/>
<path d="M502.75 666.4L498.05 666.4M501.57 664.36L499.22 668.44M501.57 668.44L499.22 664.36" stroke="#000" stroke-width="1" fill="none"/>
<path d="M512.85 661.9L508.15 661.9M511.68 659.86L509.32 663.94M511.68 663.94L509.32 659.86" stroke="#000" stroke-width="1" fill="none"/>
<path d="M512.85 670.9L508.15 670.9M511.68 668.86L509.32 672.94M511.68 672.94L509.32 668.86" stroke="#000" stroke-width="1" fill="none"/>
<path d="M512.85 679.9L508.15 679.9M511.68 677.86L509.32 681.94M511.68 681.94L509.32 677.86" stroke="#000" stroke-width="1" fill="none"/>
<path d="M512.85 688.6L508.15 688.6M511.68 686.56L509.32 690.64M511.68 690.64L509.32 686.56" stroke="#000" stroke-width="1" fill="none"/>
<line x1="521" y1="637.4" x2="533.3" y2="637.4" stroke="#7C8FD0" stroke-width="0.8"/>
<circle cx="527.15" cy="637.4" r="1.6" fill="#3450B0"/>
<text transform="translate(539.3 640.9) scale(0.78 1)" x="0" y="0" font-size="10.4" fill="#3a3a3a" stroke="#3a3a3a" stroke-width="0.12" letter-spacing="1.08">NCT-Inactive</text>
<line x1="521" y1="652.6" x2="533.3" y2="652.6" stroke="#F08A84" stroke-width="0.8"/>
<circle cx="527.15" cy="652.6" r="1.6" fill="#E83228"/>
<text transform="translate(539.3 656.1) scale(0.78 1)" x="0" y="0" font-size="10.4" fill="#3a3a3a" stroke="#3a3a3a" stroke-width="0.12" letter-spacing="1.08">NCT-503</text>
<line x1="521" y1="667.9" x2="533.3" y2="667.9" stroke="#CBD87A" stroke-width="0.8"/>
<circle cx="527.15" cy="667.9" r="1.6" fill="#ABBE22"/>
<text transform="translate(539.3 671.4) scale(0.78 1)" x="0" y="0" font-size="10.4" fill="#3a3a3a" stroke="#3a3a3a" stroke-width="0.12" letter-spacing="1.08">ALPI3MT55</text>
<line x1="521" y1="683.6" x2="533.3" y2="683.6" stroke="#9E9E9E" stroke-width="0.8"/>
<circle cx="527.15" cy="683.6" r="1.6" fill="#5E5E5E"/>
<text transform="translate(539.3 687.1) scale(0.78 1)" x="0" y="0" font-size="10.4" fill="#3a3a3a" stroke="#3a3a3a" stroke-width="0.12" letter-spacing="1.08">NCT-503 + ALPI3MT55</text>
<line x1="521" y1="699.2" x2="533.3" y2="699.2" stroke="#DA9A6E" stroke-width="0.8"/>
<circle cx="527.15" cy="699.2" r="1.6" fill="#C2622C"/>
<text transform="translate(539.3 702.7) scale(0.78 1)" x="0" y="0" font-size="10.4" fill="#3a3a3a" stroke="#3a3a3a" stroke-width="0.12" letter-spacing="1.08">NCT-503 + ALPI3MT55 + ZVAD</text>
</svg>
</body></html>
